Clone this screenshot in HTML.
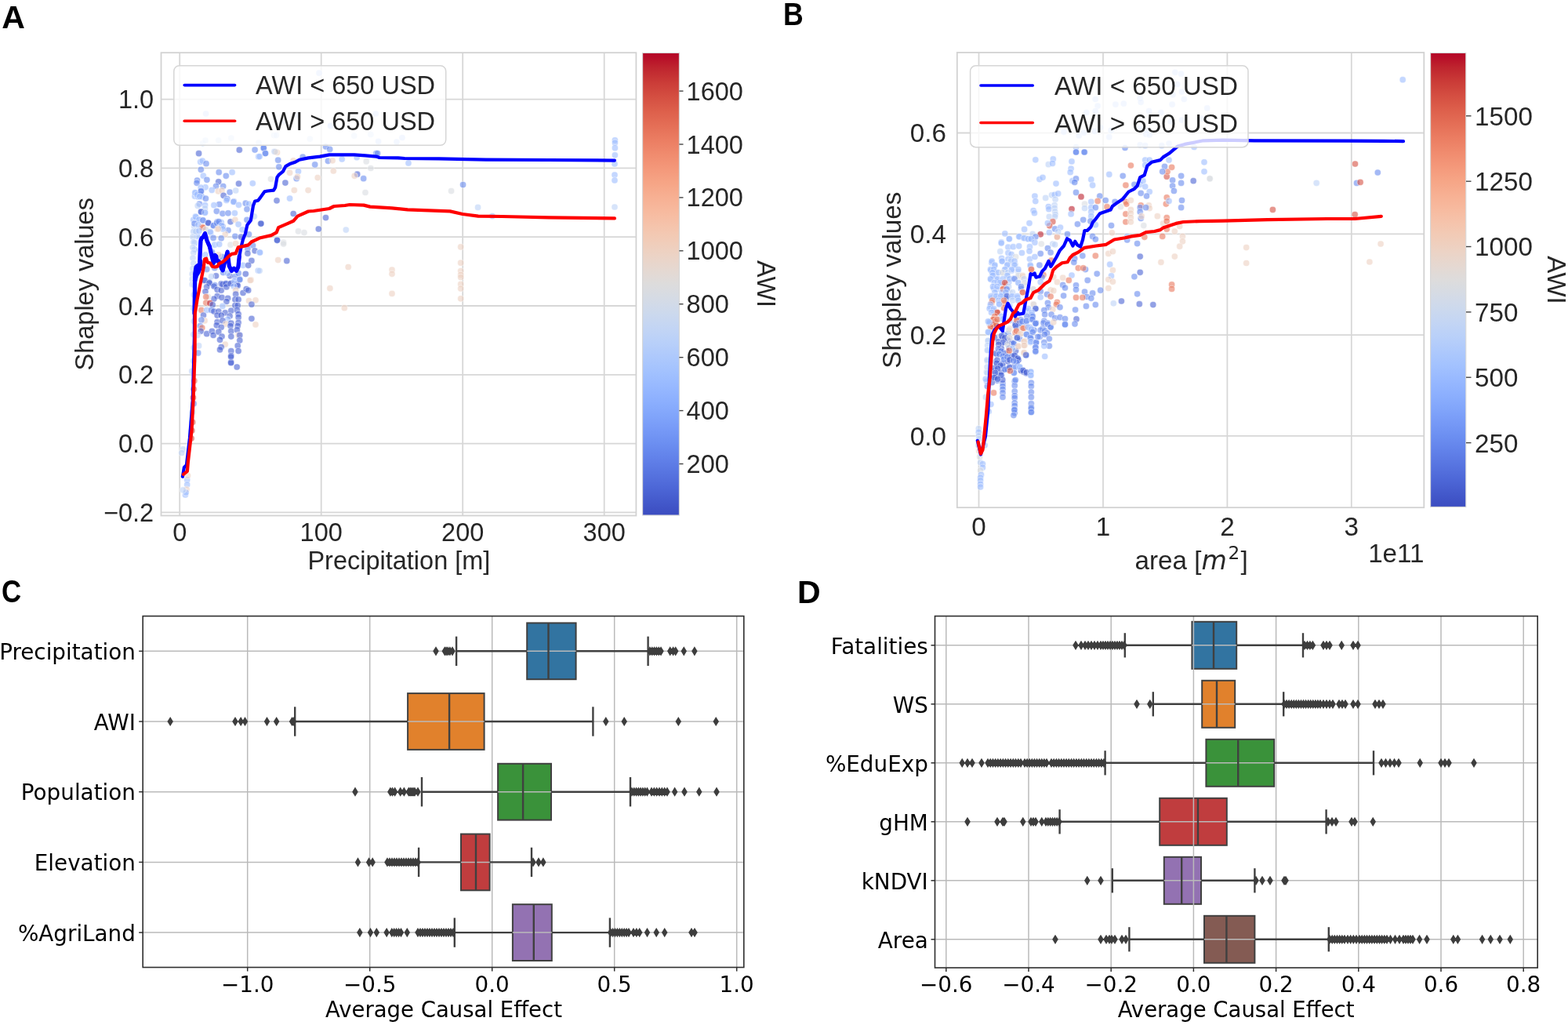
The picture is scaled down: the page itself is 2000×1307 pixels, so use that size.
<!DOCTYPE html>
<html><head><meta charset="utf-8"><title>Figure</title>
<style>html,body{margin:0;padding:0;background:#fff;}svg{display:block;}</style>
</head><body>
<svg width="2000" height="1307" viewBox="0 0 2000 1307">
<rect x="0" y="0" width="2000" height="1307" fill="#ffffff" stroke="none" stroke-width="0"/>
<text transform="translate(2.3,35.8) scale(1.0,1)" font-family="'Liberation Sans', Arial, sans-serif" font-weight="bold" font-size="41" fill="#000">A</text>
<text transform="translate(998.9,32) scale(0.87,1)" font-family="'Liberation Sans', Arial, sans-serif" font-weight="bold" font-size="41" fill="#000">B</text>
<text transform="translate(2.1,768.4) scale(0.85,1)" font-family="'Liberation Sans', Arial, sans-serif" font-weight="bold" font-size="41" fill="#000">C</text>
<text transform="translate(1016.9,768.8) scale(1.0,1)" font-family="'Liberation Sans', Arial, sans-serif" font-weight="bold" font-size="41" fill="#000">D</text>
<defs><clipPath id="clipA"><rect x="205.5" y="67.2" width="605.9" height="590.3"/></clipPath></defs>
<line x1="229.2" y1="67.2" x2="229.2" y2="657.5" stroke="#d7d7d7" stroke-width="1.8"/>
<line x1="409.7" y1="67.2" x2="409.7" y2="657.5" stroke="#d7d7d7" stroke-width="1.8"/>
<line x1="590.2" y1="67.2" x2="590.2" y2="657.5" stroke="#d7d7d7" stroke-width="1.8"/>
<line x1="770.7" y1="67.2" x2="770.7" y2="657.5" stroke="#d7d7d7" stroke-width="1.8"/>
<line x1="205.5" y1="653.4" x2="811.4" y2="653.4" stroke="#d7d7d7" stroke-width="1.8"/>
<line x1="205.5" y1="565.6" x2="811.4" y2="565.6" stroke="#d7d7d7" stroke-width="1.8"/>
<line x1="205.5" y1="477.8" x2="811.4" y2="477.8" stroke="#d7d7d7" stroke-width="1.8"/>
<line x1="205.5" y1="390" x2="811.4" y2="390" stroke="#d7d7d7" stroke-width="1.8"/>
<line x1="205.5" y1="302.2" x2="811.4" y2="302.2" stroke="#d7d7d7" stroke-width="1.8"/>
<line x1="205.5" y1="214.4" x2="811.4" y2="214.4" stroke="#d7d7d7" stroke-width="1.8"/>
<line x1="205.5" y1="126.6" x2="811.4" y2="126.6" stroke="#d7d7d7" stroke-width="1.8"/>
<rect x="205.5" y="67.2" width="605.9" height="590.3" fill="none" stroke="#d2d2d2" stroke-width="1.8"/>
<g clip-path="url(#clipA)" stroke="#fff" stroke-width="0.8">
<circle cx="258.6" cy="182.8" r="4.1" fill="#bcd2f7" fill-opacity="0.6" stroke-opacity="0.6"/>
<circle cx="262" cy="179" r="4.1" fill="#bcd2f7" fill-opacity="0.6" stroke-opacity="0.6"/>
<circle cx="278.7" cy="179" r="4.1" fill="#bcd2f7" fill-opacity="0.6" stroke-opacity="0.6"/>
<circle cx="294.8" cy="176.1" r="4.1" fill="#bcd2f7" fill-opacity="0.6" stroke-opacity="0.6"/>
<circle cx="330" cy="182" r="4.1" fill="#bcd2f7" fill-opacity="0.6" stroke-opacity="0.6"/>
<circle cx="253.6" cy="195.7" r="4.1" fill="#4a63d3" fill-opacity="0.6" stroke-opacity="0.6"/>
<circle cx="305.3" cy="191.2" r="4.1" fill="#4a63d3" fill-opacity="0.6" stroke-opacity="0.6"/>
<circle cx="325.1" cy="191.1" r="4.1" fill="#688aef" fill-opacity="0.6" stroke-opacity="0.6"/>
<circle cx="336.2" cy="188.9" r="4.1" fill="#688aef" fill-opacity="0.6" stroke-opacity="0.6"/>
<circle cx="338.2" cy="195.5" r="4.1" fill="#688aef" fill-opacity="0.6" stroke-opacity="0.6"/>
<circle cx="329.7" cy="199.8" r="4.1" fill="#9dbdff" fill-opacity="0.6" stroke-opacity="0.6"/>
<circle cx="255.7" cy="206.6" r="4.1" fill="#9dbdff" fill-opacity="0.6" stroke-opacity="0.6"/>
<circle cx="258.2" cy="205.1" r="4.1" fill="#9dbdff" fill-opacity="0.6" stroke-opacity="0.6"/>
<circle cx="263" cy="208.7" r="4.1" fill="#688aef" fill-opacity="0.6" stroke-opacity="0.6"/>
<circle cx="256.3" cy="216.3" r="4.1" fill="#688aef" fill-opacity="0.6" stroke-opacity="0.6"/>
<circle cx="259.3" cy="224.2" r="4.1" fill="#9dbdff" fill-opacity="0.6" stroke-opacity="0.6"/>
<circle cx="263.9" cy="229.3" r="4.1" fill="#688aef" fill-opacity="0.6" stroke-opacity="0.6"/>
<circle cx="251.5" cy="230" r="4.1" fill="#688aef" fill-opacity="0.6" stroke-opacity="0.6"/>
<circle cx="251" cy="233.3" r="4.1" fill="#688aef" fill-opacity="0.6" stroke-opacity="0.6"/>
<circle cx="279.2" cy="219.7" r="4.1" fill="#688aef" fill-opacity="0.6" stroke-opacity="0.6"/>
<circle cx="288.3" cy="224.3" r="4.1" fill="#688aef" fill-opacity="0.6" stroke-opacity="0.6"/>
<circle cx="296.1" cy="219.7" r="4.1" fill="#9dbdff" fill-opacity="0.6" stroke-opacity="0.6"/>
<circle cx="278.7" cy="231.8" r="4.1" fill="#4a63d3" fill-opacity="0.6" stroke-opacity="0.6"/>
<circle cx="304.5" cy="234.2" r="4.1" fill="#4a63d3" fill-opacity="0.6" stroke-opacity="0.6"/>
<circle cx="322.3" cy="233.8" r="4.1" fill="#9dbdff" fill-opacity="0.6" stroke-opacity="0.6"/>
<circle cx="275.5" cy="237.5" r="4.1" fill="#688aef" fill-opacity="0.6" stroke-opacity="0.6"/>
<circle cx="284.7" cy="237.5" r="4.1" fill="#688aef" fill-opacity="0.6" stroke-opacity="0.6"/>
<circle cx="262" cy="238.8" r="4.1" fill="#9dbdff" fill-opacity="0.6" stroke-opacity="0.6"/>
<circle cx="256.1" cy="239.2" r="4.1" fill="#9dbdff" fill-opacity="0.6" stroke-opacity="0.6"/>
<circle cx="270.2" cy="242.4" r="4.1" fill="#9dbdff" fill-opacity="0.6" stroke-opacity="0.6"/>
<circle cx="278.4" cy="243.9" r="4.1" fill="#edd1c2" fill-opacity="0.6" stroke-opacity="0.6"/>
<circle cx="283" cy="243" r="4.1" fill="#edd1c2" fill-opacity="0.6" stroke-opacity="0.6"/>
<circle cx="293.1" cy="245.1" r="4.1" fill="#688aef" fill-opacity="0.6" stroke-opacity="0.6"/>
<circle cx="300.7" cy="243" r="4.1" fill="#bcd2f7" fill-opacity="0.6" stroke-opacity="0.6"/>
<circle cx="249.4" cy="246" r="4.1" fill="#9dbdff" fill-opacity="0.6" stroke-opacity="0.6"/>
<circle cx="256.5" cy="243.4" r="4.1" fill="#688aef" fill-opacity="0.6" stroke-opacity="0.6"/>
<circle cx="255.7" cy="247.6" r="4.1" fill="#688aef" fill-opacity="0.6" stroke-opacity="0.6"/>
<circle cx="248.5" cy="250.2" r="4.1" fill="#9dbdff" fill-opacity="0.6" stroke-opacity="0.6"/>
<circle cx="252.7" cy="251" r="4.1" fill="#9dbdff" fill-opacity="0.6" stroke-opacity="0.6"/>
<circle cx="257.8" cy="251" r="4.1" fill="#9dbdff" fill-opacity="0.6" stroke-opacity="0.6"/>
<circle cx="262.4" cy="253.1" r="4.1" fill="#688aef" fill-opacity="0.6" stroke-opacity="0.6"/>
<circle cx="285.1" cy="249.3" r="4.1" fill="#4a63d3" fill-opacity="0.6" stroke-opacity="0.6"/>
<circle cx="289.8" cy="253.5" r="4.1" fill="#688aef" fill-opacity="0.6" stroke-opacity="0.6"/>
<circle cx="298.2" cy="256.9" r="4.1" fill="#688aef" fill-opacity="0.6" stroke-opacity="0.6"/>
<circle cx="254.4" cy="260.1" r="4.1" fill="#688aef" fill-opacity="0.6" stroke-opacity="0.6"/>
<circle cx="261.6" cy="261.7" r="4.1" fill="#9dbdff" fill-opacity="0.6" stroke-opacity="0.6"/>
<circle cx="279.7" cy="260.5" r="4.1" fill="#688aef" fill-opacity="0.6" stroke-opacity="0.6"/>
<circle cx="272.9" cy="261.7" r="4.1" fill="#9dbdff" fill-opacity="0.6" stroke-opacity="0.6"/>
<circle cx="288.9" cy="255.4" r="4.1" fill="#9dbdff" fill-opacity="0.6" stroke-opacity="0.6"/>
<circle cx="297.8" cy="257.5" r="4.1" fill="#9dbdff" fill-opacity="0.6" stroke-opacity="0.6"/>
<circle cx="304.5" cy="261.3" r="4.1" fill="#9dbdff" fill-opacity="0.6" stroke-opacity="0.6"/>
<circle cx="313.3" cy="259.2" r="4.1" fill="#688aef" fill-opacity="0.6" stroke-opacity="0.6"/>
<circle cx="317.5" cy="260.1" r="4.1" fill="#9dbdff" fill-opacity="0.6" stroke-opacity="0.6"/>
<circle cx="315" cy="266.8" r="4.1" fill="#688aef" fill-opacity="0.6" stroke-opacity="0.6"/>
<circle cx="261.6" cy="271" r="4.1" fill="#9dbdff" fill-opacity="0.6" stroke-opacity="0.6"/>
<circle cx="256.9" cy="270.2" r="4.1" fill="#688aef" fill-opacity="0.6" stroke-opacity="0.6"/>
<circle cx="276.3" cy="269.3" r="4.1" fill="#688aef" fill-opacity="0.6" stroke-opacity="0.6"/>
<circle cx="283.9" cy="272.3" r="4.1" fill="#688aef" fill-opacity="0.6" stroke-opacity="0.6"/>
<circle cx="291" cy="271.8" r="4.1" fill="#688aef" fill-opacity="0.6" stroke-opacity="0.6"/>
<circle cx="299.4" cy="271.8" r="4.1" fill="#9dbdff" fill-opacity="0.6" stroke-opacity="0.6"/>
<circle cx="249.4" cy="276" r="4.1" fill="#9dbdff" fill-opacity="0.6" stroke-opacity="0.6"/>
<circle cx="324.3" cy="276" r="4.1" fill="#bcd2f7" fill-opacity="0.6" stroke-opacity="0.6"/>
<circle cx="252.7" cy="280.3" r="4.1" fill="#9dbdff" fill-opacity="0.6" stroke-opacity="0.6"/>
<circle cx="258.6" cy="281.1" r="4.1" fill="#9dbdff" fill-opacity="0.6" stroke-opacity="0.6"/>
<circle cx="265.4" cy="284" r="4.1" fill="#4a63d3" fill-opacity="0.6" stroke-opacity="0.6"/>
<circle cx="272.1" cy="287.8" r="4.1" fill="#688aef" fill-opacity="0.6" stroke-opacity="0.6"/>
<circle cx="277.1" cy="282.8" r="4.1" fill="#688aef" fill-opacity="0.6" stroke-opacity="0.6"/>
<circle cx="282.2" cy="283.6" r="4.1" fill="#9dbdff" fill-opacity="0.6" stroke-opacity="0.6"/>
<circle cx="294" cy="282.8" r="4.1" fill="#4a63d3" fill-opacity="0.6" stroke-opacity="0.6"/>
<circle cx="299.9" cy="280.3" r="4.1" fill="#edd1c2" fill-opacity="0.6" stroke-opacity="0.6"/>
<circle cx="304.1" cy="286.1" r="4.1" fill="#9dbdff" fill-opacity="0.6" stroke-opacity="0.6"/>
<circle cx="315" cy="280.3" r="4.1" fill="#688aef" fill-opacity="0.6" stroke-opacity="0.6"/>
<circle cx="332.7" cy="285.3" r="4.1" fill="#4a63d3" fill-opacity="0.6" stroke-opacity="0.6"/>
<circle cx="257.8" cy="289.5" r="4.1" fill="#e9785d" fill-opacity="0.6" stroke-opacity="0.6"/>
<circle cx="262.8" cy="292.9" r="4.1" fill="#d9dce1" fill-opacity="0.6" stroke-opacity="0.6"/>
<circle cx="277.1" cy="292" r="4.1" fill="#edd1c2" fill-opacity="0.6" stroke-opacity="0.6"/>
<circle cx="283.9" cy="288.7" r="4.1" fill="#688aef" fill-opacity="0.6" stroke-opacity="0.6"/>
<circle cx="291" cy="293.7" r="4.1" fill="#688aef" fill-opacity="0.6" stroke-opacity="0.6"/>
<circle cx="309.1" cy="292.9" r="4.1" fill="#9dbdff" fill-opacity="0.6" stroke-opacity="0.6"/>
<circle cx="248.5" cy="294.6" r="4.1" fill="#9dbdff" fill-opacity="0.6" stroke-opacity="0.6"/>
<circle cx="268.7" cy="297.1" r="4.1" fill="#9dbdff" fill-opacity="0.6" stroke-opacity="0.6"/>
<circle cx="287.2" cy="298.8" r="4.1" fill="#edd1c2" fill-opacity="0.6" stroke-opacity="0.6"/>
<circle cx="317.5" cy="298.8" r="4.1" fill="#688aef" fill-opacity="0.6" stroke-opacity="0.6"/>
<circle cx="251.9" cy="301.3" r="4.1" fill="#9dbdff" fill-opacity="0.6" stroke-opacity="0.6"/>
<circle cx="272.1" cy="303.4" r="4.1" fill="#688aef" fill-opacity="0.6" stroke-opacity="0.6"/>
<circle cx="282.2" cy="303.8" r="4.1" fill="#688aef" fill-opacity="0.6" stroke-opacity="0.6"/>
<circle cx="299.9" cy="301.3" r="4.1" fill="#688aef" fill-opacity="0.6" stroke-opacity="0.6"/>
<circle cx="307.4" cy="302.1" r="4.1" fill="#4a63d3" fill-opacity="0.6" stroke-opacity="0.6"/>
<circle cx="248.5" cy="309.7" r="4.1" fill="#9dbdff" fill-opacity="0.6" stroke-opacity="0.6"/>
<circle cx="273.8" cy="312.2" r="4.1" fill="#9dbdff" fill-opacity="0.6" stroke-opacity="0.6"/>
<circle cx="279.7" cy="311.4" r="4.1" fill="#9dbdff" fill-opacity="0.6" stroke-opacity="0.6"/>
<circle cx="294" cy="312.2" r="4.1" fill="#d9dce1" fill-opacity="0.6" stroke-opacity="0.6"/>
<circle cx="300.7" cy="310.6" r="4.1" fill="#edd1c2" fill-opacity="0.6" stroke-opacity="0.6"/>
<circle cx="322.6" cy="313.1" r="4.1" fill="#688aef" fill-opacity="0.6" stroke-opacity="0.6"/>
<circle cx="248.5" cy="318.1" r="4.1" fill="#9dbdff" fill-opacity="0.6" stroke-opacity="0.6"/>
<circle cx="315.9" cy="317.3" r="4.1" fill="#688aef" fill-opacity="0.6" stroke-opacity="0.6"/>
<circle cx="325.1" cy="319.8" r="4.1" fill="#4a63d3" fill-opacity="0.6" stroke-opacity="0.6"/>
<circle cx="331" cy="321.9" r="4.1" fill="#9dbdff" fill-opacity="0.6" stroke-opacity="0.6"/>
<circle cx="315.9" cy="323.2" r="4.1" fill="#4a63d3" fill-opacity="0.6" stroke-opacity="0.6"/>
<circle cx="270.4" cy="321.5" r="4.1" fill="#688aef" fill-opacity="0.6" stroke-opacity="0.6"/>
<circle cx="262" cy="324.9" r="4.1" fill="#9dbdff" fill-opacity="0.6" stroke-opacity="0.6"/>
<circle cx="283" cy="327.4" r="4.1" fill="#688aef" fill-opacity="0.6" stroke-opacity="0.6"/>
<circle cx="278.8" cy="324.9" r="4.1" fill="#edd1c2" fill-opacity="0.6" stroke-opacity="0.6"/>
<circle cx="320.9" cy="332.4" r="4.1" fill="#4a63d3" fill-opacity="0.6" stroke-opacity="0.6"/>
<circle cx="310" cy="338.3" r="4.1" fill="#9dbdff" fill-opacity="0.6" stroke-opacity="0.6"/>
<circle cx="316.7" cy="338.3" r="4.1" fill="#4a63d3" fill-opacity="0.6" stroke-opacity="0.6"/>
<circle cx="329.3" cy="345.1" r="4.1" fill="#9dbdff" fill-opacity="0.6" stroke-opacity="0.6"/>
<circle cx="263.7" cy="343.4" r="4.1" fill="#688aef" fill-opacity="0.6" stroke-opacity="0.6"/>
<circle cx="273.8" cy="341.7" r="4.1" fill="#688aef" fill-opacity="0.6" stroke-opacity="0.6"/>
<circle cx="313.3" cy="349.3" r="4.1" fill="#4a63d3" fill-opacity="0.6" stroke-opacity="0.6"/>
<circle cx="320.1" cy="356.9" r="4.1" fill="#edd1c2" fill-opacity="0.6" stroke-opacity="0.6"/>
<circle cx="275.5" cy="351.8" r="4.1" fill="#4a63d3" fill-opacity="0.6" stroke-opacity="0.6"/>
<circle cx="269.6" cy="352.6" r="4.1" fill="#bcd2f7" fill-opacity="0.6" stroke-opacity="0.6"/>
<circle cx="293.1" cy="351.8" r="4.1" fill="#4a63d3" fill-opacity="0.6" stroke-opacity="0.6"/>
<circle cx="299.9" cy="352.6" r="4.1" fill="#688aef" fill-opacity="0.6" stroke-opacity="0.6"/>
<circle cx="305.8" cy="356" r="4.1" fill="#688aef" fill-opacity="0.6" stroke-opacity="0.6"/>
<circle cx="304.1" cy="348.4" r="4.1" fill="#688aef" fill-opacity="0.6" stroke-opacity="0.6"/>
<circle cx="284.7" cy="347.6" r="4.1" fill="#688aef" fill-opacity="0.6" stroke-opacity="0.6"/>
<circle cx="290.6" cy="348.4" r="4.1" fill="#9dbdff" fill-opacity="0.6" stroke-opacity="0.6"/>
<circle cx="260.3" cy="357.7" r="4.1" fill="#688aef" fill-opacity="0.6" stroke-opacity="0.6"/>
<circle cx="267" cy="360.2" r="4.1" fill="#4a63d3" fill-opacity="0.6" stroke-opacity="0.6"/>
<circle cx="282.2" cy="361.9" r="4.1" fill="#4a63d3" fill-opacity="0.6" stroke-opacity="0.6"/>
<circle cx="288.9" cy="361.9" r="4.1" fill="#688aef" fill-opacity="0.6" stroke-opacity="0.6"/>
<circle cx="295.7" cy="361.1" r="4.1" fill="#4a63d3" fill-opacity="0.6" stroke-opacity="0.6"/>
<circle cx="302.4" cy="362.7" r="4.1" fill="#4a63d3" fill-opacity="0.6" stroke-opacity="0.6"/>
<circle cx="273.8" cy="363.6" r="4.1" fill="#688aef" fill-opacity="0.6" stroke-opacity="0.6"/>
<circle cx="246.8" cy="280.3" r="4.1" fill="#9dbdff" fill-opacity="0.6" stroke-opacity="0.6"/>
<circle cx="247.7" cy="288.7" r="4.1" fill="#bcd2f7" fill-opacity="0.6" stroke-opacity="0.6"/>
<circle cx="246.8" cy="295.4" r="4.1" fill="#bcd2f7" fill-opacity="0.6" stroke-opacity="0.6"/>
<circle cx="246" cy="302.1" r="4.1" fill="#bcd2f7" fill-opacity="0.6" stroke-opacity="0.6"/>
<circle cx="246.8" cy="308.9" r="4.1" fill="#bcd2f7" fill-opacity="0.6" stroke-opacity="0.6"/>
<circle cx="246" cy="315.6" r="4.1" fill="#bcd2f7" fill-opacity="0.6" stroke-opacity="0.6"/>
<circle cx="246.8" cy="322.3" r="4.1" fill="#bcd2f7" fill-opacity="0.6" stroke-opacity="0.6"/>
<circle cx="246" cy="329.1" r="4.1" fill="#bcd2f7" fill-opacity="0.6" stroke-opacity="0.6"/>
<circle cx="246.8" cy="335.8" r="4.1" fill="#bcd2f7" fill-opacity="0.6" stroke-opacity="0.6"/>
<circle cx="246" cy="342.5" r="4.1" fill="#bcd2f7" fill-opacity="0.6" stroke-opacity="0.6"/>
<circle cx="245.2" cy="349.3" r="4.1" fill="#bcd2f7" fill-opacity="0.6" stroke-opacity="0.6"/>
<circle cx="245.2" cy="356" r="4.1" fill="#bcd2f7" fill-opacity="0.6" stroke-opacity="0.6"/>
<circle cx="245.2" cy="362.7" r="4.1" fill="#bcd2f7" fill-opacity="0.6" stroke-opacity="0.6"/>
<circle cx="261.1" cy="357.5" r="4.1" fill="#4a63d3" fill-opacity="0.6" stroke-opacity="0.6"/>
<circle cx="267" cy="360.9" r="4.1" fill="#4a63d3" fill-opacity="0.6" stroke-opacity="0.6"/>
<circle cx="263.7" cy="365.9" r="4.1" fill="#4a63d3" fill-opacity="0.6" stroke-opacity="0.6"/>
<circle cx="262" cy="371.8" r="4.1" fill="#4a63d3" fill-opacity="0.6" stroke-opacity="0.6"/>
<circle cx="272.9" cy="365.1" r="4.1" fill="#4a63d3" fill-opacity="0.6" stroke-opacity="0.6"/>
<circle cx="277.1" cy="369.3" r="4.1" fill="#4a63d3" fill-opacity="0.6" stroke-opacity="0.6"/>
<circle cx="282.2" cy="370.2" r="4.1" fill="#4a63d3" fill-opacity="0.6" stroke-opacity="0.6"/>
<circle cx="283.9" cy="362.6" r="4.1" fill="#4a63d3" fill-opacity="0.6" stroke-opacity="0.6"/>
<circle cx="288.1" cy="361.7" r="4.1" fill="#4a63d3" fill-opacity="0.6" stroke-opacity="0.6"/>
<circle cx="288.9" cy="365.9" r="4.1" fill="#4a63d3" fill-opacity="0.6" stroke-opacity="0.6"/>
<circle cx="294" cy="361.7" r="4.1" fill="#4a63d3" fill-opacity="0.6" stroke-opacity="0.6"/>
<circle cx="299" cy="358.4" r="4.1" fill="#9dbdff" fill-opacity="0.6" stroke-opacity="0.6"/>
<circle cx="305.8" cy="356.7" r="4.1" fill="#688aef" fill-opacity="0.6" stroke-opacity="0.6"/>
<circle cx="319.2" cy="357.5" r="4.1" fill="#edd1c2" fill-opacity="0.6" stroke-opacity="0.6"/>
<circle cx="303.2" cy="364.3" r="4.1" fill="#4a63d3" fill-opacity="0.6" stroke-opacity="0.6"/>
<circle cx="298.2" cy="365.1" r="4.1" fill="#9dbdff" fill-opacity="0.6" stroke-opacity="0.6"/>
<circle cx="300.7" cy="370.2" r="4.1" fill="#edd1c2" fill-opacity="0.6" stroke-opacity="0.6"/>
<circle cx="300.7" cy="375.2" r="4.1" fill="#4a63d3" fill-opacity="0.6" stroke-opacity="0.6"/>
<circle cx="310" cy="373.5" r="4.1" fill="#4a63d3" fill-opacity="0.6" stroke-opacity="0.6"/>
<circle cx="314.2" cy="368.5" r="4.1" fill="#4a63d3" fill-opacity="0.6" stroke-opacity="0.6"/>
<circle cx="316.7" cy="370.2" r="4.1" fill="#4a63d3" fill-opacity="0.6" stroke-opacity="0.6"/>
<circle cx="277.1" cy="377.7" r="4.1" fill="#4a63d3" fill-opacity="0.6" stroke-opacity="0.6"/>
<circle cx="272.9" cy="381.1" r="4.1" fill="#4a63d3" fill-opacity="0.6" stroke-opacity="0.6"/>
<circle cx="283" cy="379.4" r="4.1" fill="#4a63d3" fill-opacity="0.6" stroke-opacity="0.6"/>
<circle cx="290.6" cy="380.3" r="4.1" fill="#4a63d3" fill-opacity="0.6" stroke-opacity="0.6"/>
<circle cx="288.9" cy="384.5" r="4.1" fill="#4a63d3" fill-opacity="0.6" stroke-opacity="0.6"/>
<circle cx="299.9" cy="381.9" r="4.1" fill="#4a63d3" fill-opacity="0.6" stroke-opacity="0.6"/>
<circle cx="304.1" cy="381.9" r="4.1" fill="#4a63d3" fill-opacity="0.6" stroke-opacity="0.6"/>
<circle cx="265.4" cy="378.6" r="4.1" fill="#d9dce1" fill-opacity="0.6" stroke-opacity="0.6"/>
<circle cx="262.8" cy="378.6" r="4.1" fill="#e9785d" fill-opacity="0.6" stroke-opacity="0.6"/>
<circle cx="262.8" cy="386.1" r="4.1" fill="#e9785d" fill-opacity="0.6" stroke-opacity="0.6"/>
<circle cx="267.9" cy="386.6" r="4.1" fill="#bd1f2d" fill-opacity="0.6" stroke-opacity="0.6"/>
<circle cx="271.2" cy="388.7" r="4.1" fill="#4a63d3" fill-opacity="0.6" stroke-opacity="0.6"/>
<circle cx="283.9" cy="390.4" r="4.1" fill="#9dbdff" fill-opacity="0.6" stroke-opacity="0.6"/>
<circle cx="299.9" cy="389.5" r="4.1" fill="#4a63d3" fill-opacity="0.6" stroke-opacity="0.6"/>
<circle cx="303.2" cy="389.5" r="4.1" fill="#4a63d3" fill-opacity="0.6" stroke-opacity="0.6"/>
<circle cx="317.5" cy="383.6" r="4.1" fill="#edd1c2" fill-opacity="0.6" stroke-opacity="0.6"/>
<circle cx="326" cy="382.8" r="4.1" fill="#edd1c2" fill-opacity="0.6" stroke-opacity="0.6"/>
<circle cx="320.9" cy="388.2" r="4.1" fill="#4a63d3" fill-opacity="0.6" stroke-opacity="0.6"/>
<circle cx="256.9" cy="395.4" r="4.1" fill="#e9785d" fill-opacity="0.6" stroke-opacity="0.6"/>
<circle cx="263.7" cy="395.4" r="4.1" fill="#9dbdff" fill-opacity="0.6" stroke-opacity="0.6"/>
<circle cx="269.6" cy="395.4" r="4.1" fill="#688aef" fill-opacity="0.6" stroke-opacity="0.6"/>
<circle cx="272.9" cy="397.1" r="4.1" fill="#4a63d3" fill-opacity="0.6" stroke-opacity="0.6"/>
<circle cx="278.8" cy="397.1" r="4.1" fill="#4a63d3" fill-opacity="0.6" stroke-opacity="0.6"/>
<circle cx="287.2" cy="398.8" r="4.1" fill="#4a63d3" fill-opacity="0.6" stroke-opacity="0.6"/>
<circle cx="294.8" cy="396.2" r="4.1" fill="#4a63d3" fill-opacity="0.6" stroke-opacity="0.6"/>
<circle cx="302.4" cy="395.4" r="4.1" fill="#4a63d3" fill-opacity="0.6" stroke-opacity="0.6"/>
<circle cx="304.1" cy="400.5" r="4.1" fill="#4a63d3" fill-opacity="0.6" stroke-opacity="0.6"/>
<circle cx="259.5" cy="402.1" r="4.1" fill="#4a63d3" fill-opacity="0.6" stroke-opacity="0.6"/>
<circle cx="277.1" cy="402.1" r="4.1" fill="#4a63d3" fill-opacity="0.6" stroke-opacity="0.6"/>
<circle cx="282.2" cy="402.1" r="4.1" fill="#4a63d3" fill-opacity="0.6" stroke-opacity="0.6"/>
<circle cx="293.1" cy="403" r="4.1" fill="#4a63d3" fill-opacity="0.6" stroke-opacity="0.6"/>
<circle cx="304.1" cy="404.7" r="4.1" fill="#4a63d3" fill-opacity="0.6" stroke-opacity="0.6"/>
<circle cx="261.1" cy="408.9" r="4.1" fill="#edd1c2" fill-opacity="0.6" stroke-opacity="0.6"/>
<circle cx="256.9" cy="408" r="4.1" fill="#688aef" fill-opacity="0.6" stroke-opacity="0.6"/>
<circle cx="290.6" cy="407.2" r="4.1" fill="#9dbdff" fill-opacity="0.6" stroke-opacity="0.6"/>
<circle cx="277.1" cy="410.6" r="4.1" fill="#4a63d3" fill-opacity="0.6" stroke-opacity="0.6"/>
<circle cx="283.9" cy="408.9" r="4.1" fill="#4a63d3" fill-opacity="0.6" stroke-opacity="0.6"/>
<circle cx="288.1" cy="413.1" r="4.1" fill="#edd1c2" fill-opacity="0.6" stroke-opacity="0.6"/>
<circle cx="294.8" cy="412.2" r="4.1" fill="#4a63d3" fill-opacity="0.6" stroke-opacity="0.6"/>
<circle cx="304.1" cy="411.4" r="4.1" fill="#4a63d3" fill-opacity="0.6" stroke-opacity="0.6"/>
<circle cx="320.9" cy="406.3" r="4.1" fill="#4a63d3" fill-opacity="0.6" stroke-opacity="0.6"/>
<circle cx="326" cy="413.9" r="4.1" fill="#edd1c2" fill-opacity="0.6" stroke-opacity="0.6"/>
<circle cx="255.3" cy="415.6" r="4.1" fill="#688aef" fill-opacity="0.6" stroke-opacity="0.6"/>
<circle cx="257.8" cy="418.1" r="4.1" fill="#e9785d" fill-opacity="0.6" stroke-opacity="0.6"/>
<circle cx="276.3" cy="414.8" r="4.1" fill="#4a63d3" fill-opacity="0.6" stroke-opacity="0.6"/>
<circle cx="282.2" cy="417.3" r="4.1" fill="#4a63d3" fill-opacity="0.6" stroke-opacity="0.6"/>
<circle cx="294" cy="415.6" r="4.1" fill="#4a63d3" fill-opacity="0.6" stroke-opacity="0.6"/>
<circle cx="303.2" cy="415.6" r="4.1" fill="#4a63d3" fill-opacity="0.6" stroke-opacity="0.6"/>
<circle cx="256.1" cy="422.3" r="4.1" fill="#4a63d3" fill-opacity="0.6" stroke-opacity="0.6"/>
<circle cx="263.7" cy="425.7" r="4.1" fill="#4a63d3" fill-opacity="0.6" stroke-opacity="0.6"/>
<circle cx="270.4" cy="422.3" r="4.1" fill="#4a63d3" fill-opacity="0.6" stroke-opacity="0.6"/>
<circle cx="272.1" cy="427.4" r="4.1" fill="#4a63d3" fill-opacity="0.6" stroke-opacity="0.6"/>
<circle cx="278.8" cy="423.2" r="4.1" fill="#4a63d3" fill-opacity="0.6" stroke-opacity="0.6"/>
<circle cx="283" cy="429.1" r="4.1" fill="#4a63d3" fill-opacity="0.6" stroke-opacity="0.6"/>
<circle cx="294.8" cy="422.3" r="4.1" fill="#4a63d3" fill-opacity="0.6" stroke-opacity="0.6"/>
<circle cx="302.4" cy="420.7" r="4.1" fill="#4a63d3" fill-opacity="0.6" stroke-opacity="0.6"/>
<circle cx="294.8" cy="429.1" r="4.1" fill="#4a63d3" fill-opacity="0.6" stroke-opacity="0.6"/>
<circle cx="304.1" cy="427.4" r="4.1" fill="#edd1c2" fill-opacity="0.6" stroke-opacity="0.6"/>
<circle cx="305.8" cy="427.4" r="4.1" fill="#4a63d3" fill-opacity="0.6" stroke-opacity="0.6"/>
<circle cx="280.5" cy="433.3" r="4.1" fill="#4a63d3" fill-opacity="0.6" stroke-opacity="0.6"/>
<circle cx="305.8" cy="434.1" r="4.1" fill="#4a63d3" fill-opacity="0.6" stroke-opacity="0.6"/>
<circle cx="287.2" cy="439.2" r="4.1" fill="#edd1c2" fill-opacity="0.6" stroke-opacity="0.6"/>
<circle cx="282.2" cy="442.5" r="4.1" fill="#4a63d3" fill-opacity="0.6" stroke-opacity="0.6"/>
<circle cx="280.5" cy="445.9" r="4.1" fill="#4a63d3" fill-opacity="0.6" stroke-opacity="0.6"/>
<circle cx="303.2" cy="440.9" r="4.1" fill="#4a63d3" fill-opacity="0.6" stroke-opacity="0.6"/>
<circle cx="294.8" cy="447.6" r="4.1" fill="#4a63d3" fill-opacity="0.6" stroke-opacity="0.6"/>
<circle cx="304.1" cy="447.6" r="4.1" fill="#4a63d3" fill-opacity="0.6" stroke-opacity="0.6"/>
<circle cx="294.8" cy="453.5" r="4.1" fill="#4a63d3" fill-opacity="0.6" stroke-opacity="0.6"/>
<circle cx="294.8" cy="461.9" r="4.1" fill="#4a63d3" fill-opacity="0.6" stroke-opacity="0.6"/>
<circle cx="252.7" cy="450.1" r="4.1" fill="#688aef" fill-opacity="0.6" stroke-opacity="0.6"/>
<circle cx="253.6" cy="440.9" r="4.1" fill="#bcd2f7" fill-opacity="0.6" stroke-opacity="0.6"/>
<circle cx="251.9" cy="427.4" r="4.1" fill="#bcd2f7" fill-opacity="0.6" stroke-opacity="0.6"/>
<circle cx="247.3" cy="363.4" r="4.1" fill="#bcd2f7" fill-opacity="0.6" stroke-opacity="0.6"/>
<circle cx="247.3" cy="376" r="4.1" fill="#bcd2f7" fill-opacity="0.6" stroke-opacity="0.6"/>
<circle cx="246.8" cy="392.9" r="4.1" fill="#bcd2f7" fill-opacity="0.6" stroke-opacity="0.6"/>
<circle cx="247.3" cy="409.7" r="4.1" fill="#bcd2f7" fill-opacity="0.6" stroke-opacity="0.6"/>
<circle cx="246.8" cy="426.5" r="4.1" fill="#bcd2f7" fill-opacity="0.6" stroke-opacity="0.6"/>
<circle cx="247.3" cy="443.4" r="4.1" fill="#bcd2f7" fill-opacity="0.6" stroke-opacity="0.6"/>
<circle cx="246.8" cy="460.2" r="4.1" fill="#bcd2f7" fill-opacity="0.6" stroke-opacity="0.6"/>
<circle cx="294.6" cy="462.7" r="4.1" fill="#4a63d3" fill-opacity="0.6" stroke-opacity="0.6"/>
<circle cx="302.2" cy="468" r="4.1" fill="#4a63d3" fill-opacity="0.6" stroke-opacity="0.6"/>
<circle cx="294.6" cy="455" r="4.1" fill="#4a63d3" fill-opacity="0.6" stroke-opacity="0.6"/>
<circle cx="238.7" cy="611.9" r="4.1" fill="#9dbdff" fill-opacity="0.6" stroke-opacity="0.6"/>
<circle cx="238.7" cy="618" r="4.1" fill="#9dbdff" fill-opacity="0.6" stroke-opacity="0.6"/>
<circle cx="238" cy="624.1" r="4.1" fill="#edd1c2" fill-opacity="0.6" stroke-opacity="0.6"/>
<circle cx="236.4" cy="631" r="4.1" fill="#9dbdff" fill-opacity="0.6" stroke-opacity="0.6"/>
<circle cx="237.2" cy="628" r="4.1" fill="#9dbdff" fill-opacity="0.6" stroke-opacity="0.6"/>
<circle cx="233.4" cy="624.9" r="4.1" fill="#bcd2f7" fill-opacity="0.6" stroke-opacity="0.6"/>
<circle cx="239.5" cy="606.5" r="4.1" fill="#edd1c2" fill-opacity="0.6" stroke-opacity="0.6"/>
<circle cx="246.4" cy="507" r="4.1" fill="#d55042" fill-opacity="0.6" stroke-opacity="0.6"/>
<circle cx="245.6" cy="538.4" r="4.1" fill="#d55042" fill-opacity="0.6" stroke-opacity="0.6"/>
<circle cx="244.8" cy="549.1" r="4.1" fill="#d55042" fill-opacity="0.6" stroke-opacity="0.6"/>
<circle cx="247.1" cy="496.3" r="4.1" fill="#d55042" fill-opacity="0.6" stroke-opacity="0.6"/>
<circle cx="247.9" cy="485.6" r="4.1" fill="#e9785d" fill-opacity="0.6" stroke-opacity="0.6"/>
<circle cx="247.1" cy="514.7" r="4.1" fill="#688aef" fill-opacity="0.6" stroke-opacity="0.6"/>
<circle cx="233.4" cy="572.9" r="4.1" fill="#bcd2f7" fill-opacity="0.6" stroke-opacity="0.6"/>
<circle cx="231.8" cy="577.5" r="4.1" fill="#bcd2f7" fill-opacity="0.6" stroke-opacity="0.6"/>
<circle cx="245.6" cy="525.4" r="4.1" fill="#bcd2f7" fill-opacity="0.6" stroke-opacity="0.6"/>
<circle cx="244.8" cy="473.4" r="4.1" fill="#bcd2f7" fill-opacity="0.6" stroke-opacity="0.6"/>
<circle cx="244.1" cy="559.1" r="4.1" fill="#d55042" fill-opacity="0.6" stroke-opacity="0.6"/>
<circle cx="349.5" cy="172.6" r="4.1" fill="#bcd2f7" fill-opacity="0.6" stroke-opacity="0.6"/>
<circle cx="352.4" cy="172.6" r="4.1" fill="#bcd2f7" fill-opacity="0.6" stroke-opacity="0.6"/>
<circle cx="395.4" cy="177.2" r="4.1" fill="#bcd2f7" fill-opacity="0.6" stroke-opacity="0.6"/>
<circle cx="451.7" cy="173.2" r="4.1" fill="#bcd2f7" fill-opacity="0.6" stroke-opacity="0.6"/>
<circle cx="472.9" cy="171.5" r="4.1" fill="#bcd2f7" fill-opacity="0.6" stroke-opacity="0.6"/>
<circle cx="421.8" cy="161.1" r="4.1" fill="#bcd2f7" fill-opacity="0.6" stroke-opacity="0.6"/>
<circle cx="336.3" cy="188.7" r="4.1" fill="#688aef" fill-opacity="0.6" stroke-opacity="0.6"/>
<circle cx="338.6" cy="195.6" r="4.1" fill="#688aef" fill-opacity="0.6" stroke-opacity="0.6"/>
<circle cx="331.1" cy="199.6" r="4.1" fill="#9dbdff" fill-opacity="0.6" stroke-opacity="0.6"/>
<circle cx="350.1" cy="193.3" r="4.1" fill="#9dbdff" fill-opacity="0.6" stroke-opacity="0.6"/>
<circle cx="353.5" cy="194.4" r="4.1" fill="#edd1c2" fill-opacity="0.6" stroke-opacity="0.6"/>
<circle cx="354.7" cy="204.2" r="4.1" fill="#688aef" fill-opacity="0.6" stroke-opacity="0.6"/>
<circle cx="355.8" cy="212.8" r="4.1" fill="#688aef" fill-opacity="0.6" stroke-opacity="0.6"/>
<circle cx="374.2" cy="204.8" r="4.1" fill="#edd1c2" fill-opacity="0.6" stroke-opacity="0.6"/>
<circle cx="386.2" cy="200.2" r="4.1" fill="#688aef" fill-opacity="0.6" stroke-opacity="0.6"/>
<circle cx="380.5" cy="218.5" r="4.1" fill="#9dbdff" fill-opacity="0.6" stroke-opacity="0.6"/>
<circle cx="369.6" cy="220.3" r="4.1" fill="#edd1c2" fill-opacity="0.6" stroke-opacity="0.6"/>
<circle cx="378.2" cy="227.7" r="4.1" fill="#688aef" fill-opacity="0.6" stroke-opacity="0.6"/>
<circle cx="379.4" cy="225.4" r="4.1" fill="#edd1c2" fill-opacity="0.6" stroke-opacity="0.6"/>
<circle cx="345.5" cy="228.3" r="4.1" fill="#d9dce1" fill-opacity="0.6" stroke-opacity="0.6"/>
<circle cx="363.9" cy="233.1" r="4.1" fill="#4a63d3" fill-opacity="0.6" stroke-opacity="0.6"/>
<circle cx="405.2" cy="226.6" r="4.1" fill="#edd1c2" fill-opacity="0.6" stroke-opacity="0.6"/>
<circle cx="401.7" cy="209.9" r="4.1" fill="#688aef" fill-opacity="0.6" stroke-opacity="0.6"/>
<circle cx="415.5" cy="187" r="4.1" fill="#688aef" fill-opacity="0.6" stroke-opacity="0.6"/>
<circle cx="420.7" cy="190.4" r="4.1" fill="#688aef" fill-opacity="0.6" stroke-opacity="0.6"/>
<circle cx="418.4" cy="205.3" r="4.1" fill="#688aef" fill-opacity="0.6" stroke-opacity="0.6"/>
<circle cx="424.1" cy="204.8" r="4.1" fill="#edd1c2" fill-opacity="0.6" stroke-opacity="0.6"/>
<circle cx="436.2" cy="203" r="4.1" fill="#9dbdff" fill-opacity="0.6" stroke-opacity="0.6"/>
<circle cx="455.1" cy="200.7" r="4.1" fill="#9dbdff" fill-opacity="0.6" stroke-opacity="0.6"/>
<circle cx="467.2" cy="205.9" r="4.1" fill="#d9dce1" fill-opacity="0.6" stroke-opacity="0.6"/>
<circle cx="472.9" cy="214.5" r="4.1" fill="#d9dce1" fill-opacity="0.6" stroke-opacity="0.6"/>
<circle cx="425.3" cy="218" r="4.1" fill="#edd1c2" fill-opacity="0.6" stroke-opacity="0.6"/>
<circle cx="455.7" cy="222.2" r="4.1" fill="#4a63d3" fill-opacity="0.6" stroke-opacity="0.6"/>
<circle cx="452.2" cy="224.3" r="4.1" fill="#edd1c2" fill-opacity="0.6" stroke-opacity="0.6"/>
<circle cx="463.7" cy="227.7" r="4.1" fill="#688aef" fill-opacity="0.6" stroke-opacity="0.6"/>
<circle cx="466" cy="245.5" r="4.1" fill="#d9dce1" fill-opacity="0.6" stroke-opacity="0.6"/>
<circle cx="479.8" cy="195.6" r="4.1" fill="#688aef" fill-opacity="0.6" stroke-opacity="0.6"/>
<circle cx="375.3" cy="242.6" r="4.1" fill="#edd1c2" fill-opacity="0.6" stroke-opacity="0.6"/>
<circle cx="393.1" cy="242.6" r="4.1" fill="#edd1c2" fill-opacity="0.6" stroke-opacity="0.6"/>
<circle cx="369.6" cy="253" r="4.1" fill="#9dbdff" fill-opacity="0.6" stroke-opacity="0.6"/>
<circle cx="353" cy="255.8" r="4.1" fill="#4a63d3" fill-opacity="0.6" stroke-opacity="0.6"/>
<circle cx="374.2" cy="272.5" r="4.1" fill="#4a63d3" fill-opacity="0.6" stroke-opacity="0.6"/>
<circle cx="415.5" cy="277.6" r="4.1" fill="#4a63d3" fill-opacity="0.6" stroke-opacity="0.6"/>
<circle cx="332.9" cy="285.1" r="4.1" fill="#4a63d3" fill-opacity="0.6" stroke-opacity="0.6"/>
<circle cx="406.3" cy="292" r="4.1" fill="#4a63d3" fill-opacity="0.6" stroke-opacity="0.6"/>
<circle cx="380.5" cy="294.9" r="4.1" fill="#d9dce1" fill-opacity="0.6" stroke-opacity="0.6"/>
<circle cx="388" cy="296.6" r="4.1" fill="#d9dce1" fill-opacity="0.6" stroke-opacity="0.6"/>
<circle cx="441.3" cy="293.1" r="4.1" fill="#bcd2f7" fill-opacity="0.6" stroke-opacity="0.6"/>
<circle cx="353.5" cy="306.3" r="4.1" fill="#4a63d3" fill-opacity="0.6" stroke-opacity="0.6"/>
<circle cx="361.6" cy="309.2" r="4.1" fill="#d9dce1" fill-opacity="0.6" stroke-opacity="0.6"/>
<circle cx="353.5" cy="306.3" r="4.1" fill="#4a63d3" fill-opacity="0.6" stroke-opacity="0.6"/>
<circle cx="361.6" cy="311.1" r="4.1" fill="#d9dce1" fill-opacity="0.6" stroke-opacity="0.6"/>
<circle cx="331.7" cy="322" r="4.1" fill="#9dbdff" fill-opacity="0.6" stroke-opacity="0.6"/>
<circle cx="354.7" cy="331.6" r="4.1" fill="#edd1c2" fill-opacity="0.6" stroke-opacity="0.6"/>
<circle cx="365.8" cy="332.7" r="4.1" fill="#4a63d3" fill-opacity="0.6" stroke-opacity="0.6"/>
<circle cx="331.1" cy="345.3" r="4.1" fill="#bcd2f7" fill-opacity="0.6" stroke-opacity="0.6"/>
<circle cx="444.2" cy="340.5" r="4.1" fill="#edd1c2" fill-opacity="0.6" stroke-opacity="0.6"/>
<circle cx="420.9" cy="367.7" r="4.1" fill="#edd1c2" fill-opacity="0.6" stroke-opacity="0.6"/>
<circle cx="439.3" cy="392.7" r="4.1" fill="#edd1c2" fill-opacity="0.6" stroke-opacity="0.6"/>
<circle cx="481.6" cy="195.6" r="4.1" fill="#688aef" fill-opacity="0.6" stroke-opacity="0.6"/>
<circle cx="521" cy="208" r="4.1" fill="#9dbdff" fill-opacity="0.6" stroke-opacity="0.6"/>
<circle cx="575.6" cy="243.6" r="4.1" fill="#d9dce1" fill-opacity="0.6" stroke-opacity="0.6"/>
<circle cx="590.6" cy="235.6" r="4.1" fill="#688aef" fill-opacity="0.6" stroke-opacity="0.6"/>
<circle cx="609.6" cy="264.4" r="4.1" fill="#bcd2f7" fill-opacity="0.6" stroke-opacity="0.6"/>
<circle cx="628" cy="275.6" r="4.1" fill="#9dbdff" fill-opacity="0.6" stroke-opacity="0.6"/>
<circle cx="482.6" cy="180.4" r="4.1" fill="#9dbdff" fill-opacity="0.6" stroke-opacity="0.6"/>
<circle cx="506" cy="181" r="4.1" fill="#9dbdff" fill-opacity="0.6" stroke-opacity="0.6"/>
<circle cx="513" cy="175.6" r="4.1" fill="#9dbdff" fill-opacity="0.6" stroke-opacity="0.6"/>
<circle cx="784.4" cy="178.8" r="4.1" fill="#9dbdff" fill-opacity="0.6" stroke-opacity="0.6"/>
<circle cx="784.4" cy="182.1" r="4.1" fill="#9dbdff" fill-opacity="0.6" stroke-opacity="0.6"/>
<circle cx="784.4" cy="188.7" r="4.1" fill="#9dbdff" fill-opacity="0.6" stroke-opacity="0.6"/>
<circle cx="784.4" cy="197.8" r="4.1" fill="#9dbdff" fill-opacity="0.6" stroke-opacity="0.6"/>
<circle cx="784" cy="209" r="4.1" fill="#9dbdff" fill-opacity="0.6" stroke-opacity="0.6"/>
<circle cx="784" cy="223" r="4.1" fill="#9dbdff" fill-opacity="0.6" stroke-opacity="0.6"/>
<circle cx="784" cy="230" r="4.1" fill="#9dbdff" fill-opacity="0.6" stroke-opacity="0.6"/>
<circle cx="784" cy="264" r="4.1" fill="#bcd2f7" fill-opacity="0.6" stroke-opacity="0.6"/>
<circle cx="500" cy="344" r="4.1" fill="#edd1c2" fill-opacity="0.6" stroke-opacity="0.6"/>
<circle cx="500" cy="349.3" r="4.1" fill="#edd1c2" fill-opacity="0.6" stroke-opacity="0.6"/>
<circle cx="500" cy="374.4" r="4.1" fill="#edd1c2" fill-opacity="0.6" stroke-opacity="0.6"/>
<circle cx="587.7" cy="314.9" r="4.1" fill="#edd1c2" fill-opacity="0.6" stroke-opacity="0.6"/>
<circle cx="587.7" cy="335.2" r="4.1" fill="#edd1c2" fill-opacity="0.6" stroke-opacity="0.6"/>
<circle cx="587.7" cy="345.6" r="4.1" fill="#edd1c2" fill-opacity="0.6" stroke-opacity="0.6"/>
<circle cx="587.7" cy="350.4" r="4.1" fill="#edd1c2" fill-opacity="0.6" stroke-opacity="0.6"/>
<circle cx="587.7" cy="353.6" r="4.1" fill="#edd1c2" fill-opacity="0.6" stroke-opacity="0.6"/>
<circle cx="587.7" cy="362.4" r="4.1" fill="#edd1c2" fill-opacity="0.6" stroke-opacity="0.6"/>
<circle cx="587.7" cy="368" r="4.1" fill="#edd1c2" fill-opacity="0.6" stroke-opacity="0.6"/>
<circle cx="587.7" cy="380.8" r="4.1" fill="#edd1c2" fill-opacity="0.6" stroke-opacity="0.6"/>
<circle cx="407" cy="93.2" r="4.1" fill="#9dbdff" fill-opacity="0.6" stroke-opacity="0.6"/>
<circle cx="262.6" cy="145" r="4.1" fill="#9dbdff" fill-opacity="0.6" stroke-opacity="0.6"/>
<circle cx="379" cy="146.7" r="4.1" fill="#9dbdff" fill-opacity="0.6" stroke-opacity="0.6"/>
<circle cx="362" cy="155.2" r="4.1" fill="#9dbdff" fill-opacity="0.6" stroke-opacity="0.6"/>
<circle cx="421.5" cy="160.3" r="4.1" fill="#9dbdff" fill-opacity="0.6" stroke-opacity="0.6"/>
<circle cx="479.3" cy="145" r="4.1" fill="#9dbdff" fill-opacity="0.6" stroke-opacity="0.6"/>
<circle cx="351" cy="193.5" r="4.1" fill="#d9dce1" fill-opacity="0.6" stroke-opacity="0.6"/>
<circle cx="249.7" cy="276.7" r="4.1" fill="#9dbdff" fill-opacity="0.6" stroke-opacity="0.6"/>
<circle cx="253.9" cy="280.1" r="4.1" fill="#9dbdff" fill-opacity="0.6" stroke-opacity="0.6"/>
<circle cx="258.9" cy="280.9" r="4.1" fill="#688aef" fill-opacity="0.6" stroke-opacity="0.6"/>
<circle cx="265.7" cy="284.3" r="4.1" fill="#4a63d3" fill-opacity="0.6" stroke-opacity="0.6"/>
<circle cx="248" cy="285.1" r="4.1" fill="#688aef" fill-opacity="0.6" stroke-opacity="0.6"/>
<circle cx="253" cy="286.8" r="4.1" fill="#9dbdff" fill-opacity="0.6" stroke-opacity="0.6"/>
<circle cx="258.9" cy="290.2" r="4.1" fill="#e9785d" fill-opacity="0.6" stroke-opacity="0.6"/>
<circle cx="262.3" cy="292.7" r="4.1" fill="#d9dce1" fill-opacity="0.6" stroke-opacity="0.6"/>
<circle cx="249.7" cy="295.2" r="4.1" fill="#bcd2f7" fill-opacity="0.6" stroke-opacity="0.6"/>
<circle cx="253.9" cy="294.4" r="4.1" fill="#9dbdff" fill-opacity="0.6" stroke-opacity="0.6"/>
<circle cx="268.2" cy="295.6" r="4.1" fill="#9dbdff" fill-opacity="0.6" stroke-opacity="0.6"/>
<circle cx="272.4" cy="287.6" r="4.1" fill="#688aef" fill-opacity="0.6" stroke-opacity="0.6"/>
<circle cx="276.6" cy="284.3" r="4.1" fill="#688aef" fill-opacity="0.6" stroke-opacity="0.6"/>
<circle cx="279.1" cy="282.6" r="4.1" fill="#688aef" fill-opacity="0.6" stroke-opacity="0.6"/>
<circle cx="282.5" cy="287.6" r="4.1" fill="#9dbdff" fill-opacity="0.6" stroke-opacity="0.6"/>
<circle cx="284.2" cy="291.9" r="4.1" fill="#9dbdff" fill-opacity="0.6" stroke-opacity="0.6"/>
<circle cx="278.3" cy="291.9" r="4.1" fill="#edd1c2" fill-opacity="0.6" stroke-opacity="0.6"/>
<circle cx="248.8" cy="245.6" r="4.1" fill="#9dbdff" fill-opacity="0.6" stroke-opacity="0.6"/>
<circle cx="251.4" cy="248.1" r="4.1" fill="#9dbdff" fill-opacity="0.6" stroke-opacity="0.6"/>
<circle cx="256.4" cy="243.9" r="4.1" fill="#688aef" fill-opacity="0.6" stroke-opacity="0.6"/>
<circle cx="254.7" cy="250.6" r="4.1" fill="#9dbdff" fill-opacity="0.6" stroke-opacity="0.6"/>
<circle cx="252.2" cy="262.4" r="4.1" fill="#bcd2f7" fill-opacity="0.6" stroke-opacity="0.6"/>
<circle cx="261.5" cy="265.8" r="4.1" fill="#bcd2f7" fill-opacity="0.6" stroke-opacity="0.6"/>
<circle cx="256.4" cy="270" r="4.1" fill="#4a63d3" fill-opacity="0.6" stroke-opacity="0.6"/>
<circle cx="261.5" cy="271.2" r="4.1" fill="#9dbdff" fill-opacity="0.6" stroke-opacity="0.6"/>
</g>
<polyline points="232.9,607.8 234.9,595.9 237.9,592.9 241.9,559 245.9,509.3 246.9,469.5 247.9,429.7 248,399.4 248.4,374.2 248.8,348.9 250.1,340.5 253,338 254.7,337.1 255.1,323.7 256,306.8 257.3,303.5 258.9,302.6 261.5,297.6 264,306.8 267.4,314.4 269.9,325.4 272.4,335.5 274.1,325.4 275.8,327 276.6,332.9 279.1,332.9 282.5,342.2 284.2,344.7 286.7,333.8 290.1,321.1 292.3,339.1 295.4,345.3 298.5,342.2 301.5,345.3 303.8,340.7 305.3,326.9 307.6,314.7 309.9,305.5 313,297.8 315.3,287.1 319.9,281 321.4,271.8 322.9,262.6 325.2,256.5 329.1,255.7 332.1,251.9 337.5,244.3 341.3,243.5 349,242.7 351.2,238.9 353.5,225.9 355.8,222.8 361.2,218.3 364.3,212.1 369.6,209.1 376.5,206.8 381.8,203.7 393.3,201.4 408,199.6 420,197.4 452,197.4 466,198.4 480,199.6 484,201 508,201.4 516,202 560,202.4 620,203.6 700,204 784,204.6" fill="none" stroke="#0000ff" stroke-width="4.2" stroke-linejoin="round" stroke-linecap="round"/>
<polyline points="248.6,358 250.5,351 253,347 255,342 255.6,333" fill="none" stroke="#0000ff" stroke-width="5.5" stroke-linejoin="round" stroke-linecap="round"/>
<polyline points="248,399.4 248.4,374.2 248.8,348.9 250.1,340.5 253,338 254.7,337.1 255.1,323.7 256,306.8 257.3,303.5 258.9,302.6 261.5,297.6 264,306.8 267.4,314.4 269.9,325.4 272.4,335.5 274.1,325.4 275.8,327 276.6,332.9 279.1,332.9 282.5,342.2 284.2,344.7 286.7,333.8 290.1,321.1 292.3,339.1 295.4,345.3 298.5,342.2 301.5,345.3 303.8,340.7 305.3,326.9" fill="none" stroke="#0000ff" stroke-width="5.2" stroke-linejoin="round" stroke-linecap="round"/>
<polyline points="233.9,604.8 238.9,600.8 239.9,588.9 244.5,549.1 246.6,509.3 248.6,449.6 248.8,399.4 251.4,382.6 254.7,365.8 257.3,353.1 259.8,340.5 261,330.4 263.1,329.6 264.8,334.6 268.2,335.5 270.7,339.7 274.1,340.5 277.5,339.7 279.1,336.3 284.2,333.8 289.2,329.6 290.8,327.7 295.4,323.8 300.7,323.1 303.8,315.4 310.7,313.9 316.8,312.4 320.6,308.5 332.1,303.2 345.9,300.1 352.8,296.3 355.1,290.2 367.3,284.8 374.2,281.8 379.6,275.6 393.3,269.5 400,269 420,266 426,263 440,262 446,261 464,261.6 472,263.6 500,265.4 520,267.4 574,269.4 590,273 610,275.6 640,276 700,277.4 784,278.4" fill="none" stroke="#ff0000" stroke-width="4.2" stroke-linejoin="round" stroke-linecap="round"/>
<rect x="221.8" y="83.7" width="346.9" height="101.6" rx="7" ry="7" fill="#ffffff" fill-opacity="0.8" stroke="#d6d6d6" stroke-width="1.5"/>
<line x1="235.2" y1="108.6" x2="299.6" y2="108.6" stroke="#0000ff" stroke-width="3.6" stroke-linecap="round"/>
<line x1="235.2" y1="154.2" x2="299.6" y2="154.2" stroke="#ff0000" stroke-width="3.6" stroke-linecap="round"/>
<text x="326" y="120.3" font-family="'Liberation Sans', Arial, sans-serif" font-size="32.5" text-anchor="start" fill="#262626">AWI &lt; 650 USD</text>
<text x="326" y="165.9" font-family="'Liberation Sans', Arial, sans-serif" font-size="32.5" text-anchor="start" fill="#262626">AWI &gt; 650 USD</text>
<text x="229.2" y="690.3" font-family="'Liberation Sans', Arial, sans-serif" font-size="32.5" text-anchor="middle" fill="#262626">0</text>
<text x="409.7" y="690.3" font-family="'Liberation Sans', Arial, sans-serif" font-size="32.5" text-anchor="middle" fill="#262626">100</text>
<text x="590.2" y="690.3" font-family="'Liberation Sans', Arial, sans-serif" font-size="32.5" text-anchor="middle" fill="#262626">200</text>
<text x="770.7" y="690.3" font-family="'Liberation Sans', Arial, sans-serif" font-size="32.5" text-anchor="middle" fill="#262626">300</text>
<text x="196.2" y="664.9" font-family="'Liberation Sans', Arial, sans-serif" font-size="32.5" text-anchor="end" fill="#262626">−0.2</text>
<text x="196.2" y="577.1" font-family="'Liberation Sans', Arial, sans-serif" font-size="32.5" text-anchor="end" fill="#262626">0.0</text>
<text x="196.2" y="489.3" font-family="'Liberation Sans', Arial, sans-serif" font-size="32.5" text-anchor="end" fill="#262626">0.2</text>
<text x="196.2" y="401.5" font-family="'Liberation Sans', Arial, sans-serif" font-size="32.5" text-anchor="end" fill="#262626">0.4</text>
<text x="196.2" y="313.7" font-family="'Liberation Sans', Arial, sans-serif" font-size="32.5" text-anchor="end" fill="#262626">0.6</text>
<text x="196.2" y="225.9" font-family="'Liberation Sans', Arial, sans-serif" font-size="32.5" text-anchor="end" fill="#262626">0.8</text>
<text x="196.2" y="138.1" font-family="'Liberation Sans', Arial, sans-serif" font-size="32.5" text-anchor="end" fill="#262626">1.0</text>
<text x="508.9" y="725.8" font-family="'Liberation Sans', Arial, sans-serif" font-size="32.5" text-anchor="middle" fill="#262626">Precipitation [m]</text>
<text transform="translate(119.3,362.3) rotate(-90)" font-family="'Liberation Sans', Arial, sans-serif" font-size="32.5" text-anchor="middle" fill="#262626">Shapley values</text>
<defs><linearGradient id="cbA" x1="0" y1="1" x2="0" y2="0"><stop offset="0.0000" stop-color="#3b4cc0"/><stop offset="0.0312" stop-color="#445acc"/><stop offset="0.0625" stop-color="#4e68d8"/><stop offset="0.0938" stop-color="#5875e1"/><stop offset="0.1250" stop-color="#6282ea"/><stop offset="0.1562" stop-color="#6c8ff1"/><stop offset="0.1875" stop-color="#779af7"/><stop offset="0.2188" stop-color="#82a6fb"/><stop offset="0.2500" stop-color="#8db0fe"/><stop offset="0.2812" stop-color="#98b9ff"/><stop offset="0.3125" stop-color="#a3c2fe"/><stop offset="0.3438" stop-color="#aec9fc"/><stop offset="0.3750" stop-color="#b9d0f9"/><stop offset="0.4062" stop-color="#c3d5f4"/><stop offset="0.4375" stop-color="#ccd9ed"/><stop offset="0.4688" stop-color="#d5dbe5"/><stop offset="0.5000" stop-color="#dddcdc"/><stop offset="0.5312" stop-color="#e5d8d1"/><stop offset="0.5625" stop-color="#ecd3c5"/><stop offset="0.5938" stop-color="#f1ccb8"/><stop offset="0.6250" stop-color="#f5c4ac"/><stop offset="0.6562" stop-color="#f7ba9f"/><stop offset="0.6875" stop-color="#f7b093"/><stop offset="0.7188" stop-color="#f6a586"/><stop offset="0.7500" stop-color="#f4987a"/><stop offset="0.7812" stop-color="#f08b6e"/><stop offset="0.8125" stop-color="#eb7d62"/><stop offset="0.8438" stop-color="#e46e56"/><stop offset="0.8750" stop-color="#dd5f4b"/><stop offset="0.9062" stop-color="#d44e41"/><stop offset="0.9375" stop-color="#ca3b37"/><stop offset="0.9688" stop-color="#be242e"/><stop offset="1.0000" stop-color="#b40426"/></linearGradient></defs>
<rect x="819.6" y="67.5" width="46.8" height="589.5" fill="url(#cbA)" stroke="#d6d6d6" stroke-width="1.1"/>
<line x1="866.4" y1="591.5" x2="871.5" y2="591.5" stroke="#444" stroke-width="1.4"/>
<text x="875.6" y="603" font-family="'Liberation Sans', Arial, sans-serif" font-size="32.5" text-anchor="start" fill="#262626">200</text>
<line x1="866.4" y1="523.6" x2="871.5" y2="523.6" stroke="#444" stroke-width="1.4"/>
<text x="875.6" y="535.1" font-family="'Liberation Sans', Arial, sans-serif" font-size="32.5" text-anchor="start" fill="#262626">400</text>
<line x1="866.4" y1="455.7" x2="871.5" y2="455.7" stroke="#444" stroke-width="1.4"/>
<text x="875.6" y="467.2" font-family="'Liberation Sans', Arial, sans-serif" font-size="32.5" text-anchor="start" fill="#262626">600</text>
<line x1="866.4" y1="387.7" x2="871.5" y2="387.7" stroke="#444" stroke-width="1.4"/>
<text x="875.6" y="399.2" font-family="'Liberation Sans', Arial, sans-serif" font-size="32.5" text-anchor="start" fill="#262626">800</text>
<line x1="866.4" y1="319.8" x2="871.5" y2="319.8" stroke="#444" stroke-width="1.4"/>
<text x="875.6" y="331.3" font-family="'Liberation Sans', Arial, sans-serif" font-size="32.5" text-anchor="start" fill="#262626">1000</text>
<line x1="866.4" y1="251.9" x2="871.5" y2="251.9" stroke="#444" stroke-width="1.4"/>
<text x="875.6" y="263.4" font-family="'Liberation Sans', Arial, sans-serif" font-size="32.5" text-anchor="start" fill="#262626">1200</text>
<line x1="866.4" y1="184" x2="871.5" y2="184" stroke="#444" stroke-width="1.4"/>
<text x="875.6" y="195.5" font-family="'Liberation Sans', Arial, sans-serif" font-size="32.5" text-anchor="start" fill="#262626">1400</text>
<line x1="866.4" y1="116.1" x2="871.5" y2="116.1" stroke="#444" stroke-width="1.4"/>
<text x="875.6" y="127.6" font-family="'Liberation Sans', Arial, sans-serif" font-size="32.5" text-anchor="start" fill="#262626">1600</text>
<text transform="translate(966.3,362) rotate(90)" font-family="'Liberation Sans', Arial, sans-serif" font-size="32.5" text-anchor="middle" fill="#262626">AWI</text>
<defs><clipPath id="clipB"><rect x="1220.8" y="67.0" width="595.5" height="580.2"/></clipPath></defs>
<line x1="1248.5" y1="67" x2="1248.5" y2="647.2" stroke="#d7d7d7" stroke-width="1.8"/>
<line x1="1407" y1="67" x2="1407" y2="647.2" stroke="#d7d7d7" stroke-width="1.8"/>
<line x1="1565.4" y1="67" x2="1565.4" y2="647.2" stroke="#d7d7d7" stroke-width="1.8"/>
<line x1="1723.8" y1="67" x2="1723.8" y2="647.2" stroke="#d7d7d7" stroke-width="1.8"/>
<line x1="1220.8" y1="555.9" x2="1816.3" y2="555.9" stroke="#d7d7d7" stroke-width="1.8"/>
<line x1="1220.8" y1="427.1" x2="1816.3" y2="427.1" stroke="#d7d7d7" stroke-width="1.8"/>
<line x1="1220.8" y1="298.3" x2="1816.3" y2="298.3" stroke="#d7d7d7" stroke-width="1.8"/>
<line x1="1220.8" y1="169.5" x2="1816.3" y2="169.5" stroke="#d7d7d7" stroke-width="1.8"/>
<rect x="1220.8" y="67" width="595.5" height="580.2" fill="none" stroke="#d2d2d2" stroke-width="1.8"/>
<g clip-path="url(#clipB)" stroke="#fff" stroke-width="0.8">
<circle cx="1320.8" cy="203.8" r="4.1" fill="#9dbdff" fill-opacity="0.6" stroke-opacity="0.6"/>
<circle cx="1343.3" cy="202.9" r="4.1" fill="#9dbdff" fill-opacity="0.6" stroke-opacity="0.6"/>
<circle cx="1337.3" cy="209.7" r="4.1" fill="#bcd2f7" fill-opacity="0.6" stroke-opacity="0.6"/>
<circle cx="1342.4" cy="208.4" r="4.1" fill="#9dbdff" fill-opacity="0.6" stroke-opacity="0.6"/>
<circle cx="1325.9" cy="228.6" r="4.1" fill="#9dbdff" fill-opacity="0.6" stroke-opacity="0.6"/>
<circle cx="1330" cy="226.3" r="4.1" fill="#9dbdff" fill-opacity="0.6" stroke-opacity="0.6"/>
<circle cx="1347" cy="234.1" r="4.1" fill="#9dbdff" fill-opacity="0.6" stroke-opacity="0.6"/>
<circle cx="1319.9" cy="250.1" r="4.1" fill="#9dbdff" fill-opacity="0.6" stroke-opacity="0.6"/>
<circle cx="1320.8" cy="256.6" r="4.1" fill="#9dbdff" fill-opacity="0.6" stroke-opacity="0.6"/>
<circle cx="1333.7" cy="252.4" r="4.1" fill="#bcd2f7" fill-opacity="0.6" stroke-opacity="0.6"/>
<circle cx="1341.5" cy="248.8" r="4.1" fill="#bcd2f7" fill-opacity="0.6" stroke-opacity="0.6"/>
<circle cx="1345.1" cy="248.3" r="4.1" fill="#9dbdff" fill-opacity="0.6" stroke-opacity="0.6"/>
<circle cx="1349.7" cy="246.9" r="4.1" fill="#9dbdff" fill-opacity="0.6" stroke-opacity="0.6"/>
<circle cx="1346.1" cy="254.3" r="4.1" fill="#bcd2f7" fill-opacity="0.6" stroke-opacity="0.6"/>
<circle cx="1345.1" cy="261.6" r="4.1" fill="#bcd2f7" fill-opacity="0.6" stroke-opacity="0.6"/>
<circle cx="1337.3" cy="263.5" r="4.1" fill="#9dbdff" fill-opacity="0.6" stroke-opacity="0.6"/>
<circle cx="1337.8" cy="266.7" r="4.1" fill="#9dbdff" fill-opacity="0.6" stroke-opacity="0.6"/>
<circle cx="1345.1" cy="265.3" r="4.1" fill="#bcd2f7" fill-opacity="0.6" stroke-opacity="0.6"/>
<circle cx="1345.6" cy="269.9" r="4.1" fill="#bcd2f7" fill-opacity="0.6" stroke-opacity="0.6"/>
<circle cx="1346.1" cy="273.6" r="4.1" fill="#bcd2f7" fill-opacity="0.6" stroke-opacity="0.6"/>
<circle cx="1318.1" cy="268.5" r="4.1" fill="#9dbdff" fill-opacity="0.6" stroke-opacity="0.6"/>
<circle cx="1319.4" cy="271.7" r="4.1" fill="#9dbdff" fill-opacity="0.6" stroke-opacity="0.6"/>
<circle cx="1338.3" cy="276.3" r="4.1" fill="#bcd2f7" fill-opacity="0.6" stroke-opacity="0.6"/>
<circle cx="1345.6" cy="276.3" r="4.1" fill="#bcd2f7" fill-opacity="0.6" stroke-opacity="0.6"/>
<circle cx="1342.8" cy="282.7" r="4.1" fill="#d55042" fill-opacity="0.6" stroke-opacity="0.6"/>
<circle cx="1338.7" cy="287.8" r="4.1" fill="#d55042" fill-opacity="0.6" stroke-opacity="0.6"/>
<circle cx="1336.4" cy="284.6" r="4.1" fill="#9dbdff" fill-opacity="0.6" stroke-opacity="0.6"/>
<circle cx="1345.6" cy="291.9" r="4.1" fill="#688aef" fill-opacity="0.6" stroke-opacity="0.6"/>
<circle cx="1352.5" cy="290.1" r="4.1" fill="#9dbdff" fill-opacity="0.6" stroke-opacity="0.6"/>
<circle cx="1313" cy="284.6" r="4.1" fill="#9dbdff" fill-opacity="0.6" stroke-opacity="0.6"/>
<circle cx="1306.6" cy="292.4" r="4.1" fill="#9dbdff" fill-opacity="0.6" stroke-opacity="0.6"/>
<circle cx="1327.2" cy="298.8" r="4.1" fill="#bd1f2d" fill-opacity="0.6" stroke-opacity="0.6"/>
<circle cx="1338.3" cy="296.5" r="4.1" fill="#9dbdff" fill-opacity="0.6" stroke-opacity="0.6"/>
<circle cx="1348.4" cy="302" r="4.1" fill="#e9785d" fill-opacity="0.6" stroke-opacity="0.6"/>
<circle cx="1349.7" cy="295.6" r="4.1" fill="#bcd2f7" fill-opacity="0.6" stroke-opacity="0.6"/>
<circle cx="1281.8" cy="297.9" r="4.1" fill="#9dbdff" fill-opacity="0.6" stroke-opacity="0.6"/>
<circle cx="1287.3" cy="304.8" r="4.1" fill="#9dbdff" fill-opacity="0.6" stroke-opacity="0.6"/>
<circle cx="1300.6" cy="301.6" r="4.1" fill="#9dbdff" fill-opacity="0.6" stroke-opacity="0.6"/>
<circle cx="1307" cy="303.4" r="4.1" fill="#9dbdff" fill-opacity="0.6" stroke-opacity="0.6"/>
<circle cx="1310.7" cy="304.8" r="4.1" fill="#9dbdff" fill-opacity="0.6" stroke-opacity="0.6"/>
<circle cx="1314.4" cy="304.8" r="4.1" fill="#9dbdff" fill-opacity="0.6" stroke-opacity="0.6"/>
<circle cx="1317.1" cy="298.4" r="4.1" fill="#bcd2f7" fill-opacity="0.6" stroke-opacity="0.6"/>
<circle cx="1320.8" cy="302" r="4.1" fill="#688aef" fill-opacity="0.6" stroke-opacity="0.6"/>
<circle cx="1277.2" cy="308.9" r="4.1" fill="#9dbdff" fill-opacity="0.6" stroke-opacity="0.6"/>
<circle cx="1287.3" cy="304.6" r="4.1" fill="#9dbdff" fill-opacity="0.6" stroke-opacity="0.6"/>
<circle cx="1277.2" cy="310.1" r="4.1" fill="#9dbdff" fill-opacity="0.6" stroke-opacity="0.6"/>
<circle cx="1299.7" cy="301.8" r="4.1" fill="#9dbdff" fill-opacity="0.6" stroke-opacity="0.6"/>
<circle cx="1306.1" cy="303.7" r="4.1" fill="#9dbdff" fill-opacity="0.6" stroke-opacity="0.6"/>
<circle cx="1311.6" cy="304.6" r="4.1" fill="#9dbdff" fill-opacity="0.6" stroke-opacity="0.6"/>
<circle cx="1315.3" cy="304.6" r="4.1" fill="#9dbdff" fill-opacity="0.6" stroke-opacity="0.6"/>
<circle cx="1319.9" cy="309.2" r="4.1" fill="#9dbdff" fill-opacity="0.6" stroke-opacity="0.6"/>
<circle cx="1348.4" cy="302.3" r="4.1" fill="#edd1c2" fill-opacity="0.6" stroke-opacity="0.6"/>
<circle cx="1328.2" cy="311" r="4.1" fill="#d9dce1" fill-opacity="0.6" stroke-opacity="0.6"/>
<circle cx="1342.8" cy="311" r="4.1" fill="#bcd2f7" fill-opacity="0.6" stroke-opacity="0.6"/>
<circle cx="1345.6" cy="311.9" r="4.1" fill="#bcd2f7" fill-opacity="0.6" stroke-opacity="0.6"/>
<circle cx="1285.9" cy="315.2" r="4.1" fill="#9dbdff" fill-opacity="0.6" stroke-opacity="0.6"/>
<circle cx="1292.3" cy="314.7" r="4.1" fill="#9dbdff" fill-opacity="0.6" stroke-opacity="0.6"/>
<circle cx="1299.7" cy="313.8" r="4.1" fill="#9dbdff" fill-opacity="0.6" stroke-opacity="0.6"/>
<circle cx="1313.5" cy="314.7" r="4.1" fill="#9dbdff" fill-opacity="0.6" stroke-opacity="0.6"/>
<circle cx="1275.8" cy="320.7" r="4.1" fill="#bcd2f7" fill-opacity="0.6" stroke-opacity="0.6"/>
<circle cx="1285.9" cy="322.5" r="4.1" fill="#9dbdff" fill-opacity="0.6" stroke-opacity="0.6"/>
<circle cx="1290" cy="324.3" r="4.1" fill="#9dbdff" fill-opacity="0.6" stroke-opacity="0.6"/>
<circle cx="1303.4" cy="322.5" r="4.1" fill="#9dbdff" fill-opacity="0.6" stroke-opacity="0.6"/>
<circle cx="1313" cy="320.2" r="4.1" fill="#9dbdff" fill-opacity="0.6" stroke-opacity="0.6"/>
<circle cx="1327.2" cy="323.4" r="4.1" fill="#688aef" fill-opacity="0.6" stroke-opacity="0.6"/>
<circle cx="1336.4" cy="316.5" r="4.1" fill="#688aef" fill-opacity="0.6" stroke-opacity="0.6"/>
<circle cx="1340.1" cy="322" r="4.1" fill="#688aef" fill-opacity="0.6" stroke-opacity="0.6"/>
<circle cx="1295.6" cy="327.5" r="4.1" fill="#d9dce1" fill-opacity="0.6" stroke-opacity="0.6"/>
<circle cx="1277.6" cy="329.4" r="4.1" fill="#9dbdff" fill-opacity="0.6" stroke-opacity="0.6"/>
<circle cx="1278.6" cy="333.1" r="4.1" fill="#9dbdff" fill-opacity="0.6" stroke-opacity="0.6"/>
<circle cx="1285.9" cy="330.3" r="4.1" fill="#9dbdff" fill-opacity="0.6" stroke-opacity="0.6"/>
<circle cx="1289.6" cy="331.2" r="4.1" fill="#9dbdff" fill-opacity="0.6" stroke-opacity="0.6"/>
<circle cx="1313.5" cy="330.3" r="4.1" fill="#9dbdff" fill-opacity="0.6" stroke-opacity="0.6"/>
<circle cx="1319.9" cy="327.5" r="4.1" fill="#9dbdff" fill-opacity="0.6" stroke-opacity="0.6"/>
<circle cx="1341" cy="332.1" r="4.1" fill="#e9785d" fill-opacity="0.6" stroke-opacity="0.6"/>
<circle cx="1264.8" cy="334.9" r="4.1" fill="#9dbdff" fill-opacity="0.6" stroke-opacity="0.6"/>
<circle cx="1268.5" cy="339" r="4.1" fill="#9dbdff" fill-opacity="0.6" stroke-opacity="0.6"/>
<circle cx="1285" cy="337.6" r="4.1" fill="#9dbdff" fill-opacity="0.6" stroke-opacity="0.6"/>
<circle cx="1293.3" cy="336.7" r="4.1" fill="#9dbdff" fill-opacity="0.6" stroke-opacity="0.6"/>
<circle cx="1295.1" cy="337.6" r="4.1" fill="#bcd2f7" fill-opacity="0.6" stroke-opacity="0.6"/>
<circle cx="1314.4" cy="339.5" r="4.1" fill="#9dbdff" fill-opacity="0.6" stroke-opacity="0.6"/>
<circle cx="1315.3" cy="343.2" r="4.1" fill="#e9785d" fill-opacity="0.6" stroke-opacity="0.6"/>
<circle cx="1325.9" cy="338.1" r="4.1" fill="#688aef" fill-opacity="0.6" stroke-opacity="0.6"/>
<circle cx="1263.9" cy="345" r="4.1" fill="#9dbdff" fill-opacity="0.6" stroke-opacity="0.6"/>
<circle cx="1267.5" cy="345.9" r="4.1" fill="#9dbdff" fill-opacity="0.6" stroke-opacity="0.6"/>
<circle cx="1273.1" cy="347.8" r="4.1" fill="#bcd2f7" fill-opacity="0.6" stroke-opacity="0.6"/>
<circle cx="1278.6" cy="347.8" r="4.1" fill="#d9dce1" fill-opacity="0.6" stroke-opacity="0.6"/>
<circle cx="1282.2" cy="344.1" r="4.1" fill="#9dbdff" fill-opacity="0.6" stroke-opacity="0.6"/>
<circle cx="1290.5" cy="345" r="4.1" fill="#9dbdff" fill-opacity="0.6" stroke-opacity="0.6"/>
<circle cx="1298.8" cy="346.4" r="4.1" fill="#bcd2f7" fill-opacity="0.6" stroke-opacity="0.6"/>
<circle cx="1330.9" cy="350.5" r="4.1" fill="#e9785d" fill-opacity="0.6" stroke-opacity="0.6"/>
<circle cx="1329.1" cy="353.3" r="4.1" fill="#688aef" fill-opacity="0.6" stroke-opacity="0.6"/>
<circle cx="1265.7" cy="350.5" r="4.1" fill="#9dbdff" fill-opacity="0.6" stroke-opacity="0.6"/>
<circle cx="1285" cy="351.4" r="4.1" fill="#bcd2f7" fill-opacity="0.6" stroke-opacity="0.6"/>
<circle cx="1293.3" cy="355.1" r="4.1" fill="#9dbdff" fill-opacity="0.6" stroke-opacity="0.6"/>
<circle cx="1298.8" cy="353.3" r="4.1" fill="#d9dce1" fill-opacity="0.6" stroke-opacity="0.6"/>
<circle cx="1304.3" cy="353.3" r="4.1" fill="#edd1c2" fill-opacity="0.6" stroke-opacity="0.6"/>
<circle cx="1343.8" cy="353.3" r="4.1" fill="#edd1c2" fill-opacity="0.6" stroke-opacity="0.6"/>
<circle cx="1355.7" cy="354.2" r="4.1" fill="#edd1c2" fill-opacity="0.6" stroke-opacity="0.6"/>
<circle cx="1263.9" cy="356.5" r="4.1" fill="#9dbdff" fill-opacity="0.6" stroke-opacity="0.6"/>
<circle cx="1270.3" cy="356" r="4.1" fill="#9dbdff" fill-opacity="0.6" stroke-opacity="0.6"/>
<circle cx="1273.1" cy="359.7" r="4.1" fill="#9dbdff" fill-opacity="0.6" stroke-opacity="0.6"/>
<circle cx="1277.6" cy="360.6" r="4.1" fill="#9dbdff" fill-opacity="0.6" stroke-opacity="0.6"/>
<circle cx="1281.3" cy="361.5" r="4.1" fill="#d55042" fill-opacity="0.6" stroke-opacity="0.6"/>
<circle cx="1286.8" cy="359.7" r="4.1" fill="#9dbdff" fill-opacity="0.6" stroke-opacity="0.6"/>
<circle cx="1298.8" cy="360.6" r="4.1" fill="#bcd2f7" fill-opacity="0.6" stroke-opacity="0.6"/>
<circle cx="1306.1" cy="363.4" r="4.1" fill="#d9dce1" fill-opacity="0.6" stroke-opacity="0.6"/>
<circle cx="1327.2" cy="359.7" r="4.1" fill="#9dbdff" fill-opacity="0.6" stroke-opacity="0.6"/>
<circle cx="1348.4" cy="359.7" r="4.1" fill="#edd1c2" fill-opacity="0.6" stroke-opacity="0.6"/>
<circle cx="1355.7" cy="363.4" r="4.1" fill="#688aef" fill-opacity="0.6" stroke-opacity="0.6"/>
<circle cx="1358.5" cy="367" r="4.1" fill="#688aef" fill-opacity="0.6" stroke-opacity="0.6"/>
<circle cx="1267.5" cy="368" r="4.1" fill="#9dbdff" fill-opacity="0.6" stroke-opacity="0.6"/>
<circle cx="1271.2" cy="368.9" r="4.1" fill="#9dbdff" fill-opacity="0.6" stroke-opacity="0.6"/>
<circle cx="1279.5" cy="368" r="4.1" fill="#e9785d" fill-opacity="0.6" stroke-opacity="0.6"/>
<circle cx="1284.1" cy="369.8" r="4.1" fill="#688aef" fill-opacity="0.6" stroke-opacity="0.6"/>
<circle cx="1287.8" cy="372.5" r="4.1" fill="#d9dce1" fill-opacity="0.6" stroke-opacity="0.6"/>
<circle cx="1302.4" cy="368" r="4.1" fill="#688aef" fill-opacity="0.6" stroke-opacity="0.6"/>
<circle cx="1304.3" cy="372.5" r="4.1" fill="#e9785d" fill-opacity="0.6" stroke-opacity="0.6"/>
<circle cx="1318.1" cy="368.9" r="4.1" fill="#d9dce1" fill-opacity="0.6" stroke-opacity="0.6"/>
<circle cx="1340.1" cy="369.8" r="4.1" fill="#edd1c2" fill-opacity="0.6" stroke-opacity="0.6"/>
<circle cx="1343.8" cy="370.7" r="4.1" fill="#edd1c2" fill-opacity="0.6" stroke-opacity="0.6"/>
<circle cx="1327.2" cy="371.6" r="4.1" fill="#688aef" fill-opacity="0.6" stroke-opacity="0.6"/>
<circle cx="1264.8" cy="379.9" r="4.1" fill="#9dbdff" fill-opacity="0.6" stroke-opacity="0.6"/>
<circle cx="1270.3" cy="378.1" r="4.1" fill="#9dbdff" fill-opacity="0.6" stroke-opacity="0.6"/>
<circle cx="1276.7" cy="377.1" r="4.1" fill="#9dbdff" fill-opacity="0.6" stroke-opacity="0.6"/>
<circle cx="1283.2" cy="375.3" r="4.1" fill="#9dbdff" fill-opacity="0.6" stroke-opacity="0.6"/>
<circle cx="1284.1" cy="379.9" r="4.1" fill="#688aef" fill-opacity="0.6" stroke-opacity="0.6"/>
<circle cx="1290.5" cy="379" r="4.1" fill="#9dbdff" fill-opacity="0.6" stroke-opacity="0.6"/>
<circle cx="1297.9" cy="379.9" r="4.1" fill="#9dbdff" fill-opacity="0.6" stroke-opacity="0.6"/>
<circle cx="1327.2" cy="379" r="4.1" fill="#9dbdff" fill-opacity="0.6" stroke-opacity="0.6"/>
<circle cx="1335.5" cy="375.3" r="4.1" fill="#688aef" fill-opacity="0.6" stroke-opacity="0.6"/>
<circle cx="1340.1" cy="378.1" r="4.1" fill="#e9785d" fill-opacity="0.6" stroke-opacity="0.6"/>
<circle cx="1356.6" cy="377.1" r="4.1" fill="#688aef" fill-opacity="0.6" stroke-opacity="0.6"/>
<circle cx="1264.8" cy="386.3" r="4.1" fill="#e9785d" fill-opacity="0.6" stroke-opacity="0.6"/>
<circle cx="1274.9" cy="387.2" r="4.1" fill="#9dbdff" fill-opacity="0.6" stroke-opacity="0.6"/>
<circle cx="1280.4" cy="386.3" r="4.1" fill="#e9785d" fill-opacity="0.6" stroke-opacity="0.6"/>
<circle cx="1263" cy="390.9" r="4.1" fill="#9dbdff" fill-opacity="0.6" stroke-opacity="0.6"/>
<circle cx="1266.6" cy="395.5" r="4.1" fill="#9dbdff" fill-opacity="0.6" stroke-opacity="0.6"/>
<circle cx="1272.1" cy="398.3" r="4.1" fill="#d55042" fill-opacity="0.6" stroke-opacity="0.6"/>
<circle cx="1280.4" cy="392.7" r="4.1" fill="#e9785d" fill-opacity="0.6" stroke-opacity="0.6"/>
<circle cx="1287.8" cy="390" r="4.1" fill="#9dbdff" fill-opacity="0.6" stroke-opacity="0.6"/>
<circle cx="1318.1" cy="388.2" r="4.1" fill="#edd1c2" fill-opacity="0.6" stroke-opacity="0.6"/>
<circle cx="1320.8" cy="393.7" r="4.1" fill="#688aef" fill-opacity="0.6" stroke-opacity="0.6"/>
<circle cx="1336.4" cy="386.3" r="4.1" fill="#688aef" fill-opacity="0.6" stroke-opacity="0.6"/>
<circle cx="1348.4" cy="385.4" r="4.1" fill="#e9785d" fill-opacity="0.6" stroke-opacity="0.6"/>
<circle cx="1347.4" cy="388.2" r="4.1" fill="#e9785d" fill-opacity="0.6" stroke-opacity="0.6"/>
<circle cx="1352" cy="391.8" r="4.1" fill="#688aef" fill-opacity="0.6" stroke-opacity="0.6"/>
<circle cx="1337.3" cy="391.8" r="4.1" fill="#688aef" fill-opacity="0.6" stroke-opacity="0.6"/>
<circle cx="1331.8" cy="395.5" r="4.1" fill="#688aef" fill-opacity="0.6" stroke-opacity="0.6"/>
<circle cx="1342.8" cy="394.6" r="4.1" fill="#edd1c2" fill-opacity="0.6" stroke-opacity="0.6"/>
<circle cx="1332.7" cy="401" r="4.1" fill="#688aef" fill-opacity="0.6" stroke-opacity="0.6"/>
<circle cx="1341" cy="401" r="4.1" fill="#688aef" fill-opacity="0.6" stroke-opacity="0.6"/>
<circle cx="1345.6" cy="405.6" r="4.1" fill="#688aef" fill-opacity="0.6" stroke-opacity="0.6"/>
<circle cx="1352" cy="404.7" r="4.1" fill="#688aef" fill-opacity="0.6" stroke-opacity="0.6"/>
<circle cx="1358.5" cy="406.5" r="4.1" fill="#688aef" fill-opacity="0.6" stroke-opacity="0.6"/>
<circle cx="1309.8" cy="396.4" r="4.1" fill="#9dbdff" fill-opacity="0.6" stroke-opacity="0.6"/>
<circle cx="1316.2" cy="401.9" r="4.1" fill="#688aef" fill-opacity="0.6" stroke-opacity="0.6"/>
<circle cx="1317.1" cy="406.5" r="4.1" fill="#688aef" fill-opacity="0.6" stroke-opacity="0.6"/>
<circle cx="1267.5" cy="406.5" r="4.1" fill="#e9785d" fill-opacity="0.6" stroke-opacity="0.6"/>
<circle cx="1271.2" cy="408.4" r="4.1" fill="#e9785d" fill-opacity="0.6" stroke-opacity="0.6"/>
<circle cx="1262" cy="410.2" r="4.1" fill="#9dbdff" fill-opacity="0.6" stroke-opacity="0.6"/>
<circle cx="1265.7" cy="413.9" r="4.1" fill="#e9785d" fill-opacity="0.6" stroke-opacity="0.6"/>
<circle cx="1267.5" cy="416.6" r="4.1" fill="#e9785d" fill-opacity="0.6" stroke-opacity="0.6"/>
<circle cx="1296.9" cy="408.4" r="4.1" fill="#e9785d" fill-opacity="0.6" stroke-opacity="0.6"/>
<circle cx="1295.1" cy="412.9" r="4.1" fill="#4a63d3" fill-opacity="0.6" stroke-opacity="0.6"/>
<circle cx="1298.8" cy="412" r="4.1" fill="#688aef" fill-opacity="0.6" stroke-opacity="0.6"/>
<circle cx="1304.3" cy="410.2" r="4.1" fill="#688aef" fill-opacity="0.6" stroke-opacity="0.6"/>
<circle cx="1309.8" cy="409.3" r="4.1" fill="#9dbdff" fill-opacity="0.6" stroke-opacity="0.6"/>
<circle cx="1306.1" cy="415.7" r="4.1" fill="#e9785d" fill-opacity="0.6" stroke-opacity="0.6"/>
<circle cx="1321.7" cy="412" r="4.1" fill="#688aef" fill-opacity="0.6" stroke-opacity="0.6"/>
<circle cx="1331.8" cy="409.3" r="4.1" fill="#688aef" fill-opacity="0.6" stroke-opacity="0.6"/>
<circle cx="1336.4" cy="412" r="4.1" fill="#688aef" fill-opacity="0.6" stroke-opacity="0.6"/>
<circle cx="1340.1" cy="416.6" r="4.1" fill="#688aef" fill-opacity="0.6" stroke-opacity="0.6"/>
<circle cx="1313.5" cy="417.5" r="4.1" fill="#688aef" fill-opacity="0.6" stroke-opacity="0.6"/>
<circle cx="1358.5" cy="413.9" r="4.1" fill="#688aef" fill-opacity="0.6" stroke-opacity="0.6"/>
<circle cx="1330" cy="418.5" r="4.1" fill="#688aef" fill-opacity="0.6" stroke-opacity="0.6"/>
<circle cx="1262" cy="412.8" r="4.1" fill="#9dbdff" fill-opacity="0.6" stroke-opacity="0.6"/>
<circle cx="1267.5" cy="412.8" r="4.1" fill="#e9785d" fill-opacity="0.6" stroke-opacity="0.6"/>
<circle cx="1270.3" cy="415.5" r="4.1" fill="#d55042" fill-opacity="0.6" stroke-opacity="0.6"/>
<circle cx="1264.8" cy="418.3" r="4.1" fill="#e9785d" fill-opacity="0.6" stroke-opacity="0.6"/>
<circle cx="1295.1" cy="413.7" r="4.1" fill="#688aef" fill-opacity="0.6" stroke-opacity="0.6"/>
<circle cx="1299.7" cy="413.7" r="4.1" fill="#688aef" fill-opacity="0.6" stroke-opacity="0.6"/>
<circle cx="1304.3" cy="412.8" r="4.1" fill="#9dbdff" fill-opacity="0.6" stroke-opacity="0.6"/>
<circle cx="1306.1" cy="418.3" r="4.1" fill="#e9785d" fill-opacity="0.6" stroke-opacity="0.6"/>
<circle cx="1296.9" cy="417.3" r="4.1" fill="#688aef" fill-opacity="0.6" stroke-opacity="0.6"/>
<circle cx="1303.4" cy="419.2" r="4.1" fill="#edd1c2" fill-opacity="0.6" stroke-opacity="0.6"/>
<circle cx="1308.9" cy="411.8" r="4.1" fill="#9dbdff" fill-opacity="0.6" stroke-opacity="0.6"/>
<circle cx="1320.8" cy="412.8" r="4.1" fill="#688aef" fill-opacity="0.6" stroke-opacity="0.6"/>
<circle cx="1330.9" cy="411.8" r="4.1" fill="#688aef" fill-opacity="0.6" stroke-opacity="0.6"/>
<circle cx="1336.4" cy="413.7" r="4.1" fill="#688aef" fill-opacity="0.6" stroke-opacity="0.6"/>
<circle cx="1340.1" cy="417.3" r="4.1" fill="#688aef" fill-opacity="0.6" stroke-opacity="0.6"/>
<circle cx="1358.5" cy="413.7" r="4.1" fill="#688aef" fill-opacity="0.6" stroke-opacity="0.6"/>
<circle cx="1343.8" cy="410.9" r="4.1" fill="#edd1c2" fill-opacity="0.6" stroke-opacity="0.6"/>
<circle cx="1313.5" cy="419.2" r="4.1" fill="#9dbdff" fill-opacity="0.6" stroke-opacity="0.6"/>
<circle cx="1315.3" cy="421.9" r="4.1" fill="#9dbdff" fill-opacity="0.6" stroke-opacity="0.6"/>
<circle cx="1319" cy="421" r="4.1" fill="#688aef" fill-opacity="0.6" stroke-opacity="0.6"/>
<circle cx="1327.2" cy="421" r="4.1" fill="#688aef" fill-opacity="0.6" stroke-opacity="0.6"/>
<circle cx="1332.7" cy="421.9" r="4.1" fill="#688aef" fill-opacity="0.6" stroke-opacity="0.6"/>
<circle cx="1335.5" cy="424.7" r="4.1" fill="#688aef" fill-opacity="0.6" stroke-opacity="0.6"/>
<circle cx="1309.8" cy="426.5" r="4.1" fill="#9dbdff" fill-opacity="0.6" stroke-opacity="0.6"/>
<circle cx="1314.4" cy="428.4" r="4.1" fill="#9dbdff" fill-opacity="0.6" stroke-opacity="0.6"/>
<circle cx="1315.3" cy="432" r="4.1" fill="#688aef" fill-opacity="0.6" stroke-opacity="0.6"/>
<circle cx="1326.3" cy="429.3" r="4.1" fill="#688aef" fill-opacity="0.6" stroke-opacity="0.6"/>
<circle cx="1332.7" cy="426.5" r="4.1" fill="#688aef" fill-opacity="0.6" stroke-opacity="0.6"/>
<circle cx="1338.3" cy="432" r="4.1" fill="#688aef" fill-opacity="0.6" stroke-opacity="0.6"/>
<circle cx="1331.8" cy="436.6" r="4.1" fill="#688aef" fill-opacity="0.6" stroke-opacity="0.6"/>
<circle cx="1321.7" cy="436.6" r="4.1" fill="#688aef" fill-opacity="0.6" stroke-opacity="0.6"/>
<circle cx="1280.4" cy="426.5" r="4.1" fill="#688aef" fill-opacity="0.6" stroke-opacity="0.6"/>
<circle cx="1285.9" cy="425.6" r="4.1" fill="#688aef" fill-opacity="0.6" stroke-opacity="0.6"/>
<circle cx="1287.8" cy="431.1" r="4.1" fill="#edd1c2" fill-opacity="0.6" stroke-opacity="0.6"/>
<circle cx="1295.1" cy="423.8" r="4.1" fill="#e9785d" fill-opacity="0.6" stroke-opacity="0.6"/>
<circle cx="1298.8" cy="424.7" r="4.1" fill="#edd1c2" fill-opacity="0.6" stroke-opacity="0.6"/>
<circle cx="1296.9" cy="431.1" r="4.1" fill="#688aef" fill-opacity="0.6" stroke-opacity="0.6"/>
<circle cx="1300.6" cy="432" r="4.1" fill="#688aef" fill-opacity="0.6" stroke-opacity="0.6"/>
<circle cx="1281.3" cy="436.6" r="4.1" fill="#688aef" fill-opacity="0.6" stroke-opacity="0.6"/>
<circle cx="1274.9" cy="433.9" r="4.1" fill="#bcd2f7" fill-opacity="0.6" stroke-opacity="0.6"/>
<circle cx="1307" cy="434.8" r="4.1" fill="#edd1c2" fill-opacity="0.6" stroke-opacity="0.6"/>
<circle cx="1307" cy="440.3" r="4.1" fill="#edd1c2" fill-opacity="0.6" stroke-opacity="0.6"/>
<circle cx="1298.8" cy="441.2" r="4.1" fill="#edd1c2" fill-opacity="0.6" stroke-opacity="0.6"/>
<circle cx="1293.3" cy="438.5" r="4.1" fill="#688aef" fill-opacity="0.6" stroke-opacity="0.6"/>
<circle cx="1285.9" cy="440.3" r="4.1" fill="#d9dce1" fill-opacity="0.6" stroke-opacity="0.6"/>
<circle cx="1314.4" cy="436.6" r="4.1" fill="#9dbdff" fill-opacity="0.6" stroke-opacity="0.6"/>
<circle cx="1338.3" cy="441.2" r="4.1" fill="#688aef" fill-opacity="0.6" stroke-opacity="0.6"/>
<circle cx="1331.8" cy="441.2" r="4.1" fill="#9dbdff" fill-opacity="0.6" stroke-opacity="0.6"/>
<circle cx="1320.8" cy="443.1" r="4.1" fill="#688aef" fill-opacity="0.6" stroke-opacity="0.6"/>
<circle cx="1274.9" cy="446.7" r="4.1" fill="#688aef" fill-opacity="0.6" stroke-opacity="0.6"/>
<circle cx="1278.6" cy="448.6" r="4.1" fill="#688aef" fill-opacity="0.6" stroke-opacity="0.6"/>
<circle cx="1287.8" cy="446.7" r="4.1" fill="#e9785d" fill-opacity="0.6" stroke-opacity="0.6"/>
<circle cx="1291.4" cy="444.9" r="4.1" fill="#9dbdff" fill-opacity="0.6" stroke-opacity="0.6"/>
<circle cx="1320.8" cy="448.6" r="4.1" fill="#688aef" fill-opacity="0.6" stroke-opacity="0.6"/>
<circle cx="1308.9" cy="453.2" r="4.1" fill="#688aef" fill-opacity="0.6" stroke-opacity="0.6"/>
<circle cx="1332.7" cy="454.5" r="4.1" fill="#9dbdff" fill-opacity="0.6" stroke-opacity="0.6"/>
<circle cx="1306.1" cy="450.4" r="4.1" fill="#edd1c2" fill-opacity="0.6" stroke-opacity="0.6"/>
<circle cx="1272.1" cy="452.2" r="4.1" fill="#688aef" fill-opacity="0.6" stroke-opacity="0.6"/>
<circle cx="1279.5" cy="453.2" r="4.1" fill="#9dbdff" fill-opacity="0.6" stroke-opacity="0.6"/>
<circle cx="1280.4" cy="458.7" r="4.1" fill="#9dbdff" fill-opacity="0.6" stroke-opacity="0.6"/>
<circle cx="1287.8" cy="456.8" r="4.1" fill="#688aef" fill-opacity="0.6" stroke-opacity="0.6"/>
<circle cx="1295.1" cy="454.1" r="4.1" fill="#688aef" fill-opacity="0.6" stroke-opacity="0.6"/>
<circle cx="1298.8" cy="458.7" r="4.1" fill="#688aef" fill-opacity="0.6" stroke-opacity="0.6"/>
<circle cx="1296.9" cy="462.3" r="4.1" fill="#688aef" fill-opacity="0.6" stroke-opacity="0.6"/>
<circle cx="1270.3" cy="461.4" r="4.1" fill="#688aef" fill-opacity="0.6" stroke-opacity="0.6"/>
<circle cx="1274.9" cy="464.2" r="4.1" fill="#688aef" fill-opacity="0.6" stroke-opacity="0.6"/>
<circle cx="1272.1" cy="467.9" r="4.1" fill="#688aef" fill-opacity="0.6" stroke-opacity="0.6"/>
<circle cx="1278.6" cy="466.9" r="4.1" fill="#688aef" fill-opacity="0.6" stroke-opacity="0.6"/>
<circle cx="1287.8" cy="467.9" r="4.1" fill="#688aef" fill-opacity="0.6" stroke-opacity="0.6"/>
<circle cx="1283.2" cy="470.6" r="4.1" fill="#688aef" fill-opacity="0.6" stroke-opacity="0.6"/>
<circle cx="1300.6" cy="467.9" r="4.1" fill="#9dbdff" fill-opacity="0.6" stroke-opacity="0.6"/>
<circle cx="1294.2" cy="468.8" r="4.1" fill="#9dbdff" fill-opacity="0.6" stroke-opacity="0.6"/>
<circle cx="1268.5" cy="473.4" r="4.1" fill="#688aef" fill-opacity="0.6" stroke-opacity="0.6"/>
<circle cx="1272.1" cy="476.1" r="4.1" fill="#688aef" fill-opacity="0.6" stroke-opacity="0.6"/>
<circle cx="1277.6" cy="478.9" r="4.1" fill="#688aef" fill-opacity="0.6" stroke-opacity="0.6"/>
<circle cx="1267.5" cy="481.6" r="4.1" fill="#688aef" fill-opacity="0.6" stroke-opacity="0.6"/>
<circle cx="1272.1" cy="485.3" r="4.1" fill="#688aef" fill-opacity="0.6" stroke-opacity="0.6"/>
<circle cx="1287.8" cy="472.4" r="4.1" fill="#e9785d" fill-opacity="0.6" stroke-opacity="0.6"/>
<circle cx="1293.3" cy="475.2" r="4.1" fill="#9dbdff" fill-opacity="0.6" stroke-opacity="0.6"/>
<circle cx="1304.3" cy="472.4" r="4.1" fill="#688aef" fill-opacity="0.6" stroke-opacity="0.6"/>
<circle cx="1309.8" cy="475.2" r="4.1" fill="#688aef" fill-opacity="0.6" stroke-opacity="0.6"/>
<circle cx="1314.8" cy="474.3" r="4.1" fill="#9dbdff" fill-opacity="0.6" stroke-opacity="0.6"/>
<circle cx="1314.8" cy="478.9" r="4.1" fill="#9dbdff" fill-opacity="0.6" stroke-opacity="0.6"/>
<circle cx="1267.5" cy="500.9" r="4.1" fill="#e9785d" fill-opacity="0.6" stroke-opacity="0.6"/>
<circle cx="1259.3" cy="492.6" r="4.1" fill="#688aef" fill-opacity="0.6" stroke-opacity="0.6"/>
<circle cx="1279" cy="489" r="4.1" fill="#688aef" fill-opacity="0.6" stroke-opacity="0.6"/>
<circle cx="1279" cy="492.6" r="4.1" fill="#688aef" fill-opacity="0.6" stroke-opacity="0.6"/>
<circle cx="1279" cy="496.3" r="4.1" fill="#688aef" fill-opacity="0.6" stroke-opacity="0.6"/>
<circle cx="1279" cy="500.9" r="4.1" fill="#688aef" fill-opacity="0.6" stroke-opacity="0.6"/>
<circle cx="1279" cy="506.4" r="4.1" fill="#688aef" fill-opacity="0.6" stroke-opacity="0.6"/>
<circle cx="1294.2" cy="486.2" r="4.1" fill="#688aef" fill-opacity="0.6" stroke-opacity="0.6"/>
<circle cx="1294.2" cy="491.7" r="4.1" fill="#688aef" fill-opacity="0.6" stroke-opacity="0.6"/>
<circle cx="1294.2" cy="499.1" r="4.1" fill="#688aef" fill-opacity="0.6" stroke-opacity="0.6"/>
<circle cx="1294.2" cy="504.6" r="4.1" fill="#688aef" fill-opacity="0.6" stroke-opacity="0.6"/>
<circle cx="1294.2" cy="507.3" r="4.1" fill="#688aef" fill-opacity="0.6" stroke-opacity="0.6"/>
<circle cx="1294.2" cy="513.8" r="4.1" fill="#688aef" fill-opacity="0.6" stroke-opacity="0.6"/>
<circle cx="1294.2" cy="517.4" r="4.1" fill="#688aef" fill-opacity="0.6" stroke-opacity="0.6"/>
<circle cx="1294.2" cy="522" r="4.1" fill="#688aef" fill-opacity="0.6" stroke-opacity="0.6"/>
<circle cx="1294.2" cy="526.6" r="4.1" fill="#688aef" fill-opacity="0.6" stroke-opacity="0.6"/>
<circle cx="1315.3" cy="488.1" r="4.1" fill="#688aef" fill-opacity="0.6" stroke-opacity="0.6"/>
<circle cx="1315.3" cy="492.6" r="4.1" fill="#688aef" fill-opacity="0.6" stroke-opacity="0.6"/>
<circle cx="1315.3" cy="500" r="4.1" fill="#688aef" fill-opacity="0.6" stroke-opacity="0.6"/>
<circle cx="1315.3" cy="506.4" r="4.1" fill="#688aef" fill-opacity="0.6" stroke-opacity="0.6"/>
<circle cx="1315.3" cy="514.7" r="4.1" fill="#688aef" fill-opacity="0.6" stroke-opacity="0.6"/>
<circle cx="1315.3" cy="519.3" r="4.1" fill="#688aef" fill-opacity="0.6" stroke-opacity="0.6"/>
<circle cx="1315.3" cy="525.7" r="4.1" fill="#688aef" fill-opacity="0.6" stroke-opacity="0.6"/>
<circle cx="1261.1" cy="423.8" r="4.1" fill="#9dbdff" fill-opacity="0.6" stroke-opacity="0.6"/>
<circle cx="1260.2" cy="434.8" r="4.1" fill="#bcd2f7" fill-opacity="0.6" stroke-opacity="0.6"/>
<circle cx="1259.3" cy="446.7" r="4.1" fill="#bcd2f7" fill-opacity="0.6" stroke-opacity="0.6"/>
<circle cx="1259.3" cy="460.5" r="4.1" fill="#bcd2f7" fill-opacity="0.6" stroke-opacity="0.6"/>
<circle cx="1258.4" cy="474.3" r="4.1" fill="#bcd2f7" fill-opacity="0.6" stroke-opacity="0.6"/>
<circle cx="1258.4" cy="486.2" r="4.1" fill="#9dbdff" fill-opacity="0.6" stroke-opacity="0.6"/>
<circle cx="1257.4" cy="506.4" r="4.1" fill="#bcd2f7" fill-opacity="0.6" stroke-opacity="0.6"/>
<circle cx="1263.9" cy="515.6" r="4.1" fill="#9dbdff" fill-opacity="0.6" stroke-opacity="0.6"/>
<circle cx="1261.1" cy="524.8" r="4.1" fill="#9dbdff" fill-opacity="0.6" stroke-opacity="0.6"/>
<circle cx="1293.8" cy="522.8" r="4.1" fill="#688aef" fill-opacity="0.6" stroke-opacity="0.6"/>
<circle cx="1292.9" cy="529.6" r="4.1" fill="#688aef" fill-opacity="0.6" stroke-opacity="0.6"/>
<circle cx="1315.3" cy="520.9" r="4.1" fill="#688aef" fill-opacity="0.6" stroke-opacity="0.6"/>
<circle cx="1315.3" cy="525.5" r="4.1" fill="#688aef" fill-opacity="0.6" stroke-opacity="0.6"/>
<circle cx="1248.3" cy="546.6" r="4.1" fill="#bcd2f7" fill-opacity="0.6" stroke-opacity="0.6"/>
<circle cx="1248.3" cy="551.2" r="4.1" fill="#9dbdff" fill-opacity="0.6" stroke-opacity="0.6"/>
<circle cx="1248.3" cy="555.8" r="4.1" fill="#bcd2f7" fill-opacity="0.6" stroke-opacity="0.6"/>
<circle cx="1248.8" cy="559.5" r="4.1" fill="#bcd2f7" fill-opacity="0.6" stroke-opacity="0.6"/>
<circle cx="1247.9" cy="567.8" r="4.1" fill="#bcd2f7" fill-opacity="0.6" stroke-opacity="0.6"/>
<circle cx="1248.8" cy="575.1" r="4.1" fill="#edd1c2" fill-opacity="0.6" stroke-opacity="0.6"/>
<circle cx="1249.7" cy="582.4" r="4.1" fill="#d9dce1" fill-opacity="0.6" stroke-opacity="0.6"/>
<circle cx="1250.6" cy="589.8" r="4.1" fill="#bcd2f7" fill-opacity="0.6" stroke-opacity="0.6"/>
<circle cx="1253.4" cy="591.6" r="4.1" fill="#9dbdff" fill-opacity="0.6" stroke-opacity="0.6"/>
<circle cx="1253.4" cy="596.2" r="4.1" fill="#9dbdff" fill-opacity="0.6" stroke-opacity="0.6"/>
<circle cx="1250.6" cy="599.9" r="4.1" fill="#d9dce1" fill-opacity="0.6" stroke-opacity="0.6"/>
<circle cx="1251.5" cy="605.4" r="4.1" fill="#9dbdff" fill-opacity="0.6" stroke-opacity="0.6"/>
<circle cx="1250.6" cy="609.1" r="4.1" fill="#9dbdff" fill-opacity="0.6" stroke-opacity="0.6"/>
<circle cx="1250.6" cy="612.7" r="4.1" fill="#9dbdff" fill-opacity="0.6" stroke-opacity="0.6"/>
<circle cx="1250.6" cy="617.3" r="4.1" fill="#9dbdff" fill-opacity="0.6" stroke-opacity="0.6"/>
<circle cx="1250.6" cy="621" r="4.1" fill="#9dbdff" fill-opacity="0.6" stroke-opacity="0.6"/>
<circle cx="1256.1" cy="567.8" r="4.1" fill="#9dbdff" fill-opacity="0.6" stroke-opacity="0.6"/>
<circle cx="1372.5" cy="187.5" r="4.1" fill="#9dbdff" fill-opacity="0.6" stroke-opacity="0.6"/>
<circle cx="1356.9" cy="168.3" r="4.1" fill="#9dbdff" fill-opacity="0.6" stroke-opacity="0.6"/>
<circle cx="1376.2" cy="172.9" r="4.1" fill="#9dbdff" fill-opacity="0.6" stroke-opacity="0.6"/>
<circle cx="1382.6" cy="169.2" r="4.1" fill="#9dbdff" fill-opacity="0.6" stroke-opacity="0.6"/>
<circle cx="1396.4" cy="167.3" r="4.1" fill="#9dbdff" fill-opacity="0.6" stroke-opacity="0.6"/>
<circle cx="1414.8" cy="174.7" r="4.1" fill="#9dbdff" fill-opacity="0.6" stroke-opacity="0.6"/>
<circle cx="1435" cy="188.5" r="4.1" fill="#688aef" fill-opacity="0.6" stroke-opacity="0.6"/>
<circle cx="1454.2" cy="184.8" r="4.1" fill="#9dbdff" fill-opacity="0.6" stroke-opacity="0.6"/>
<circle cx="1460.7" cy="185.7" r="4.1" fill="#9dbdff" fill-opacity="0.6" stroke-opacity="0.6"/>
<circle cx="1481.8" cy="185.7" r="4.1" fill="#9dbdff" fill-opacity="0.6" stroke-opacity="0.6"/>
<circle cx="1491" cy="183" r="4.1" fill="#9dbdff" fill-opacity="0.6" stroke-opacity="0.6"/>
<circle cx="1523.1" cy="187.5" r="4.1" fill="#9dbdff" fill-opacity="0.6" stroke-opacity="0.6"/>
<circle cx="1461.6" cy="171" r="4.1" fill="#9dbdff" fill-opacity="0.6" stroke-opacity="0.6"/>
<circle cx="1466.2" cy="171.9" r="4.1" fill="#9dbdff" fill-opacity="0.6" stroke-opacity="0.6"/>
<circle cx="1372.5" cy="194" r="4.1" fill="#688aef" fill-opacity="0.6" stroke-opacity="0.6"/>
<circle cx="1383.5" cy="194" r="4.1" fill="#688aef" fill-opacity="0.6" stroke-opacity="0.6"/>
<circle cx="1367" cy="205.9" r="4.1" fill="#9dbdff" fill-opacity="0.6" stroke-opacity="0.6"/>
<circle cx="1366.1" cy="215.1" r="4.1" fill="#9dbdff" fill-opacity="0.6" stroke-opacity="0.6"/>
<circle cx="1365.2" cy="219.7" r="4.1" fill="#9dbdff" fill-opacity="0.6" stroke-opacity="0.6"/>
<circle cx="1367.9" cy="230.7" r="4.1" fill="#9dbdff" fill-opacity="0.6" stroke-opacity="0.6"/>
<circle cx="1372.5" cy="227.9" r="4.1" fill="#688aef" fill-opacity="0.6" stroke-opacity="0.6"/>
<circle cx="1370.7" cy="232.5" r="4.1" fill="#688aef" fill-opacity="0.6" stroke-opacity="0.6"/>
<circle cx="1391.8" cy="228.9" r="4.1" fill="#9dbdff" fill-opacity="0.6" stroke-opacity="0.6"/>
<circle cx="1393.6" cy="236.2" r="4.1" fill="#9dbdff" fill-opacity="0.6" stroke-opacity="0.6"/>
<circle cx="1372.5" cy="245.4" r="4.1" fill="#688aef" fill-opacity="0.6" stroke-opacity="0.6"/>
<circle cx="1379" cy="250.9" r="4.1" fill="#bd1f2d" fill-opacity="0.6" stroke-opacity="0.6"/>
<circle cx="1402.8" cy="250" r="4.1" fill="#688aef" fill-opacity="0.6" stroke-opacity="0.6"/>
<circle cx="1400.1" cy="256.4" r="4.1" fill="#e9785d" fill-opacity="0.6" stroke-opacity="0.6"/>
<circle cx="1391.8" cy="257.3" r="4.1" fill="#9dbdff" fill-opacity="0.6" stroke-opacity="0.6"/>
<circle cx="1391.8" cy="264.7" r="4.1" fill="#9dbdff" fill-opacity="0.6" stroke-opacity="0.6"/>
<circle cx="1397.3" cy="264.7" r="4.1" fill="#688aef" fill-opacity="0.6" stroke-opacity="0.6"/>
<circle cx="1383.5" cy="260.1" r="4.1" fill="#d9dce1" fill-opacity="0.6" stroke-opacity="0.6"/>
<circle cx="1383.5" cy="265.6" r="4.1" fill="#bcd2f7" fill-opacity="0.6" stroke-opacity="0.6"/>
<circle cx="1367" cy="266.5" r="4.1" fill="#bd1f2d" fill-opacity="0.6" stroke-opacity="0.6"/>
<circle cx="1366.1" cy="272.9" r="4.1" fill="#9dbdff" fill-opacity="0.6" stroke-opacity="0.6"/>
<circle cx="1391.8" cy="270.2" r="4.1" fill="#9dbdff" fill-opacity="0.6" stroke-opacity="0.6"/>
<circle cx="1391.8" cy="275.7" r="4.1" fill="#9dbdff" fill-opacity="0.6" stroke-opacity="0.6"/>
<circle cx="1381.7" cy="280.3" r="4.1" fill="#688aef" fill-opacity="0.6" stroke-opacity="0.6"/>
<circle cx="1390.9" cy="282.1" r="4.1" fill="#688aef" fill-opacity="0.6" stroke-opacity="0.6"/>
<circle cx="1397.3" cy="286.7" r="4.1" fill="#9dbdff" fill-opacity="0.6" stroke-opacity="0.6"/>
<circle cx="1374.4" cy="285.8" r="4.1" fill="#688aef" fill-opacity="0.6" stroke-opacity="0.6"/>
<circle cx="1361.5" cy="298.6" r="4.1" fill="#688aef" fill-opacity="0.6" stroke-opacity="0.6"/>
<circle cx="1393.6" cy="301.4" r="4.1" fill="#688aef" fill-opacity="0.6" stroke-opacity="0.6"/>
<circle cx="1397.3" cy="305.1" r="4.1" fill="#688aef" fill-opacity="0.6" stroke-opacity="0.6"/>
<circle cx="1380.8" cy="326.2" r="4.1" fill="#688aef" fill-opacity="0.6" stroke-opacity="0.6"/>
<circle cx="1370.7" cy="329.8" r="4.1" fill="#688aef" fill-opacity="0.6" stroke-opacity="0.6"/>
<circle cx="1369.8" cy="334.4" r="4.1" fill="#688aef" fill-opacity="0.6" stroke-opacity="0.6"/>
<circle cx="1384.5" cy="343.6" r="4.1" fill="#688aef" fill-opacity="0.6" stroke-opacity="0.6"/>
<circle cx="1399.2" cy="349.1" r="4.1" fill="#688aef" fill-opacity="0.6" stroke-opacity="0.6"/>
<circle cx="1397.3" cy="326.2" r="4.1" fill="#e9785d" fill-opacity="0.6" stroke-opacity="0.6"/>
<circle cx="1375.3" cy="341.8" r="4.1" fill="#e9785d" fill-opacity="0.6" stroke-opacity="0.6"/>
<circle cx="1381.7" cy="341.8" r="4.1" fill="#e9785d" fill-opacity="0.6" stroke-opacity="0.6"/>
<circle cx="1367" cy="351" r="4.1" fill="#9dbdff" fill-opacity="0.6" stroke-opacity="0.6"/>
<circle cx="1363.3" cy="357.4" r="4.1" fill="#e9785d" fill-opacity="0.6" stroke-opacity="0.6"/>
<circle cx="1387.2" cy="357.4" r="4.1" fill="#688aef" fill-opacity="0.6" stroke-opacity="0.6"/>
<circle cx="1372.5" cy="363.8" r="4.1" fill="#688aef" fill-opacity="0.6" stroke-opacity="0.6"/>
<circle cx="1372.5" cy="369.3" r="4.1" fill="#688aef" fill-opacity="0.6" stroke-opacity="0.6"/>
<circle cx="1383.5" cy="372.1" r="4.1" fill="#688aef" fill-opacity="0.6" stroke-opacity="0.6"/>
<circle cx="1403.7" cy="370.2" r="4.1" fill="#688aef" fill-opacity="0.6" stroke-opacity="0.6"/>
<circle cx="1393.6" cy="373.9" r="4.1" fill="#688aef" fill-opacity="0.6" stroke-opacity="0.6"/>
<circle cx="1386.3" cy="378.5" r="4.1" fill="#688aef" fill-opacity="0.6" stroke-opacity="0.6"/>
<circle cx="1372.5" cy="379.4" r="4.1" fill="#e9785d" fill-opacity="0.6" stroke-opacity="0.6"/>
<circle cx="1380.8" cy="379.4" r="4.1" fill="#e9785d" fill-opacity="0.6" stroke-opacity="0.6"/>
<circle cx="1391.8" cy="380.3" r="4.1" fill="#688aef" fill-opacity="0.6" stroke-opacity="0.6"/>
<circle cx="1397.3" cy="388.6" r="4.1" fill="#688aef" fill-opacity="0.6" stroke-opacity="0.6"/>
<circle cx="1385.4" cy="390.4" r="4.1" fill="#688aef" fill-opacity="0.6" stroke-opacity="0.6"/>
<circle cx="1371.6" cy="395" r="4.1" fill="#688aef" fill-opacity="0.6" stroke-opacity="0.6"/>
<circle cx="1410.2" cy="255.5" r="4.1" fill="#688aef" fill-opacity="0.6" stroke-opacity="0.6"/>
<circle cx="1412" cy="263.7" r="4.1" fill="#e9785d" fill-opacity="0.6" stroke-opacity="0.6"/>
<circle cx="1414.8" cy="222.4" r="4.1" fill="#9dbdff" fill-opacity="0.6" stroke-opacity="0.6"/>
<circle cx="1432.2" cy="224.3" r="4.1" fill="#688aef" fill-opacity="0.6" stroke-opacity="0.6"/>
<circle cx="1435.9" cy="236.2" r="4.1" fill="#e9785d" fill-opacity="0.6" stroke-opacity="0.6"/>
<circle cx="1446.9" cy="235.3" r="4.1" fill="#688aef" fill-opacity="0.6" stroke-opacity="0.6"/>
<circle cx="1454.2" cy="235.3" r="4.1" fill="#9dbdff" fill-opacity="0.6" stroke-opacity="0.6"/>
<circle cx="1457.9" cy="230.7" r="4.1" fill="#9dbdff" fill-opacity="0.6" stroke-opacity="0.6"/>
<circle cx="1460.7" cy="238" r="4.1" fill="#9dbdff" fill-opacity="0.6" stroke-opacity="0.6"/>
<circle cx="1466.2" cy="244.5" r="4.1" fill="#9dbdff" fill-opacity="0.6" stroke-opacity="0.6"/>
<circle cx="1462.5" cy="250" r="4.1" fill="#688aef" fill-opacity="0.6" stroke-opacity="0.6"/>
<circle cx="1455.2" cy="246.3" r="4.1" fill="#688aef" fill-opacity="0.6" stroke-opacity="0.6"/>
<circle cx="1435.9" cy="257.3" r="4.1" fill="#e9785d" fill-opacity="0.6" stroke-opacity="0.6"/>
<circle cx="1436.8" cy="260.1" r="4.1" fill="#e9785d" fill-opacity="0.6" stroke-opacity="0.6"/>
<circle cx="1442.3" cy="255.5" r="4.1" fill="#edd1c2" fill-opacity="0.6" stroke-opacity="0.6"/>
<circle cx="1429.5" cy="263.7" r="4.1" fill="#d9dce1" fill-opacity="0.6" stroke-opacity="0.6"/>
<circle cx="1422.1" cy="257.3" r="4.1" fill="#688aef" fill-opacity="0.6" stroke-opacity="0.6"/>
<circle cx="1417.5" cy="287.6" r="4.1" fill="#688aef" fill-opacity="0.6" stroke-opacity="0.6"/>
<circle cx="1435.9" cy="272.9" r="4.1" fill="#e9785d" fill-opacity="0.6" stroke-opacity="0.6"/>
<circle cx="1435.9" cy="283" r="4.1" fill="#e9785d" fill-opacity="0.6" stroke-opacity="0.6"/>
<circle cx="1442.3" cy="267.4" r="4.1" fill="#edd1c2" fill-opacity="0.6" stroke-opacity="0.6"/>
<circle cx="1442.3" cy="272" r="4.1" fill="#edd1c2" fill-opacity="0.6" stroke-opacity="0.6"/>
<circle cx="1442.3" cy="277.5" r="4.1" fill="#edd1c2" fill-opacity="0.6" stroke-opacity="0.6"/>
<circle cx="1442.3" cy="283" r="4.1" fill="#edd1c2" fill-opacity="0.6" stroke-opacity="0.6"/>
<circle cx="1455.2" cy="261.9" r="4.1" fill="#e9785d" fill-opacity="0.6" stroke-opacity="0.6"/>
<circle cx="1454.2" cy="264.7" r="4.1" fill="#688aef" fill-opacity="0.6" stroke-opacity="0.6"/>
<circle cx="1454.2" cy="270.2" r="4.1" fill="#688aef" fill-opacity="0.6" stroke-opacity="0.6"/>
<circle cx="1455.2" cy="278.4" r="4.1" fill="#688aef" fill-opacity="0.6" stroke-opacity="0.6"/>
<circle cx="1456.1" cy="275.7" r="4.1" fill="#edd1c2" fill-opacity="0.6" stroke-opacity="0.6"/>
<circle cx="1458.8" cy="287.6" r="4.1" fill="#d9dce1" fill-opacity="0.6" stroke-opacity="0.6"/>
<circle cx="1465.3" cy="261.9" r="4.1" fill="#edd1c2" fill-opacity="0.6" stroke-opacity="0.6"/>
<circle cx="1466.2" cy="265.6" r="4.1" fill="#edd1c2" fill-opacity="0.6" stroke-opacity="0.6"/>
<circle cx="1461.6" cy="264.7" r="4.1" fill="#688aef" fill-opacity="0.6" stroke-opacity="0.6"/>
<circle cx="1476.3" cy="275.7" r="4.1" fill="#edd1c2" fill-opacity="0.6" stroke-opacity="0.6"/>
<circle cx="1483.6" cy="284.9" r="4.1" fill="#edd1c2" fill-opacity="0.6" stroke-opacity="0.6"/>
<circle cx="1488.2" cy="277.5" r="4.1" fill="#e9785d" fill-opacity="0.6" stroke-opacity="0.6"/>
<circle cx="1488.2" cy="282.1" r="4.1" fill="#e9785d" fill-opacity="0.6" stroke-opacity="0.6"/>
<circle cx="1488.2" cy="292.2" r="4.1" fill="#e9785d" fill-opacity="0.6" stroke-opacity="0.6"/>
<circle cx="1488.2" cy="251.8" r="4.1" fill="#e9785d" fill-opacity="0.6" stroke-opacity="0.6"/>
<circle cx="1487.3" cy="260.1" r="4.1" fill="#e9785d" fill-opacity="0.6" stroke-opacity="0.6"/>
<circle cx="1491" cy="256.4" r="4.1" fill="#9dbdff" fill-opacity="0.6" stroke-opacity="0.6"/>
<circle cx="1488.2" cy="225.2" r="4.1" fill="#d55042" fill-opacity="0.6" stroke-opacity="0.6"/>
<circle cx="1489.1" cy="218.8" r="4.1" fill="#e9785d" fill-opacity="0.6" stroke-opacity="0.6"/>
<circle cx="1485.5" cy="212.3" r="4.1" fill="#688aef" fill-opacity="0.6" stroke-opacity="0.6"/>
<circle cx="1482.7" cy="218.8" r="4.1" fill="#688aef" fill-opacity="0.6" stroke-opacity="0.6"/>
<circle cx="1494.6" cy="213.3" r="4.1" fill="#e9785d" fill-opacity="0.6" stroke-opacity="0.6"/>
<circle cx="1491" cy="204.1" r="4.1" fill="#9dbdff" fill-opacity="0.6" stroke-opacity="0.6"/>
<circle cx="1460.7" cy="204.1" r="4.1" fill="#9dbdff" fill-opacity="0.6" stroke-opacity="0.6"/>
<circle cx="1466.2" cy="204.1" r="4.1" fill="#9dbdff" fill-opacity="0.6" stroke-opacity="0.6"/>
<circle cx="1460.7" cy="210.5" r="4.1" fill="#9dbdff" fill-opacity="0.6" stroke-opacity="0.6"/>
<circle cx="1495.6" cy="229.8" r="4.1" fill="#688aef" fill-opacity="0.6" stroke-opacity="0.6"/>
<circle cx="1495.6" cy="237.1" r="4.1" fill="#688aef" fill-opacity="0.6" stroke-opacity="0.6"/>
<circle cx="1497.4" cy="243.5" r="4.1" fill="#688aef" fill-opacity="0.6" stroke-opacity="0.6"/>
<circle cx="1506.6" cy="224.3" r="4.1" fill="#688aef" fill-opacity="0.6" stroke-opacity="0.6"/>
<circle cx="1506.6" cy="233.4" r="4.1" fill="#688aef" fill-opacity="0.6" stroke-opacity="0.6"/>
<circle cx="1507.5" cy="255.5" r="4.1" fill="#688aef" fill-opacity="0.6" stroke-opacity="0.6"/>
<circle cx="1506.6" cy="264.7" r="4.1" fill="#688aef" fill-opacity="0.6" stroke-opacity="0.6"/>
<circle cx="1522.2" cy="230.7" r="4.1" fill="#4a63d3" fill-opacity="0.6" stroke-opacity="0.6"/>
<circle cx="1536" cy="206.8" r="4.1" fill="#9dbdff" fill-opacity="0.6" stroke-opacity="0.6"/>
<circle cx="1536" cy="218.8" r="4.1" fill="#9dbdff" fill-opacity="0.6" stroke-opacity="0.6"/>
<circle cx="1543.3" cy="227.9" r="4.1" fill="#d9dce1" fill-opacity="0.6" stroke-opacity="0.6"/>
<circle cx="1504.7" cy="288.5" r="4.1" fill="#edd1c2" fill-opacity="0.6" stroke-opacity="0.6"/>
<circle cx="1508.4" cy="301.4" r="4.1" fill="#edd1c2" fill-opacity="0.6" stroke-opacity="0.6"/>
<circle cx="1508.4" cy="307.8" r="4.1" fill="#edd1c2" fill-opacity="0.6" stroke-opacity="0.6"/>
<circle cx="1504.7" cy="314.2" r="4.1" fill="#edd1c2" fill-opacity="0.6" stroke-opacity="0.6"/>
<circle cx="1498.3" cy="295" r="4.1" fill="#edd1c2" fill-opacity="0.6" stroke-opacity="0.6"/>
<circle cx="1482.7" cy="301.4" r="4.1" fill="#e9785d" fill-opacity="0.6" stroke-opacity="0.6"/>
<circle cx="1459.8" cy="302.3" r="4.1" fill="#e9785d" fill-opacity="0.6" stroke-opacity="0.6"/>
<circle cx="1437.7" cy="306" r="4.1" fill="#688aef" fill-opacity="0.6" stroke-opacity="0.6"/>
<circle cx="1450.6" cy="310.6" r="4.1" fill="#688aef" fill-opacity="0.6" stroke-opacity="0.6"/>
<circle cx="1413.8" cy="323.4" r="4.1" fill="#edd1c2" fill-opacity="0.6" stroke-opacity="0.6"/>
<circle cx="1419.4" cy="320.7" r="4.1" fill="#edd1c2" fill-opacity="0.6" stroke-opacity="0.6"/>
<circle cx="1415.7" cy="337.2" r="4.1" fill="#9dbdff" fill-opacity="0.6" stroke-opacity="0.6"/>
<circle cx="1419.4" cy="344.5" r="4.1" fill="#edd1c2" fill-opacity="0.6" stroke-opacity="0.6"/>
<circle cx="1417.5" cy="351.9" r="4.1" fill="#9dbdff" fill-opacity="0.6" stroke-opacity="0.6"/>
<circle cx="1413.8" cy="356.5" r="4.1" fill="#edd1c2" fill-opacity="0.6" stroke-opacity="0.6"/>
<circle cx="1419.4" cy="359.2" r="4.1" fill="#edd1c2" fill-opacity="0.6" stroke-opacity="0.6"/>
<circle cx="1413.8" cy="367.5" r="4.1" fill="#edd1c2" fill-opacity="0.6" stroke-opacity="0.6"/>
<circle cx="1446.9" cy="352.8" r="4.1" fill="#688aef" fill-opacity="0.6" stroke-opacity="0.6"/>
<circle cx="1454.2" cy="347.3" r="4.1" fill="#4a63d3" fill-opacity="0.6" stroke-opacity="0.6"/>
<circle cx="1454.2" cy="327.1" r="4.1" fill="#4a63d3" fill-opacity="0.6" stroke-opacity="0.6"/>
<circle cx="1480.9" cy="334.4" r="4.1" fill="#edd1c2" fill-opacity="0.6" stroke-opacity="0.6"/>
<circle cx="1498.3" cy="327.1" r="4.1" fill="#edd1c2" fill-opacity="0.6" stroke-opacity="0.6"/>
<circle cx="1494.6" cy="362.9" r="4.1" fill="#e9785d" fill-opacity="0.6" stroke-opacity="0.6"/>
<circle cx="1494.6" cy="368.4" r="4.1" fill="#e9785d" fill-opacity="0.6" stroke-opacity="0.6"/>
<circle cx="1450.6" cy="374.8" r="4.1" fill="#688aef" fill-opacity="0.6" stroke-opacity="0.6"/>
<circle cx="1430.4" cy="384" r="4.1" fill="#4a63d3" fill-opacity="0.6" stroke-opacity="0.6"/>
<circle cx="1420.3" cy="386.8" r="4.1" fill="#bcd2f7" fill-opacity="0.6" stroke-opacity="0.6"/>
<circle cx="1453.3" cy="387.7" r="4.1" fill="#4a63d3" fill-opacity="0.6" stroke-opacity="0.6"/>
<circle cx="1470.8" cy="388.6" r="4.1" fill="#4a63d3" fill-opacity="0.6" stroke-opacity="0.6"/>
<circle cx="1418.4" cy="296.8" r="4.1" fill="#edd1c2" fill-opacity="0.6" stroke-opacity="0.6"/>
<circle cx="1437.7" cy="301.4" r="4.1" fill="#9dbdff" fill-opacity="0.6" stroke-opacity="0.6"/>
<circle cx="1728.5" cy="209" r="4.1" fill="#d55042" fill-opacity="0.6" stroke-opacity="0.6"/>
<circle cx="1757.3" cy="220" r="4.1" fill="#688aef" fill-opacity="0.6" stroke-opacity="0.6"/>
<circle cx="1730.5" cy="233.4" r="4.1" fill="#688aef" fill-opacity="0.6" stroke-opacity="0.6"/>
<circle cx="1735.1" cy="232.4" r="4.1" fill="#d55042" fill-opacity="0.6" stroke-opacity="0.6"/>
<circle cx="1679.2" cy="233.4" r="4.1" fill="#bcd2f7" fill-opacity="0.6" stroke-opacity="0.6"/>
<circle cx="1623.4" cy="267.4" r="4.1" fill="#d55042" fill-opacity="0.6" stroke-opacity="0.6"/>
<circle cx="1728.2" cy="273.5" r="4.1" fill="#d55042" fill-opacity="0.6" stroke-opacity="0.6"/>
<circle cx="1543.1" cy="227.8" r="4.1" fill="#d9dce1" fill-opacity="0.6" stroke-opacity="0.6"/>
<circle cx="1589.7" cy="315.6" r="4.1" fill="#edd1c2" fill-opacity="0.6" stroke-opacity="0.6"/>
<circle cx="1589.7" cy="335.5" r="4.1" fill="#edd1c2" fill-opacity="0.6" stroke-opacity="0.6"/>
<circle cx="1761.1" cy="311" r="4.1" fill="#edd1c2" fill-opacity="0.6" stroke-opacity="0.6"/>
<circle cx="1746.9" cy="334" r="4.1" fill="#edd1c2" fill-opacity="0.6" stroke-opacity="0.6"/>
<circle cx="1789.2" cy="101.7" r="4.1" fill="#9dbdff" fill-opacity="0.6" stroke-opacity="0.6"/>
<circle cx="1373" cy="406.9" r="4.1" fill="#4a63d3" fill-opacity="0.6" stroke-opacity="0.6"/>
<circle cx="1371" cy="413.1" r="4.1" fill="#688aef" fill-opacity="0.6" stroke-opacity="0.6"/>
<circle cx="1498.9" cy="92.3" r="4.1" fill="#9dbdff" fill-opacity="0.6" stroke-opacity="0.6"/>
<circle cx="1506.5" cy="94.2" r="4.1" fill="#9dbdff" fill-opacity="0.6" stroke-opacity="0.6"/>
<circle cx="1501.7" cy="107.5" r="4.1" fill="#9dbdff" fill-opacity="0.6" stroke-opacity="0.6"/>
<circle cx="1507.4" cy="117" r="4.1" fill="#9dbdff" fill-opacity="0.6" stroke-opacity="0.6"/>
<circle cx="1496" cy="120.8" r="4.1" fill="#9dbdff" fill-opacity="0.6" stroke-opacity="0.6"/>
<circle cx="1510.3" cy="126.5" r="4.1" fill="#9dbdff" fill-opacity="0.6" stroke-opacity="0.6"/>
<circle cx="1495.1" cy="133.2" r="4.1" fill="#9dbdff" fill-opacity="0.6" stroke-opacity="0.6"/>
<circle cx="1539.7" cy="137.9" r="4.1" fill="#9dbdff" fill-opacity="0.6" stroke-opacity="0.6"/>
<circle cx="1532.1" cy="151.2" r="4.1" fill="#9dbdff" fill-opacity="0.6" stroke-opacity="0.6"/>
<circle cx="1507.4" cy="153.1" r="4.1" fill="#9dbdff" fill-opacity="0.6" stroke-opacity="0.6"/>
<circle cx="1493.2" cy="155" r="4.1" fill="#9dbdff" fill-opacity="0.6" stroke-opacity="0.6"/>
<circle cx="1397.2" cy="126.5" r="4.1" fill="#9dbdff" fill-opacity="0.6" stroke-opacity="0.6"/>
<circle cx="1400.1" cy="135.1" r="4.1" fill="#9dbdff" fill-opacity="0.6" stroke-opacity="0.6"/>
<circle cx="1397.2" cy="141.7" r="4.1" fill="#9dbdff" fill-opacity="0.6" stroke-opacity="0.6"/>
<circle cx="1385.8" cy="143.6" r="4.1" fill="#9dbdff" fill-opacity="0.6" stroke-opacity="0.6"/>
<circle cx="1422.9" cy="133.2" r="4.1" fill="#9dbdff" fill-opacity="0.6" stroke-opacity="0.6"/>
<circle cx="1433.3" cy="132.2" r="4.1" fill="#9dbdff" fill-opacity="0.6" stroke-opacity="0.6"/>
<circle cx="1454.2" cy="125.6" r="4.1" fill="#9dbdff" fill-opacity="0.6" stroke-opacity="0.6"/>
<circle cx="1455.2" cy="130.3" r="4.1" fill="#9dbdff" fill-opacity="0.6" stroke-opacity="0.6"/>
<circle cx="1465.6" cy="141.7" r="4.1" fill="#9dbdff" fill-opacity="0.6" stroke-opacity="0.6"/>
<circle cx="1480.8" cy="143.6" r="4.1" fill="#9dbdff" fill-opacity="0.6" stroke-opacity="0.6"/>
<circle cx="1403.9" cy="162.6" r="4.1" fill="#9dbdff" fill-opacity="0.6" stroke-opacity="0.6"/>
<circle cx="1417.2" cy="166.4" r="4.1" fill="#9dbdff" fill-opacity="0.6" stroke-opacity="0.6"/>
<circle cx="1453.3" cy="163.6" r="4.1" fill="#9dbdff" fill-opacity="0.6" stroke-opacity="0.6"/>
<circle cx="1462.8" cy="166.4" r="4.1" fill="#9dbdff" fill-opacity="0.6" stroke-opacity="0.6"/>
<circle cx="1383" cy="194" r="4.1" fill="#688aef" fill-opacity="0.6" stroke-opacity="0.6"/>
<circle cx="1372.5" cy="194" r="4.1" fill="#688aef" fill-opacity="0.6" stroke-opacity="0.6"/>
<circle cx="1268.7" cy="430.5" r="4.1" fill="#4a63d3" fill-opacity="0.6" stroke-opacity="0.6"/>
<circle cx="1273.7" cy="435.6" r="4.1" fill="#4a63d3" fill-opacity="0.6" stroke-opacity="0.6"/>
<circle cx="1278.8" cy="430.5" r="4.1" fill="#4a63d3" fill-opacity="0.6" stroke-opacity="0.6"/>
<circle cx="1285.5" cy="433.9" r="4.1" fill="#4a63d3" fill-opacity="0.6" stroke-opacity="0.6"/>
<circle cx="1290.6" cy="437.2" r="4.1" fill="#4a63d3" fill-opacity="0.6" stroke-opacity="0.6"/>
<circle cx="1277.1" cy="444" r="4.1" fill="#4a63d3" fill-opacity="0.6" stroke-opacity="0.6"/>
<circle cx="1270.4" cy="450.7" r="4.1" fill="#4a63d3" fill-opacity="0.6" stroke-opacity="0.6"/>
<circle cx="1282.1" cy="450.7" r="4.1" fill="#4a63d3" fill-opacity="0.6" stroke-opacity="0.6"/>
<circle cx="1290.6" cy="454.1" r="4.1" fill="#4a63d3" fill-opacity="0.6" stroke-opacity="0.6"/>
<circle cx="1295.6" cy="457.4" r="4.1" fill="#4a63d3" fill-opacity="0.6" stroke-opacity="0.6"/>
<circle cx="1272" cy="459.1" r="4.1" fill="#4a63d3" fill-opacity="0.6" stroke-opacity="0.6"/>
<circle cx="1278.8" cy="464.2" r="4.1" fill="#4a63d3" fill-opacity="0.6" stroke-opacity="0.6"/>
<circle cx="1285.5" cy="460.8" r="4.1" fill="#4a63d3" fill-opacity="0.6" stroke-opacity="0.6"/>
<circle cx="1268.7" cy="469.2" r="4.1" fill="#4a63d3" fill-opacity="0.6" stroke-opacity="0.6"/>
<circle cx="1277.1" cy="474.3" r="4.1" fill="#4a63d3" fill-opacity="0.6" stroke-opacity="0.6"/>
<circle cx="1285.5" cy="470.9" r="4.1" fill="#4a63d3" fill-opacity="0.6" stroke-opacity="0.6"/>
<circle cx="1293.9" cy="467.5" r="4.1" fill="#4a63d3" fill-opacity="0.6" stroke-opacity="0.6"/>
<circle cx="1270.4" cy="481" r="4.1" fill="#4a63d3" fill-opacity="0.6" stroke-opacity="0.6"/>
<circle cx="1278.8" cy="484.4" r="4.1" fill="#4a63d3" fill-opacity="0.6" stroke-opacity="0.6"/>
<circle cx="1265.3" cy="487.7" r="4.1" fill="#4a63d3" fill-opacity="0.6" stroke-opacity="0.6"/>
<circle cx="1302.3" cy="472.6" r="4.1" fill="#4a63d3" fill-opacity="0.6" stroke-opacity="0.6"/>
<circle cx="1305.7" cy="474.3" r="4.1" fill="#4a63d3" fill-opacity="0.6" stroke-opacity="0.6"/>
<circle cx="1309.1" cy="476" r="4.1" fill="#4a63d3" fill-opacity="0.6" stroke-opacity="0.6"/>
<circle cx="1299" cy="459.1" r="4.1" fill="#4a63d3" fill-opacity="0.6" stroke-opacity="0.6"/>
<circle cx="1287.2" cy="444" r="4.1" fill="#4a63d3" fill-opacity="0.6" stroke-opacity="0.6"/>
<circle cx="1295.6" cy="447.3" r="4.1" fill="#4a63d3" fill-opacity="0.6" stroke-opacity="0.6"/>
<circle cx="1265.2" cy="333.1" r="4.1" fill="#9dbdff" fill-opacity="0.6" stroke-opacity="0.6"/>
<circle cx="1278" cy="333.1" r="4.1" fill="#9dbdff" fill-opacity="0.6" stroke-opacity="0.6"/>
<circle cx="1289.1" cy="333.1" r="4.1" fill="#bcd2f7" fill-opacity="0.6" stroke-opacity="0.6"/>
<circle cx="1294" cy="333.1" r="4.1" fill="#9dbdff" fill-opacity="0.6" stroke-opacity="0.6"/>
<circle cx="1268.9" cy="338" r="4.1" fill="#9dbdff" fill-opacity="0.6" stroke-opacity="0.6"/>
<circle cx="1284.8" cy="338" r="4.1" fill="#9dbdff" fill-opacity="0.6" stroke-opacity="0.6"/>
<circle cx="1294" cy="338" r="4.1" fill="#9dbdff" fill-opacity="0.6" stroke-opacity="0.6"/>
<circle cx="1314.2" cy="338" r="4.1" fill="#9dbdff" fill-opacity="0.6" stroke-opacity="0.6"/>
<circle cx="1263.4" cy="343.5" r="4.1" fill="#9dbdff" fill-opacity="0.6" stroke-opacity="0.6"/>
<circle cx="1267.6" cy="343.5" r="4.1" fill="#9dbdff" fill-opacity="0.6" stroke-opacity="0.6"/>
<circle cx="1281.7" cy="343.5" r="4.1" fill="#9dbdff" fill-opacity="0.6" stroke-opacity="0.6"/>
<circle cx="1290.3" cy="343.5" r="4.1" fill="#9dbdff" fill-opacity="0.6" stroke-opacity="0.6"/>
<circle cx="1298.9" cy="343.5" r="4.1" fill="#9dbdff" fill-opacity="0.6" stroke-opacity="0.6"/>
<circle cx="1315.4" cy="343.5" r="4.1" fill="#e9785d" fill-opacity="0.6" stroke-opacity="0.6"/>
<circle cx="1273.2" cy="347.7" r="4.1" fill="#9dbdff" fill-opacity="0.6" stroke-opacity="0.6"/>
<circle cx="1278.7" cy="347.7" r="4.1" fill="#d9dce1" fill-opacity="0.6" stroke-opacity="0.6"/>
<circle cx="1285.4" cy="347.7" r="4.1" fill="#bcd2f7" fill-opacity="0.6" stroke-opacity="0.6"/>
<circle cx="1265.8" cy="347.7" r="4.1" fill="#9dbdff" fill-opacity="0.6" stroke-opacity="0.6"/>
<circle cx="1266.4" cy="351.4" r="4.1" fill="#9dbdff" fill-opacity="0.6" stroke-opacity="0.6"/>
<circle cx="1284.8" cy="351.4" r="4.1" fill="#9dbdff" fill-opacity="0.6" stroke-opacity="0.6"/>
<circle cx="1298.9" cy="351.4" r="4.1" fill="#d9dce1" fill-opacity="0.6" stroke-opacity="0.6"/>
<circle cx="1304.4" cy="351.4" r="4.1" fill="#edd1c2" fill-opacity="0.6" stroke-opacity="0.6"/>
<circle cx="1263.4" cy="355.7" r="4.1" fill="#9dbdff" fill-opacity="0.6" stroke-opacity="0.6"/>
<circle cx="1272.5" cy="355.7" r="4.1" fill="#9dbdff" fill-opacity="0.6" stroke-opacity="0.6"/>
<circle cx="1279.3" cy="355.7" r="4.1" fill="#9dbdff" fill-opacity="0.6" stroke-opacity="0.6"/>
<circle cx="1287.8" cy="355.7" r="4.1" fill="#9dbdff" fill-opacity="0.6" stroke-opacity="0.6"/>
<circle cx="1294" cy="355.7" r="4.1" fill="#688aef" fill-opacity="0.6" stroke-opacity="0.6"/>
<circle cx="1306.2" cy="355.7" r="4.1" fill="#bcd2f7" fill-opacity="0.6" stroke-opacity="0.6"/>
<circle cx="1268.3" cy="360.6" r="4.1" fill="#9dbdff" fill-opacity="0.6" stroke-opacity="0.6"/>
<circle cx="1275.6" cy="360.6" r="4.1" fill="#9dbdff" fill-opacity="0.6" stroke-opacity="0.6"/>
<circle cx="1281.7" cy="360.6" r="4.1" fill="#d55042" fill-opacity="0.6" stroke-opacity="0.6"/>
<circle cx="1298.9" cy="360.6" r="4.1" fill="#9dbdff" fill-opacity="0.6" stroke-opacity="0.6"/>
<circle cx="1306.8" cy="360.6" r="4.1" fill="#d9dce1" fill-opacity="0.6" stroke-opacity="0.6"/>
<circle cx="1266.4" cy="365.5" r="4.1" fill="#9dbdff" fill-opacity="0.6" stroke-opacity="0.6"/>
<circle cx="1271.9" cy="365.5" r="4.1" fill="#9dbdff" fill-opacity="0.6" stroke-opacity="0.6"/>
<circle cx="1286.6" cy="365.5" r="4.1" fill="#bcd2f7" fill-opacity="0.6" stroke-opacity="0.6"/>
<circle cx="1302.5" cy="365.5" r="4.1" fill="#688aef" fill-opacity="0.6" stroke-opacity="0.6"/>
<circle cx="1279.3" cy="368.6" r="4.1" fill="#e9785d" fill-opacity="0.6" stroke-opacity="0.6"/>
<circle cx="1284.2" cy="368.6" r="4.1" fill="#688aef" fill-opacity="0.6" stroke-opacity="0.6"/>
<circle cx="1317.8" cy="368.6" r="4.1" fill="#d9dce1" fill-opacity="0.6" stroke-opacity="0.6"/>
<circle cx="1268.9" cy="372.8" r="4.1" fill="#9dbdff" fill-opacity="0.6" stroke-opacity="0.6"/>
<circle cx="1278" cy="372.8" r="4.1" fill="#9dbdff" fill-opacity="0.6" stroke-opacity="0.6"/>
<circle cx="1282.9" cy="372.8" r="4.1" fill="#9dbdff" fill-opacity="0.6" stroke-opacity="0.6"/>
<circle cx="1304.4" cy="372.8" r="4.1" fill="#e9785d" fill-opacity="0.6" stroke-opacity="0.6"/>
<circle cx="1291.5" cy="372.8" r="4.1" fill="#bcd2f7" fill-opacity="0.6" stroke-opacity="0.6"/>
<circle cx="1264" cy="377.7" r="4.1" fill="#9dbdff" fill-opacity="0.6" stroke-opacity="0.6"/>
<circle cx="1270.7" cy="377.7" r="4.1" fill="#9dbdff" fill-opacity="0.6" stroke-opacity="0.6"/>
<circle cx="1276.8" cy="377.7" r="4.1" fill="#9dbdff" fill-opacity="0.6" stroke-opacity="0.6"/>
<circle cx="1284.2" cy="377.7" r="4.1" fill="#4a63d3" fill-opacity="0.6" stroke-opacity="0.6"/>
<circle cx="1290.9" cy="377.7" r="4.1" fill="#9dbdff" fill-opacity="0.6" stroke-opacity="0.6"/>
<circle cx="1297.6" cy="377.7" r="4.1" fill="#9dbdff" fill-opacity="0.6" stroke-opacity="0.6"/>
<circle cx="1265.8" cy="383.2" r="4.1" fill="#e9785d" fill-opacity="0.6" stroke-opacity="0.6"/>
<circle cx="1273.8" cy="383.2" r="4.1" fill="#9dbdff" fill-opacity="0.6" stroke-opacity="0.6"/>
<circle cx="1280.5" cy="383.2" r="4.1" fill="#e9785d" fill-opacity="0.6" stroke-opacity="0.6"/>
<circle cx="1291.5" cy="383.2" r="4.1" fill="#bcd2f7" fill-opacity="0.6" stroke-opacity="0.6"/>
<circle cx="1298.9" cy="383.2" r="4.1" fill="#9dbdff" fill-opacity="0.6" stroke-opacity="0.6"/>
<circle cx="1263.4" cy="388.1" r="4.1" fill="#9dbdff" fill-opacity="0.6" stroke-opacity="0.6"/>
<circle cx="1274.4" cy="388.1" r="4.1" fill="#9dbdff" fill-opacity="0.6" stroke-opacity="0.6"/>
<circle cx="1318.4" cy="388.1" r="4.1" fill="#d9dce1" fill-opacity="0.6" stroke-opacity="0.6"/>
<circle cx="1262.1" cy="393.6" r="4.1" fill="#9dbdff" fill-opacity="0.6" stroke-opacity="0.6"/>
<circle cx="1267.6" cy="393.6" r="4.1" fill="#9dbdff" fill-opacity="0.6" stroke-opacity="0.6"/>
<circle cx="1320.9" cy="393.6" r="4.1" fill="#4a63d3" fill-opacity="0.6" stroke-opacity="0.6"/>
<circle cx="1311.7" cy="393.6" r="4.1" fill="#9dbdff" fill-opacity="0.6" stroke-opacity="0.6"/>
<circle cx="1271.9" cy="398.5" r="4.1" fill="#d55042" fill-opacity="0.6" stroke-opacity="0.6"/>
<circle cx="1264.6" cy="398.5" r="4.1" fill="#9dbdff" fill-opacity="0.6" stroke-opacity="0.6"/>
<circle cx="1316" cy="398.5" r="4.1" fill="#9dbdff" fill-opacity="0.6" stroke-opacity="0.6"/>
<circle cx="1268.9" cy="403.4" r="4.1" fill="#e9785d" fill-opacity="0.6" stroke-opacity="0.6"/>
<circle cx="1277.4" cy="403.4" r="4.1" fill="#9dbdff" fill-opacity="0.6" stroke-opacity="0.6"/>
<circle cx="1317.2" cy="403.4" r="4.1" fill="#688aef" fill-opacity="0.6" stroke-opacity="0.6"/>
<circle cx="1309.9" cy="403.4" r="4.1" fill="#688aef" fill-opacity="0.6" stroke-opacity="0.6"/>
<circle cx="1267.6" cy="407.7" r="4.1" fill="#e9785d" fill-opacity="0.6" stroke-opacity="0.6"/>
<circle cx="1273.2" cy="407.7" r="4.1" fill="#d9dce1" fill-opacity="0.6" stroke-opacity="0.6"/>
<circle cx="1301.9" cy="407.7" r="4.1" fill="#688aef" fill-opacity="0.6" stroke-opacity="0.6"/>
<circle cx="1267" cy="407.4" r="4.1" fill="#e9785d" fill-opacity="0.6" stroke-opacity="0.6"/>
<circle cx="1269.5" cy="409.9" r="4.1" fill="#e9785d" fill-opacity="0.6" stroke-opacity="0.6"/>
<circle cx="1266.4" cy="413.6" r="4.1" fill="#d55042" fill-opacity="0.6" stroke-opacity="0.6"/>
<circle cx="1270.7" cy="414.8" r="4.1" fill="#e9785d" fill-opacity="0.6" stroke-opacity="0.6"/>
<circle cx="1263.4" cy="416.6" r="4.1" fill="#e9785d" fill-opacity="0.6" stroke-opacity="0.6"/>
<circle cx="1262.1" cy="411.1" r="4.1" fill="#9dbdff" fill-opacity="0.6" stroke-opacity="0.6"/>
<circle cx="1260.3" cy="409.9" r="4.1" fill="#9dbdff" fill-opacity="0.6" stroke-opacity="0.6"/>
<circle cx="1271.9" cy="407.4" r="4.1" fill="#e9785d" fill-opacity="0.6" stroke-opacity="0.6"/>
<circle cx="1279.3" cy="406.8" r="4.1" fill="#9dbdff" fill-opacity="0.6" stroke-opacity="0.6"/>
<circle cx="1287.8" cy="408.7" r="4.1" fill="#9dbdff" fill-opacity="0.6" stroke-opacity="0.6"/>
<circle cx="1297" cy="408.7" r="4.1" fill="#e9785d" fill-opacity="0.6" stroke-opacity="0.6"/>
<circle cx="1300.1" cy="412.3" r="4.1" fill="#688aef" fill-opacity="0.6" stroke-opacity="0.6"/>
<circle cx="1295.2" cy="415.4" r="4.1" fill="#4a63d3" fill-opacity="0.6" stroke-opacity="0.6"/>
<circle cx="1303.8" cy="409.9" r="4.1" fill="#688aef" fill-opacity="0.6" stroke-opacity="0.6"/>
<circle cx="1309.3" cy="409.3" r="4.1" fill="#688aef" fill-opacity="0.6" stroke-opacity="0.6"/>
<circle cx="1316.6" cy="407.4" r="4.1" fill="#688aef" fill-opacity="0.6" stroke-opacity="0.6"/>
<circle cx="1320.9" cy="412.3" r="4.1" fill="#688aef" fill-opacity="0.6" stroke-opacity="0.6"/>
<circle cx="1287.8" cy="419.1" r="4.1" fill="#edd1c2" fill-opacity="0.6" stroke-opacity="0.6"/>
<circle cx="1286.6" cy="420.9" r="4.1" fill="#d9dce1" fill-opacity="0.6" stroke-opacity="0.6"/>
<circle cx="1296.4" cy="422.1" r="4.1" fill="#e9785d" fill-opacity="0.6" stroke-opacity="0.6"/>
<circle cx="1305" cy="418.5" r="4.1" fill="#e9785d" fill-opacity="0.6" stroke-opacity="0.6"/>
<circle cx="1301.9" cy="425.8" r="4.1" fill="#edd1c2" fill-opacity="0.6" stroke-opacity="0.6"/>
<circle cx="1311.1" cy="417.2" r="4.1" fill="#9dbdff" fill-opacity="0.6" stroke-opacity="0.6"/>
<circle cx="1315.4" cy="419.7" r="4.1" fill="#9dbdff" fill-opacity="0.6" stroke-opacity="0.6"/>
<circle cx="1317.2" cy="423.4" r="4.1" fill="#688aef" fill-opacity="0.6" stroke-opacity="0.6"/>
<circle cx="1309.3" cy="426.4" r="4.1" fill="#688aef" fill-opacity="0.6" stroke-opacity="0.6"/>
<circle cx="1314.2" cy="430.7" r="4.1" fill="#688aef" fill-opacity="0.6" stroke-opacity="0.6"/>
<circle cx="1314.8" cy="435.6" r="4.1" fill="#9dbdff" fill-opacity="0.6" stroke-opacity="0.6"/>
<circle cx="1321.5" cy="436.8" r="4.1" fill="#688aef" fill-opacity="0.6" stroke-opacity="0.6"/>
<circle cx="1320.9" cy="442.9" r="4.1" fill="#688aef" fill-opacity="0.6" stroke-opacity="0.6"/>
<circle cx="1320.9" cy="447.8" r="4.1" fill="#688aef" fill-opacity="0.6" stroke-opacity="0.6"/>
<circle cx="1323.9" cy="429.5" r="4.1" fill="#688aef" fill-opacity="0.6" stroke-opacity="0.6"/>
<circle cx="1277.4" cy="428.3" r="4.1" fill="#4a63d3" fill-opacity="0.6" stroke-opacity="0.6"/>
<circle cx="1281.7" cy="430.7" r="4.1" fill="#4a63d3" fill-opacity="0.6" stroke-opacity="0.6"/>
<circle cx="1287.8" cy="430.7" r="4.1" fill="#d9dce1" fill-opacity="0.6" stroke-opacity="0.6"/>
<circle cx="1297.6" cy="430.7" r="4.1" fill="#4a63d3" fill-opacity="0.6" stroke-opacity="0.6"/>
<circle cx="1279.3" cy="436.8" r="4.1" fill="#4a63d3" fill-opacity="0.6" stroke-opacity="0.6"/>
<circle cx="1273.8" cy="439.3" r="4.1" fill="#4a63d3" fill-opacity="0.6" stroke-opacity="0.6"/>
<circle cx="1292.7" cy="438" r="4.1" fill="#688aef" fill-opacity="0.6" stroke-opacity="0.6"/>
<circle cx="1285.4" cy="439.3" r="4.1" fill="#d9dce1" fill-opacity="0.6" stroke-opacity="0.6"/>
<circle cx="1291.5" cy="444.2" r="4.1" fill="#bcd2f7" fill-opacity="0.6" stroke-opacity="0.6"/>
<circle cx="1298.9" cy="441.7" r="4.1" fill="#edd1c2" fill-opacity="0.6" stroke-opacity="0.6"/>
<circle cx="1306.2" cy="435.6" r="4.1" fill="#edd1c2" fill-opacity="0.6" stroke-opacity="0.6"/>
<circle cx="1306.2" cy="440.5" r="4.1" fill="#edd1c2" fill-opacity="0.6" stroke-opacity="0.6"/>
<circle cx="1287.2" cy="447.2" r="4.1" fill="#e9785d" fill-opacity="0.6" stroke-opacity="0.6"/>
<circle cx="1306.2" cy="449.7" r="4.1" fill="#edd1c2" fill-opacity="0.6" stroke-opacity="0.6"/>
<circle cx="1308.6" cy="452.7" r="4.1" fill="#4a63d3" fill-opacity="0.6" stroke-opacity="0.6"/>
<circle cx="1273.2" cy="444.8" r="4.1" fill="#688aef" fill-opacity="0.6" stroke-opacity="0.6"/>
<circle cx="1276.8" cy="447.8" r="4.1" fill="#688aef" fill-opacity="0.6" stroke-opacity="0.6"/>
<circle cx="1274.4" cy="451.5" r="4.1" fill="#688aef" fill-opacity="0.6" stroke-opacity="0.6"/>
<circle cx="1279.3" cy="454" r="4.1" fill="#688aef" fill-opacity="0.6" stroke-opacity="0.6"/>
<circle cx="1280.5" cy="458.2" r="4.1" fill="#688aef" fill-opacity="0.6" stroke-opacity="0.6"/>
<circle cx="1284.8" cy="455.2" r="4.1" fill="#688aef" fill-opacity="0.6" stroke-opacity="0.6"/>
<circle cx="1287.8" cy="458.9" r="4.1" fill="#4a63d3" fill-opacity="0.6" stroke-opacity="0.6"/>
<circle cx="1294" cy="453.3" r="4.1" fill="#4a63d3" fill-opacity="0.6" stroke-opacity="0.6"/>
<circle cx="1298.2" cy="457" r="4.1" fill="#4a63d3" fill-opacity="0.6" stroke-opacity="0.6"/>
<circle cx="1297" cy="462.5" r="4.1" fill="#688aef" fill-opacity="0.6" stroke-opacity="0.6"/>
<circle cx="1292.7" cy="460.1" r="4.1" fill="#688aef" fill-opacity="0.6" stroke-opacity="0.6"/>
<circle cx="1271.3" cy="463.1" r="4.1" fill="#4a63d3" fill-opacity="0.6" stroke-opacity="0.6"/>
<circle cx="1276.2" cy="466.2" r="4.1" fill="#4a63d3" fill-opacity="0.6" stroke-opacity="0.6"/>
<circle cx="1272.5" cy="469.9" r="4.1" fill="#4a63d3" fill-opacity="0.6" stroke-opacity="0.6"/>
<circle cx="1281.7" cy="471.1" r="4.1" fill="#688aef" fill-opacity="0.6" stroke-opacity="0.6"/>
<circle cx="1287.8" cy="468.6" r="4.1" fill="#4a63d3" fill-opacity="0.6" stroke-opacity="0.6"/>
<circle cx="1295.2" cy="468.6" r="4.1" fill="#9dbdff" fill-opacity="0.6" stroke-opacity="0.6"/>
<circle cx="1300.7" cy="468" r="4.1" fill="#9dbdff" fill-opacity="0.6" stroke-opacity="0.6"/>
<circle cx="1305" cy="472.3" r="4.1" fill="#4a63d3" fill-opacity="0.6" stroke-opacity="0.6"/>
<circle cx="1309.3" cy="474.8" r="4.1" fill="#4a63d3" fill-opacity="0.6" stroke-opacity="0.6"/>
<circle cx="1314.8" cy="474.2" r="4.1" fill="#9dbdff" fill-opacity="0.6" stroke-opacity="0.6"/>
<circle cx="1314.8" cy="478.4" r="4.1" fill="#9dbdff" fill-opacity="0.6" stroke-opacity="0.6"/>
<circle cx="1293.3" cy="475.4" r="4.1" fill="#688aef" fill-opacity="0.6" stroke-opacity="0.6"/>
<circle cx="1288.5" cy="472.9" r="4.1" fill="#e9785d" fill-opacity="0.6" stroke-opacity="0.6"/>
<circle cx="1276.8" cy="478.4" r="4.1" fill="#4a63d3" fill-opacity="0.6" stroke-opacity="0.6"/>
<circle cx="1269.5" cy="475.4" r="4.1" fill="#4a63d3" fill-opacity="0.6" stroke-opacity="0.6"/>
<circle cx="1268.3" cy="481.5" r="4.1" fill="#4a63d3" fill-opacity="0.6" stroke-opacity="0.6"/>
<circle cx="1272.5" cy="483.3" r="4.1" fill="#4a63d3" fill-opacity="0.6" stroke-opacity="0.6"/>
<circle cx="1295.2" cy="484.6" r="4.1" fill="#688aef" fill-opacity="0.6" stroke-opacity="0.6"/>
<circle cx="1260.3" cy="423.4" r="4.1" fill="#9dbdff" fill-opacity="0.6" stroke-opacity="0.6"/>
<circle cx="1260.3" cy="434.4" r="4.1" fill="#bcd2f7" fill-opacity="0.6" stroke-opacity="0.6"/>
<circle cx="1259.7" cy="440.5" r="4.1" fill="#bcd2f7" fill-opacity="0.6" stroke-opacity="0.6"/>
<circle cx="1259.7" cy="446.6" r="4.1" fill="#bcd2f7" fill-opacity="0.6" stroke-opacity="0.6"/>
<circle cx="1259.1" cy="458.9" r="4.1" fill="#bcd2f7" fill-opacity="0.6" stroke-opacity="0.6"/>
<circle cx="1259.1" cy="468" r="4.1" fill="#bcd2f7" fill-opacity="0.6" stroke-opacity="0.6"/>
<circle cx="1259.1" cy="475.4" r="4.1" fill="#bcd2f7" fill-opacity="0.6" stroke-opacity="0.6"/>
<circle cx="1257.2" cy="483.3" r="4.1" fill="#9dbdff" fill-opacity="0.6" stroke-opacity="0.6"/>
<circle cx="1442.4" cy="211" r="4.1" fill="#e9785d" fill-opacity="0.6" stroke-opacity="0.6"/>
</g>
<polyline points="1246.8,561.8 1251,579.5 1256.9,556.8 1260.3,523.1 1261.9,481 1263.6,450.7 1265.3,427.1 1268.7,420.4 1273.7,415.4 1278.8,422.1 1280.5,410.3 1283,393.5 1285.5,386.7 1288.9,393.5 1293.1,398.5 1294.8,403.6 1298.1,398.5 1299.6,400.7 1305.3,399.6 1308.8,381.2 1312.2,364 1314.5,349.1 1317.4,350.2 1319.7,348.5 1321.4,353.7 1326,352.5 1329.4,345.7 1332.9,342.2 1337.5,333 1340.3,339.9 1343.2,335.3 1347.8,327.3 1351.8,319.3 1357,313.5 1361,304.3 1365,306.6 1368.4,313.5 1371.3,307.8 1374.2,312.4 1378.2,314.7 1381.1,305.5 1383.4,294 1386.8,294 1391.4,289.4 1393.7,283.7 1397.7,279.1 1402.9,272.2 1416.6,267.6 1418.9,263 1423.5,259.6 1430.4,255 1432.2,253.6 1439.6,244.5 1446.9,240.8 1450.6,237.1 1454.2,226.1 1459.7,223.4 1463.4,211.4 1468.9,206.8 1480,204.1 1483.6,200.4 1491,195.8 1502,186.6 1511.2,183.9 1535,179.3 1560,178.6 1600,179.4 1720,179.6 1765,179.8 1790,180.1" fill="none" stroke="#0000ff" stroke-width="4.2" stroke-linejoin="round" stroke-linecap="round"/>
<polyline points="1247.6,563.5 1251,578.6 1253.5,573.6 1255.2,556.8 1257.7,531.5 1260.3,501.2 1262.8,481 1264.5,455.8 1266.1,435.6 1267.8,425.5 1271.2,418.7 1274.6,415.4 1280.5,412.8 1285.5,410.3 1288.9,406.9 1292.2,399.4 1295,397.3 1299.6,388.1 1304.2,385.8 1307.6,382.4 1314.5,380.1 1318,373.2 1324.8,369.8 1329.4,365.2 1332.9,361.7 1338.6,358.3 1340.9,352.5 1343.2,344.5 1347.8,339.9 1354.7,335.3 1361.6,334.2 1365,328.4 1368.4,325 1375.3,321.6 1383.4,315.8 1398.3,313.5 1410.9,311.8 1421.2,305.5 1435,303.2 1443.2,301.4 1454.2,299.9 1461.6,296.2 1472.6,295 1480,293.1 1483.6,290.4 1494.6,286.7 1500.1,284.9 1509.3,283 1529.5,282.1 1560,281.6 1616.5,280.1 1693,279 1728.2,279 1761.8,275.8" fill="none" stroke="#ff0000" stroke-width="4.2" stroke-linejoin="round" stroke-linecap="round"/>
<rect x="1237.6" y="83.8" width="354.4" height="103.9" rx="7" ry="7" fill="#ffffff" fill-opacity="0.8" stroke="#d6d6d6" stroke-width="1.5"/>
<line x1="1251" y1="109" x2="1317.3" y2="109" stroke="#0000ff" stroke-width="3.6" stroke-linecap="round"/>
<line x1="1251" y1="156.5" x2="1317.3" y2="156.5" stroke="#ff0000" stroke-width="3.6" stroke-linecap="round"/>
<text x="1345" y="121" font-family="'Liberation Sans', Arial, sans-serif" font-size="33.2" text-anchor="start" fill="#262626">AWI &lt; 650 USD</text>
<text x="1345" y="168.5" font-family="'Liberation Sans', Arial, sans-serif" font-size="33.2" text-anchor="start" fill="#262626">AWI &gt; 650 USD</text>
<text x="1248.5" y="682.8" font-family="'Liberation Sans', Arial, sans-serif" font-size="33.2" text-anchor="middle" fill="#262626">0</text>
<text x="1407" y="682.8" font-family="'Liberation Sans', Arial, sans-serif" font-size="33.2" text-anchor="middle" fill="#262626">1</text>
<text x="1565.4" y="682.8" font-family="'Liberation Sans', Arial, sans-serif" font-size="33.2" text-anchor="middle" fill="#262626">2</text>
<text x="1723.8" y="682.8" font-family="'Liberation Sans', Arial, sans-serif" font-size="33.2" text-anchor="middle" fill="#262626">3</text>
<text x="1207" y="567.8" font-family="'Liberation Sans', Arial, sans-serif" font-size="33.2" text-anchor="end" fill="#262626">0.0</text>
<text x="1207" y="439" font-family="'Liberation Sans', Arial, sans-serif" font-size="33.2" text-anchor="end" fill="#262626">0.2</text>
<text x="1207" y="310.2" font-family="'Liberation Sans', Arial, sans-serif" font-size="33.2" text-anchor="end" fill="#262626">0.4</text>
<text x="1207" y="181.4" font-family="'Liberation Sans', Arial, sans-serif" font-size="33.2" text-anchor="end" fill="#262626">0.6</text>
<text x="1447.6" y="726" font-family="'Liberation Sans', Arial, sans-serif" font-size="33.2" fill="#262626">area [</text>
<text x="1532.6" y="726" font-family="'DejaVu Sans', sans-serif" font-style="oblique" font-size="33.2" fill="#262626">m</text>
<text x="1566.6" y="713.2" font-family="'DejaVu Sans', sans-serif" font-size="23.2" fill="#262626">2</text>
<text x="1582.4" y="726" font-family="'Liberation Sans', Arial, sans-serif" font-size="33.2" fill="#262626">]</text>
<text x="1816.5" y="717.4" font-family="'Liberation Sans', Arial, sans-serif" font-size="33.2" text-anchor="end" fill="#262626">1e11</text>
<text transform="translate(1148.6,357.2) rotate(-90)" font-family="'Liberation Sans', Arial, sans-serif" font-size="33.2" text-anchor="middle" fill="#262626">Shapley values</text>
<defs><linearGradient id="cbB" x1="0" y1="1" x2="0" y2="0"><stop offset="0.0000" stop-color="#3b4cc0"/><stop offset="0.0312" stop-color="#445acc"/><stop offset="0.0625" stop-color="#4e68d8"/><stop offset="0.0938" stop-color="#5875e1"/><stop offset="0.1250" stop-color="#6282ea"/><stop offset="0.1562" stop-color="#6c8ff1"/><stop offset="0.1875" stop-color="#779af7"/><stop offset="0.2188" stop-color="#82a6fb"/><stop offset="0.2500" stop-color="#8db0fe"/><stop offset="0.2812" stop-color="#98b9ff"/><stop offset="0.3125" stop-color="#a3c2fe"/><stop offset="0.3438" stop-color="#aec9fc"/><stop offset="0.3750" stop-color="#b9d0f9"/><stop offset="0.4062" stop-color="#c3d5f4"/><stop offset="0.4375" stop-color="#ccd9ed"/><stop offset="0.4688" stop-color="#d5dbe5"/><stop offset="0.5000" stop-color="#dddcdc"/><stop offset="0.5312" stop-color="#e5d8d1"/><stop offset="0.5625" stop-color="#ecd3c5"/><stop offset="0.5938" stop-color="#f1ccb8"/><stop offset="0.6250" stop-color="#f5c4ac"/><stop offset="0.6562" stop-color="#f7ba9f"/><stop offset="0.6875" stop-color="#f7b093"/><stop offset="0.7188" stop-color="#f6a586"/><stop offset="0.7500" stop-color="#f4987a"/><stop offset="0.7812" stop-color="#f08b6e"/><stop offset="0.8125" stop-color="#eb7d62"/><stop offset="0.8438" stop-color="#e46e56"/><stop offset="0.8750" stop-color="#dd5f4b"/><stop offset="0.9062" stop-color="#d44e41"/><stop offset="0.9375" stop-color="#ca3b37"/><stop offset="0.9688" stop-color="#be242e"/><stop offset="1.0000" stop-color="#b40426"/></linearGradient></defs>
<rect x="1824.6" y="67.5" width="45.2" height="578.9" fill="url(#cbB)" stroke="#d6d6d6" stroke-width="1.1"/>
<line x1="1870" y1="564.6" x2="1876.5" y2="564.6" stroke="#444" stroke-width="1.4"/>
<text x="1881.1" y="576.5" font-family="'Liberation Sans', Arial, sans-serif" font-size="33.2" text-anchor="start" fill="#262626">250</text>
<line x1="1870" y1="481.2" x2="1876.5" y2="481.2" stroke="#444" stroke-width="1.4"/>
<text x="1881.1" y="493.1" font-family="'Liberation Sans', Arial, sans-serif" font-size="33.2" text-anchor="start" fill="#262626">500</text>
<line x1="1870" y1="397.9" x2="1876.5" y2="397.9" stroke="#444" stroke-width="1.4"/>
<text x="1881.1" y="409.8" font-family="'Liberation Sans', Arial, sans-serif" font-size="33.2" text-anchor="start" fill="#262626">750</text>
<line x1="1870" y1="314.5" x2="1876.5" y2="314.5" stroke="#444" stroke-width="1.4"/>
<text x="1881.1" y="326.4" font-family="'Liberation Sans', Arial, sans-serif" font-size="33.2" text-anchor="start" fill="#262626">1000</text>
<line x1="1870" y1="231.2" x2="1876.5" y2="231.2" stroke="#444" stroke-width="1.4"/>
<text x="1881.1" y="243.1" font-family="'Liberation Sans', Arial, sans-serif" font-size="33.2" text-anchor="start" fill="#262626">1250</text>
<line x1="1870" y1="147.8" x2="1876.5" y2="147.8" stroke="#444" stroke-width="1.4"/>
<text x="1881.1" y="159.7" font-family="'Liberation Sans', Arial, sans-serif" font-size="33.2" text-anchor="start" fill="#262626">1500</text>
<text transform="translate(1973.6,357) rotate(90)" font-family="'Liberation Sans', Arial, sans-serif" font-size="33.2" text-anchor="middle" fill="#262626">AWI</text>
<rect x="672.2" y="794.4" width="62.4" height="71.8" fill="#3274a1" stroke="#404040" stroke-width="2.0"/>
<rect x="520.1" y="884.1" width="97.5" height="71.8" fill="#e1812c" stroke="#404040" stroke-width="2.0"/>
<rect x="635.1" y="973.8" width="67.9" height="71.8" fill="#3a923a" stroke="#404040" stroke-width="2.0"/>
<rect x="588" y="1063.5" width="36.6" height="71.8" fill="#c03d3e" stroke="#404040" stroke-width="2.0"/>
<rect x="653.9" y="1153.2" width="49.9" height="71.8" fill="#9372b2" stroke="#404040" stroke-width="2.0"/>
<line x1="315.7" y1="785.6" x2="315.7" y2="1233.5" stroke="#bababa" stroke-width="1.5"/>
<line x1="471.7" y1="785.6" x2="471.7" y2="1233.5" stroke="#bababa" stroke-width="1.5"/>
<line x1="627.7" y1="785.6" x2="627.7" y2="1233.5" stroke="#bababa" stroke-width="1.5"/>
<line x1="783.7" y1="785.6" x2="783.7" y2="1233.5" stroke="#bababa" stroke-width="1.5"/>
<line x1="939.7" y1="785.6" x2="939.7" y2="1233.5" stroke="#bababa" stroke-width="1.5"/>
<line x1="182.2" y1="830.3" x2="948.8" y2="830.3" stroke="#bababa" stroke-width="1.5"/>
<line x1="182.2" y1="920" x2="948.8" y2="920" stroke="#bababa" stroke-width="1.5"/>
<line x1="182.2" y1="1009.7" x2="948.8" y2="1009.7" stroke="#bababa" stroke-width="1.5"/>
<line x1="182.2" y1="1099.4" x2="948.8" y2="1099.4" stroke="#bababa" stroke-width="1.5"/>
<line x1="182.2" y1="1189.1" x2="948.8" y2="1189.1" stroke="#bababa" stroke-width="1.5"/>
<line x1="582.1" y1="830.3" x2="672.2" y2="830.3" stroke="#404040" stroke-width="2.4"/>
<line x1="734.6" y1="830.3" x2="826.6" y2="830.3" stroke="#404040" stroke-width="2.4"/>
<line x1="582.1" y1="811.6" x2="582.1" y2="849" stroke="#404040" stroke-width="2.4"/>
<line x1="826.6" y1="811.6" x2="826.6" y2="849" stroke="#404040" stroke-width="2.4"/>
<line x1="699.5" y1="794.4" x2="699.5" y2="866.2" stroke="#404040" stroke-width="2.4"/>
<path d="M556,824.2L559.8,830.3L556,836.4L552.2,830.3ZM567.3,824.2L571,830.3L567.3,836.4L563.5,830.3ZM569.2,824.2L573,830.3L569.2,836.4L565.5,830.3ZM571.2,824.2L575,830.3L571.2,836.4L567.5,830.3ZM573.9,824.2L577.6,830.3L573.9,836.4L570.1,830.3ZM577,824.2L580.8,830.3L577,836.4L573.2,830.3ZM829,824.2L832.8,830.3L829,836.4L825.2,830.3ZM831.8,824.2L835.5,830.3L831.8,836.4L828,830.3ZM834.6,824.2L838.4,830.3L834.6,836.4L830.9,830.3ZM837.4,824.2L841.1,830.3L837.4,836.4L833.6,830.3ZM840.2,824.2L844,830.3L840.2,836.4L836.5,830.3ZM843,824.2L846.8,830.3L843,836.4L839.2,830.3ZM854.7,824.2L858.5,830.3L854.7,836.4L851,830.3ZM858.6,824.2L862.4,830.3L858.6,836.4L854.9,830.3ZM861.7,824.2L865.5,830.3L861.7,836.4L858,830.3ZM872.3,824.2L876,830.3L872.3,836.4L868.5,830.3ZM885.9,824.2L889.6,830.3L885.9,836.4L882.1,830.3Z" fill="#3d3d3d"/>
<line x1="376.2" y1="920" x2="520.1" y2="920" stroke="#404040" stroke-width="2.4"/>
<line x1="617.6" y1="920" x2="756.4" y2="920" stroke="#404040" stroke-width="2.4"/>
<line x1="376.2" y1="901.3" x2="376.2" y2="938.7" stroke="#404040" stroke-width="2.4"/>
<line x1="756.4" y1="901.3" x2="756.4" y2="938.7" stroke="#404040" stroke-width="2.4"/>
<line x1="573.1" y1="884.1" x2="573.1" y2="955.9" stroke="#404040" stroke-width="2.4"/>
<path d="M217.2,913.9L220.9,920L217.2,926.1L213.4,920ZM300,913.9L303.8,920L300,926.1L296.2,920ZM307.2,913.9L310.9,920L307.2,926.1L303.4,920ZM312.5,913.9L316.2,920L312.5,926.1L308.8,920ZM340.5,913.9L344.2,920L340.5,926.1L336.8,920ZM352.7,913.9L356.4,920L352.7,926.1L348.9,920ZM372.5,913.9L376.2,920L372.5,926.1L368.8,920ZM374.5,913.9L378.2,920L374.5,926.1L370.8,920ZM772.8,913.9L776.5,920L772.8,926.1L769,920ZM796.2,913.9L800,920L796.2,926.1L792.5,920ZM865.3,913.9L869,920L865.3,926.1L861.5,920ZM913.2,913.9L917,920L913.2,926.1L909.5,920Z" fill="#3d3d3d"/>
<line x1="538" y1="1009.7" x2="635.1" y2="1009.7" stroke="#404040" stroke-width="2.4"/>
<line x1="703" y1="1009.7" x2="804" y2="1009.7" stroke="#404040" stroke-width="2.4"/>
<line x1="538" y1="991" x2="538" y2="1028.4" stroke="#404040" stroke-width="2.4"/>
<line x1="804" y1="991" x2="804" y2="1028.4" stroke="#404040" stroke-width="2.4"/>
<line x1="667.1" y1="973.8" x2="667.1" y2="1045.6" stroke="#404040" stroke-width="2.4"/>
<path d="M453,1003.6L456.8,1009.7L453,1015.8L449.2,1009.7ZM497.9,1003.6L501.6,1009.7L497.9,1015.8L494.1,1009.7ZM500.5,1003.6L504.2,1009.7L500.5,1015.8L496.8,1009.7ZM503.7,1003.6L507.4,1009.7L503.7,1015.8L499.9,1009.7ZM510.7,1003.6L514.5,1009.7L510.7,1015.8L506.9,1009.7ZM515.4,1003.6L519.1,1009.7L515.4,1015.8L511.6,1009.7ZM521.3,1003.6L525,1009.7L521.3,1015.8L517.5,1009.7ZM523.2,1003.6L527,1009.7L523.2,1015.8L519.5,1009.7ZM525.1,1003.6L528.9,1009.7L525.1,1015.8L521.4,1009.7ZM527.1,1003.6L530.8,1009.7L527.1,1015.8L523.3,1009.7ZM529,1003.6L532.8,1009.7L529,1015.8L525.2,1009.7ZM533,1003.6L536.8,1009.7L533,1015.8L529.2,1009.7ZM806,1003.6L809.8,1009.7L806,1015.8L802.2,1009.7ZM808.8,1003.6L812.5,1009.7L808.8,1015.8L805,1009.7ZM811.6,1003.6L815.3,1009.7L811.6,1015.8L807.8,1009.7ZM814.4,1003.6L818.1,1009.7L814.4,1015.8L810.6,1009.7ZM817.1,1003.6L820.9,1009.7L817.1,1015.8L813.4,1009.7ZM819.9,1003.6L823.7,1009.7L819.9,1015.8L816.2,1009.7ZM822.7,1003.6L826.5,1009.7L822.7,1015.8L819,1009.7ZM825.5,1003.6L829.2,1009.7L825.5,1015.8L821.8,1009.7ZM831,1003.6L834.8,1009.7L831,1015.8L827.2,1009.7ZM834.3,1003.6L838.1,1009.7L834.3,1015.8L830.6,1009.7ZM837.7,1003.6L841.4,1009.7L837.7,1015.8L833.9,1009.7ZM841,1003.6L844.8,1009.7L841,1015.8L837.2,1009.7ZM844.3,1003.6L848.1,1009.7L844.3,1015.8L840.6,1009.7ZM847.7,1003.6L851.4,1009.7L847.7,1015.8L843.9,1009.7ZM851,1003.6L854.8,1009.7L851,1015.8L847.2,1009.7ZM860.6,1003.6L864.4,1009.7L860.6,1015.8L856.9,1009.7ZM873,1003.6L876.8,1009.7L873,1015.8L869.2,1009.7ZM891.8,1003.6L895.5,1009.7L891.8,1015.8L888,1009.7ZM914,1003.6L917.8,1009.7L914,1015.8L910.2,1009.7Z" fill="#3d3d3d"/>
<line x1="534.1" y1="1099.4" x2="588" y2="1099.4" stroke="#404040" stroke-width="2.4"/>
<line x1="624.6" y1="1099.4" x2="678" y2="1099.4" stroke="#404040" stroke-width="2.4"/>
<line x1="534.1" y1="1080.7" x2="534.1" y2="1118.1" stroke="#404040" stroke-width="2.4"/>
<line x1="678" y1="1080.7" x2="678" y2="1118.1" stroke="#404040" stroke-width="2.4"/>
<line x1="607" y1="1063.5" x2="607" y2="1135.3" stroke="#404040" stroke-width="2.4"/>
<path d="M456.5,1093.3L460.2,1099.4L456.5,1105.5L452.8,1099.4ZM470.6,1093.3L474.4,1099.4L470.6,1105.5L466.9,1099.4ZM475.2,1093.3L478.9,1099.4L475.2,1105.5L471.4,1099.4ZM494,1093.3L497.8,1099.4L494,1105.5L490.2,1099.4ZM497,1093.3L500.8,1099.4L497,1105.5L493.2,1099.4ZM500,1093.3L503.8,1099.4L500,1105.5L496.2,1099.4ZM503,1093.3L506.8,1099.4L503,1105.5L499.2,1099.4ZM506,1093.3L509.8,1099.4L506,1105.5L502.2,1099.4ZM509,1093.3L512.8,1099.4L509,1105.5L505.2,1099.4ZM512,1093.3L515.8,1099.4L512,1105.5L508.2,1099.4ZM515,1093.3L518.8,1099.4L515,1105.5L511.2,1099.4ZM518,1093.3L521.8,1099.4L518,1105.5L514.2,1099.4ZM521,1093.3L524.8,1099.4L521,1105.5L517.2,1099.4ZM524,1093.3L527.8,1099.4L524,1105.5L520.2,1099.4ZM527,1093.3L530.8,1099.4L527,1105.5L523.2,1099.4ZM530,1093.3L533.8,1099.4L530,1105.5L526.2,1099.4ZM533,1093.3L536.8,1099.4L533,1105.5L529.2,1099.4ZM680,1093.3L683.8,1099.4L680,1105.5L676.2,1099.4ZM687,1093.3L690.8,1099.4L687,1105.5L683.2,1099.4ZM692.9,1093.3L696.6,1099.4L692.9,1105.5L689.1,1099.4Z" fill="#3d3d3d"/>
<line x1="579.8" y1="1189.1" x2="653.9" y2="1189.1" stroke="#404040" stroke-width="2.4"/>
<line x1="703.8" y1="1189.1" x2="777.9" y2="1189.1" stroke="#404040" stroke-width="2.4"/>
<line x1="579.8" y1="1170.4" x2="579.8" y2="1207.8" stroke="#404040" stroke-width="2.4"/>
<line x1="777.9" y1="1170.4" x2="777.9" y2="1207.8" stroke="#404040" stroke-width="2.4"/>
<line x1="680.8" y1="1153.2" x2="680.8" y2="1225" stroke="#404040" stroke-width="2.4"/>
<path d="M458.9,1183L462.6,1189.1L458.9,1195.2L455.1,1189.1ZM472.5,1183L476.2,1189.1L472.5,1195.2L468.8,1189.1ZM480.3,1183L484.1,1189.1L480.3,1195.2L476.6,1189.1ZM493.2,1183L496.9,1189.1L493.2,1195.2L489.4,1189.1ZM499.8,1183L503.6,1189.1L499.8,1195.2L496.1,1189.1ZM502.7,1183L506.5,1189.1L502.7,1195.2L499,1189.1ZM505.6,1183L509.4,1189.1L505.6,1195.2L501.9,1189.1ZM508.6,1183L512.3,1189.1L508.6,1195.2L504.8,1189.1ZM511.5,1183L515.2,1189.1L511.5,1195.2L507.8,1189.1ZM519.3,1183L523,1189.1L519.3,1195.2L515.5,1189.1ZM533,1183L536.8,1189.1L533,1195.2L529.2,1189.1ZM536,1183L539.8,1189.1L536,1195.2L532.2,1189.1ZM539,1183L542.8,1189.1L539,1195.2L535.2,1189.1ZM542,1183L545.8,1189.1L542,1195.2L538.2,1189.1ZM545,1183L548.8,1189.1L545,1195.2L541.2,1189.1ZM548,1183L551.8,1189.1L548,1195.2L544.2,1189.1ZM551,1183L554.8,1189.1L551,1195.2L547.2,1189.1ZM554,1183L557.8,1189.1L554,1195.2L550.2,1189.1ZM557,1183L560.8,1189.1L557,1195.2L553.2,1189.1ZM560,1183L563.8,1189.1L560,1195.2L556.2,1189.1ZM563,1183L566.8,1189.1L563,1195.2L559.2,1189.1ZM566,1183L569.8,1189.1L566,1195.2L562.2,1189.1ZM569,1183L572.8,1189.1L569,1195.2L565.2,1189.1ZM572,1183L575.8,1189.1L572,1195.2L568.2,1189.1ZM575,1183L578.8,1189.1L575,1195.2L571.2,1189.1ZM578,1183L581.8,1189.1L578,1195.2L574.2,1189.1ZM778.7,1183L782.5,1189.1L778.7,1195.2L775,1189.1ZM781.6,1183L785.4,1189.1L781.6,1195.2L777.9,1189.1ZM784.5,1183L788.3,1189.1L784.5,1195.2L780.8,1189.1ZM787.4,1183L791.2,1189.1L787.4,1195.2L783.7,1189.1ZM790.4,1183L794.1,1189.1L790.4,1195.2L786.6,1189.1ZM793.3,1183L797,1189.1L793.3,1195.2L789.5,1189.1ZM796.2,1183L799.9,1189.1L796.2,1195.2L792.4,1189.1ZM799.1,1183L802.8,1189.1L799.1,1195.2L795.3,1189.1ZM802,1183L805.8,1189.1L802,1195.2L798.2,1189.1ZM808,1183L811.8,1189.1L808,1195.2L804.2,1189.1ZM811.9,1183L815.6,1189.1L811.9,1195.2L808.1,1189.1ZM815.7,1183L819.5,1189.1L815.7,1195.2L812,1189.1ZM825.5,1183L829.2,1189.1L825.5,1195.2L821.8,1189.1ZM837.2,1183L841,1189.1L837.2,1195.2L833.5,1189.1ZM847.7,1183L851.5,1189.1L847.7,1195.2L844,1189.1ZM882,1183L885.8,1189.1L882,1195.2L878.2,1189.1ZM886,1183L889.8,1189.1L886,1195.2L882.2,1189.1Z" fill="#3d3d3d"/>
<rect x="182.2" y="785.6" width="766.6" height="447.9" fill="none" stroke="#2e2e2e" stroke-width="1.6"/>
<line x1="315.7" y1="1233.5" x2="315.7" y2="1238.5" stroke="#2e2e2e" stroke-width="1.5"/>
<text x="315.7" y="1264.6" font-family="'DejaVu Sans', sans-serif" font-size="27.8" text-anchor="middle" fill="#000">−1.0</text>
<line x1="471.7" y1="1233.5" x2="471.7" y2="1238.5" stroke="#2e2e2e" stroke-width="1.5"/>
<text x="471.7" y="1264.6" font-family="'DejaVu Sans', sans-serif" font-size="27.8" text-anchor="middle" fill="#000">−0.5</text>
<line x1="627.7" y1="1233.5" x2="627.7" y2="1238.5" stroke="#2e2e2e" stroke-width="1.5"/>
<text x="627.7" y="1264.6" font-family="'DejaVu Sans', sans-serif" font-size="27.8" text-anchor="middle" fill="#000">0.0</text>
<line x1="783.7" y1="1233.5" x2="783.7" y2="1238.5" stroke="#2e2e2e" stroke-width="1.5"/>
<text x="783.7" y="1264.6" font-family="'DejaVu Sans', sans-serif" font-size="27.8" text-anchor="middle" fill="#000">0.5</text>
<line x1="939.7" y1="1233.5" x2="939.7" y2="1238.5" stroke="#2e2e2e" stroke-width="1.5"/>
<text x="939.7" y="1264.6" font-family="'DejaVu Sans', sans-serif" font-size="27.8" text-anchor="middle" fill="#000">1.0</text>
<line x1="177.2" y1="830.3" x2="182.2" y2="830.3" stroke="#2e2e2e" stroke-width="1.5"/>
<text x="172.9" y="841" font-family="'DejaVu Sans', sans-serif" font-size="27.8" text-anchor="end" fill="#000">Precipitation</text>
<line x1="177.2" y1="920" x2="182.2" y2="920" stroke="#2e2e2e" stroke-width="1.5"/>
<text x="172.9" y="930.7" font-family="'DejaVu Sans', sans-serif" font-size="27.8" text-anchor="end" fill="#000">AWI</text>
<line x1="177.2" y1="1009.7" x2="182.2" y2="1009.7" stroke="#2e2e2e" stroke-width="1.5"/>
<text x="172.9" y="1020.4" font-family="'DejaVu Sans', sans-serif" font-size="27.8" text-anchor="end" fill="#000">Population</text>
<line x1="177.2" y1="1099.4" x2="182.2" y2="1099.4" stroke="#2e2e2e" stroke-width="1.5"/>
<text x="172.9" y="1110.1" font-family="'DejaVu Sans', sans-serif" font-size="27.8" text-anchor="end" fill="#000">Elevation</text>
<line x1="177.2" y1="1189.1" x2="182.2" y2="1189.1" stroke="#2e2e2e" stroke-width="1.5"/>
<text x="172.9" y="1199.8" font-family="'DejaVu Sans', sans-serif" font-size="27.8" text-anchor="end" fill="#000">%AgriLand</text>
<text x="566" y="1296.6" font-family="'DejaVu Sans', sans-serif" font-size="27.5" text-anchor="middle" fill="#000">Average Causal Effect</text>
<rect x="1520.4" y="792.8" width="56.8" height="60" fill="#3274a1" stroke="#404040" stroke-width="2.0"/>
<rect x="1533.2" y="867.8" width="42" height="60" fill="#e1812c" stroke="#404040" stroke-width="2.0"/>
<rect x="1538.4" y="942.8" width="86.8" height="60" fill="#3a923a" stroke="#404040" stroke-width="2.0"/>
<rect x="1479.2" y="1017.8" width="85.6" height="60" fill="#c03d3e" stroke="#404040" stroke-width="2.0"/>
<rect x="1484.8" y="1092.8" width="47.2" height="60" fill="#9372b2" stroke="#404040" stroke-width="2.0"/>
<rect x="1536" y="1167.8" width="64.4" height="60" fill="#845b53" stroke="#404040" stroke-width="2.0"/>
<line x1="1206.8" y1="785.6" x2="1206.8" y2="1234" stroke="#bababa" stroke-width="1.5"/>
<line x1="1312" y1="785.6" x2="1312" y2="1234" stroke="#bababa" stroke-width="1.5"/>
<line x1="1417.2" y1="785.6" x2="1417.2" y2="1234" stroke="#bababa" stroke-width="1.5"/>
<line x1="1522.4" y1="785.6" x2="1522.4" y2="1234" stroke="#bababa" stroke-width="1.5"/>
<line x1="1627.6" y1="785.6" x2="1627.6" y2="1234" stroke="#bababa" stroke-width="1.5"/>
<line x1="1732.8" y1="785.6" x2="1732.8" y2="1234" stroke="#bababa" stroke-width="1.5"/>
<line x1="1838" y1="785.6" x2="1838" y2="1234" stroke="#bababa" stroke-width="1.5"/>
<line x1="1943.2" y1="785.6" x2="1943.2" y2="1234" stroke="#bababa" stroke-width="1.5"/>
<line x1="1192.5" y1="822.8" x2="1961.2" y2="822.8" stroke="#bababa" stroke-width="1.5"/>
<line x1="1192.5" y1="897.8" x2="1961.2" y2="897.8" stroke="#bababa" stroke-width="1.5"/>
<line x1="1192.5" y1="972.8" x2="1961.2" y2="972.8" stroke="#bababa" stroke-width="1.5"/>
<line x1="1192.5" y1="1047.8" x2="1961.2" y2="1047.8" stroke="#bababa" stroke-width="1.5"/>
<line x1="1192.5" y1="1122.8" x2="1961.2" y2="1122.8" stroke="#bababa" stroke-width="1.5"/>
<line x1="1192.5" y1="1197.8" x2="1961.2" y2="1197.8" stroke="#bababa" stroke-width="1.5"/>
<line x1="1434.8" y1="822.8" x2="1520.4" y2="822.8" stroke="#404040" stroke-width="2.4"/>
<line x1="1577.2" y1="822.8" x2="1662" y2="822.8" stroke="#404040" stroke-width="2.4"/>
<line x1="1434.8" y1="807.2" x2="1434.8" y2="838.4" stroke="#404040" stroke-width="2.4"/>
<line x1="1662" y1="807.2" x2="1662" y2="838.4" stroke="#404040" stroke-width="2.4"/>
<line x1="1548" y1="792.8" x2="1548" y2="852.8" stroke="#404040" stroke-width="2.4"/>
<path d="M1372,816.7L1375.8,822.8L1372,828.9L1368.2,822.8ZM1379,816.7L1382.8,822.8L1379,828.9L1375.2,822.8ZM1384,816.7L1387.8,822.8L1384,828.9L1380.2,822.8ZM1388,816.7L1391.8,822.8L1388,828.9L1384.2,822.8ZM1392,816.7L1395.8,822.8L1392,828.9L1388.2,822.8ZM1396,816.7L1399.8,822.8L1396,828.9L1392.2,822.8ZM1400,816.7L1403.8,822.8L1400,828.9L1396.2,822.8ZM1404,816.7L1407.8,822.8L1404,828.9L1400.2,822.8ZM1407,816.7L1410.8,822.8L1407,828.9L1403.2,822.8ZM1410,816.7L1413.8,822.8L1410,828.9L1406.2,822.8ZM1413,816.7L1416.8,822.8L1413,828.9L1409.2,822.8ZM1416,816.7L1419.8,822.8L1416,828.9L1412.2,822.8ZM1419,816.7L1422.8,822.8L1419,828.9L1415.2,822.8ZM1422,816.7L1425.8,822.8L1422,828.9L1418.2,822.8ZM1425,816.7L1428.8,822.8L1425,828.9L1421.2,822.8ZM1428,816.7L1431.8,822.8L1428,828.9L1424.2,822.8ZM1431,816.7L1434.8,822.8L1431,828.9L1427.2,822.8ZM1434,816.7L1437.8,822.8L1434,828.9L1430.2,822.8ZM1664,816.7L1667.8,822.8L1664,828.9L1660.2,822.8ZM1667.5,816.7L1671.2,822.8L1667.5,828.9L1663.7,822.8ZM1670.9,816.7L1674.7,822.8L1670.9,828.9L1667.2,822.8ZM1674.4,816.7L1678.2,822.8L1674.4,828.9L1670.7,822.8ZM1688,816.7L1691.8,822.8L1688,828.9L1684.2,822.8ZM1692,816.7L1695.8,822.8L1692,828.9L1688.2,822.8ZM1696,816.7L1699.8,822.8L1696,828.9L1692.2,822.8ZM1711.2,816.7L1715,822.8L1711.2,828.9L1707.5,822.8ZM1726,816.7L1729.8,822.8L1726,828.9L1722.2,822.8ZM1732,816.7L1735.8,822.8L1732,828.9L1728.2,822.8Z" fill="#3d3d3d"/>
<line x1="1470.8" y1="897.8" x2="1533.2" y2="897.8" stroke="#404040" stroke-width="2.4"/>
<line x1="1575.2" y1="897.8" x2="1637.2" y2="897.8" stroke="#404040" stroke-width="2.4"/>
<line x1="1470.8" y1="882.2" x2="1470.8" y2="913.4" stroke="#404040" stroke-width="2.4"/>
<line x1="1637.2" y1="882.2" x2="1637.2" y2="913.4" stroke="#404040" stroke-width="2.4"/>
<line x1="1552" y1="867.8" x2="1552" y2="927.8" stroke="#404040" stroke-width="2.4"/>
<path d="M1450,891.7L1453.8,897.8L1450,903.9L1446.2,897.8ZM1466.8,891.7L1470.5,897.8L1466.8,903.9L1463,897.8ZM1638,891.7L1641.8,897.8L1638,903.9L1634.2,897.8ZM1641.1,891.7L1644.8,897.8L1641.1,903.9L1637.3,897.8ZM1644.1,891.7L1647.9,897.8L1644.1,903.9L1640.4,897.8ZM1647.2,891.7L1651,897.8L1647.2,903.9L1643.5,897.8ZM1650.3,891.7L1654,897.8L1650.3,903.9L1646.5,897.8ZM1653.3,891.7L1657.1,897.8L1653.3,903.9L1649.6,897.8ZM1656.4,891.7L1660.2,897.8L1656.4,903.9L1652.7,897.8ZM1659.5,891.7L1663.2,897.8L1659.5,903.9L1655.7,897.8ZM1662.5,891.7L1666.3,897.8L1662.5,903.9L1658.8,897.8ZM1665.6,891.7L1669.3,897.8L1665.6,903.9L1661.8,897.8ZM1668.7,891.7L1672.4,897.8L1668.7,903.9L1664.9,897.8ZM1671.7,891.7L1675.5,897.8L1671.7,903.9L1668,897.8ZM1674.8,891.7L1678.5,897.8L1674.8,903.9L1671,897.8ZM1677.9,891.7L1681.6,897.8L1677.9,903.9L1674.1,897.8ZM1680.9,891.7L1684.7,897.8L1680.9,903.9L1677.2,897.8ZM1684,891.7L1687.8,897.8L1684,903.9L1680.2,897.8ZM1688,891.7L1691.8,897.8L1688,903.9L1684.2,897.8ZM1692,891.7L1695.8,897.8L1692,903.9L1688.2,897.8ZM1696,891.7L1699.8,897.8L1696,903.9L1692.2,897.8ZM1700,891.7L1703.8,897.8L1700,903.9L1696.2,897.8ZM1708,891.7L1711.8,897.8L1708,903.9L1704.2,897.8ZM1712,891.7L1715.8,897.8L1712,903.9L1708.2,897.8ZM1716,891.7L1719.8,897.8L1716,903.9L1712.2,897.8ZM1726,891.7L1729.8,897.8L1726,903.9L1722.2,897.8ZM1732,891.7L1735.8,897.8L1732,903.9L1728.2,897.8ZM1754,891.7L1757.8,897.8L1754,903.9L1750.2,897.8ZM1759,891.7L1762.8,897.8L1759,903.9L1755.2,897.8ZM1764,891.7L1767.8,897.8L1764,903.9L1760.2,897.8Z" fill="#3d3d3d"/>
<line x1="1409.6" y1="972.8" x2="1538.4" y2="972.8" stroke="#404040" stroke-width="2.4"/>
<line x1="1625.2" y1="972.8" x2="1752" y2="972.8" stroke="#404040" stroke-width="2.4"/>
<line x1="1409.6" y1="957.2" x2="1409.6" y2="988.4" stroke="#404040" stroke-width="2.4"/>
<line x1="1752" y1="957.2" x2="1752" y2="988.4" stroke="#404040" stroke-width="2.4"/>
<line x1="1579.2" y1="942.8" x2="1579.2" y2="1002.8" stroke="#404040" stroke-width="2.4"/>
<path d="M1227.2,966.7L1231,972.8L1227.2,978.9L1223.5,972.8ZM1234,966.7L1237.8,972.8L1234,978.9L1230.2,972.8ZM1240,966.7L1243.8,972.8L1240,978.9L1236.2,972.8ZM1252,966.7L1255.8,972.8L1252,978.9L1248.2,972.8ZM1260,966.7L1263.8,972.8L1260,978.9L1256.2,972.8ZM1263.2,966.7L1267,972.8L1263.2,978.9L1259.5,972.8ZM1266.5,966.7L1270.2,972.8L1266.5,978.9L1262.7,972.8ZM1269.7,966.7L1273.4,972.8L1269.7,978.9L1265.9,972.8ZM1272.9,966.7L1276.7,972.8L1272.9,978.9L1269.2,972.8ZM1276.2,966.7L1279.9,972.8L1276.2,978.9L1272.4,972.8ZM1279.4,966.7L1283.1,972.8L1279.4,978.9L1275.6,972.8ZM1282.6,966.7L1286.4,972.8L1282.6,978.9L1278.9,972.8ZM1285.8,966.7L1289.6,972.8L1285.8,978.9L1282.1,972.8ZM1289.1,966.7L1292.8,972.8L1289.1,978.9L1285.3,972.8ZM1292.3,966.7L1296.1,972.8L1292.3,978.9L1288.6,972.8ZM1295.5,966.7L1299.3,972.8L1295.5,978.9L1291.8,972.8ZM1298.8,966.7L1302.5,972.8L1298.8,978.9L1295,972.8ZM1302,966.7L1305.8,972.8L1302,978.9L1298.2,972.8ZM1307,966.7L1310.8,972.8L1307,978.9L1303.2,972.8ZM1310.1,966.7L1313.9,972.8L1310.1,978.9L1306.4,972.8ZM1313.2,966.7L1317,972.8L1313.2,978.9L1309.5,972.8ZM1316.3,966.7L1320.1,972.8L1316.3,978.9L1312.6,972.8ZM1319.4,966.7L1323.2,972.8L1319.4,978.9L1315.7,972.8ZM1322.6,966.7L1326.3,972.8L1322.6,978.9L1318.8,972.8ZM1325.7,966.7L1329.4,972.8L1325.7,978.9L1321.9,972.8ZM1328.8,966.7L1332.5,972.8L1328.8,978.9L1325,972.8ZM1331.9,966.7L1335.6,972.8L1331.9,978.9L1328.1,972.8ZM1335,966.7L1338.8,972.8L1335,978.9L1331.2,972.8ZM1341,966.7L1344.8,972.8L1341,978.9L1337.2,972.8ZM1344.2,966.7L1347.9,972.8L1344.2,978.9L1340.4,972.8ZM1347.4,966.7L1351.1,972.8L1347.4,978.9L1343.6,972.8ZM1350.6,966.7L1354.3,972.8L1350.6,978.9L1346.8,972.8ZM1353.8,966.7L1357.5,972.8L1353.8,978.9L1350,972.8ZM1357,966.7L1360.7,972.8L1357,978.9L1353.2,972.8ZM1360.1,966.7L1363.9,972.8L1360.1,978.9L1356.4,972.8ZM1363.3,966.7L1367.1,972.8L1363.3,978.9L1359.6,972.8ZM1366.5,966.7L1370.3,972.8L1366.5,978.9L1362.8,972.8ZM1369.7,966.7L1373.5,972.8L1369.7,978.9L1366,972.8ZM1372.9,966.7L1376.7,972.8L1372.9,978.9L1369.2,972.8ZM1376.1,966.7L1379.8,972.8L1376.1,978.9L1372.3,972.8ZM1379.3,966.7L1383,972.8L1379.3,978.9L1375.5,972.8ZM1382.5,966.7L1386.2,972.8L1382.5,978.9L1378.7,972.8ZM1385.7,966.7L1389.4,972.8L1385.7,978.9L1381.9,972.8ZM1388.9,966.7L1392.6,972.8L1388.9,978.9L1385.1,972.8ZM1392,966.7L1395.8,972.8L1392,978.9L1388.3,972.8ZM1395.2,966.7L1399,972.8L1395.2,978.9L1391.5,972.8ZM1398.4,966.7L1402.2,972.8L1398.4,978.9L1394.7,972.8ZM1401.6,966.7L1405.4,972.8L1401.6,978.9L1397.9,972.8ZM1404.8,966.7L1408.6,972.8L1404.8,978.9L1401.1,972.8ZM1408,966.7L1411.8,972.8L1408,978.9L1404.2,972.8ZM1762,966.7L1765.8,972.8L1762,978.9L1758.2,972.8ZM1767.5,966.7L1771.2,972.8L1767.5,978.9L1763.8,972.8ZM1773,966.7L1776.8,972.8L1773,978.9L1769.2,972.8ZM1778.5,966.7L1782.2,972.8L1778.5,978.9L1774.8,972.8ZM1784,966.7L1787.8,972.8L1784,978.9L1780.2,972.8ZM1811.2,966.7L1815,972.8L1811.2,978.9L1807.5,972.8ZM1838,966.7L1841.8,972.8L1838,978.9L1834.2,972.8ZM1843,966.7L1846.8,972.8L1843,978.9L1839.2,972.8ZM1848,966.7L1851.8,972.8L1848,978.9L1844.2,972.8ZM1880,966.7L1883.8,972.8L1880,978.9L1876.2,972.8Z" fill="#3d3d3d"/>
<line x1="1351.6" y1="1047.8" x2="1479.2" y2="1047.8" stroke="#404040" stroke-width="2.4"/>
<line x1="1564.8" y1="1047.8" x2="1691.6" y2="1047.8" stroke="#404040" stroke-width="2.4"/>
<line x1="1351.6" y1="1032.2" x2="1351.6" y2="1063.4" stroke="#404040" stroke-width="2.4"/>
<line x1="1691.6" y1="1032.2" x2="1691.6" y2="1063.4" stroke="#404040" stroke-width="2.4"/>
<line x1="1528" y1="1017.8" x2="1528" y2="1077.8" stroke="#404040" stroke-width="2.4"/>
<path d="M1234,1041.7L1237.8,1047.8L1234,1053.9L1230.2,1047.8ZM1272,1041.7L1275.8,1047.8L1272,1053.9L1268.2,1047.8ZM1279,1041.7L1282.8,1047.8L1279,1053.9L1275.2,1047.8ZM1281,1041.7L1284.8,1047.8L1281,1053.9L1277.2,1047.8ZM1304.8,1041.7L1308.5,1047.8L1304.8,1053.9L1301,1047.8ZM1315,1041.7L1318.8,1047.8L1315,1053.9L1311.2,1047.8ZM1318,1041.7L1321.8,1047.8L1318,1053.9L1314.2,1047.8ZM1321,1041.7L1324.8,1047.8L1321,1053.9L1317.2,1047.8ZM1328.8,1041.7L1332.5,1047.8L1328.8,1053.9L1325,1047.8ZM1334,1041.7L1337.8,1047.8L1334,1053.9L1330.2,1047.8ZM1336.8,1041.7L1340.6,1047.8L1336.8,1053.9L1333.1,1047.8ZM1339.7,1041.7L1343.4,1047.8L1339.7,1053.9L1335.9,1047.8ZM1342.5,1041.7L1346.2,1047.8L1342.5,1053.9L1338.8,1047.8ZM1345.3,1041.7L1349.1,1047.8L1345.3,1053.9L1341.6,1047.8ZM1348.2,1041.7L1351.9,1047.8L1348.2,1053.9L1344.4,1047.8ZM1351,1041.7L1354.8,1047.8L1351,1053.9L1347.2,1047.8ZM1694,1041.7L1697.8,1047.8L1694,1053.9L1690.2,1047.8ZM1699,1041.7L1702.8,1047.8L1699,1053.9L1695.2,1047.8ZM1704,1041.7L1707.8,1047.8L1704,1053.9L1700.2,1047.8ZM1724,1041.7L1727.8,1047.8L1724,1053.9L1720.2,1047.8ZM1728,1041.7L1731.8,1047.8L1728,1053.9L1724.2,1047.8ZM1751.2,1041.7L1755,1047.8L1751.2,1053.9L1747.5,1047.8Z" fill="#3d3d3d"/>
<line x1="1418.8" y1="1122.8" x2="1484.8" y2="1122.8" stroke="#404040" stroke-width="2.4"/>
<line x1="1532" y1="1122.8" x2="1600.4" y2="1122.8" stroke="#404040" stroke-width="2.4"/>
<line x1="1418.8" y1="1107.2" x2="1418.8" y2="1138.4" stroke="#404040" stroke-width="2.4"/>
<line x1="1600.4" y1="1107.2" x2="1600.4" y2="1138.4" stroke="#404040" stroke-width="2.4"/>
<line x1="1507.2" y1="1092.8" x2="1507.2" y2="1152.8" stroke="#404040" stroke-width="2.4"/>
<path d="M1386.8,1116.7L1390.5,1122.8L1386.8,1128.9L1383,1122.8ZM1404,1116.7L1407.8,1122.8L1404,1128.9L1400.2,1122.8ZM1602,1116.7L1605.8,1122.8L1602,1128.9L1598.2,1122.8ZM1610,1116.7L1613.8,1122.8L1610,1128.9L1606.2,1122.8ZM1620,1116.7L1623.8,1122.8L1620,1128.9L1616.2,1122.8ZM1638,1116.7L1641.8,1122.8L1638,1128.9L1634.2,1122.8ZM1640,1116.7L1643.8,1122.8L1640,1128.9L1636.2,1122.8Z" fill="#3d3d3d"/>
<line x1="1440.4" y1="1197.8" x2="1536" y2="1197.8" stroke="#404040" stroke-width="2.4"/>
<line x1="1600.4" y1="1197.8" x2="1694.8" y2="1197.8" stroke="#404040" stroke-width="2.4"/>
<line x1="1440.4" y1="1182.2" x2="1440.4" y2="1213.4" stroke="#404040" stroke-width="2.4"/>
<line x1="1694.8" y1="1182.2" x2="1694.8" y2="1213.4" stroke="#404040" stroke-width="2.4"/>
<line x1="1564.4" y1="1167.8" x2="1564.4" y2="1227.8" stroke="#404040" stroke-width="2.4"/>
<path d="M1346,1191.7L1349.8,1197.8L1346,1203.9L1342.2,1197.8ZM1404,1191.7L1407.8,1197.8L1404,1203.9L1400.2,1197.8ZM1411,1191.7L1414.8,1197.8L1411,1203.9L1407.2,1197.8ZM1415,1191.7L1418.8,1197.8L1415,1203.9L1411.2,1197.8ZM1418,1191.7L1421.8,1197.8L1418,1203.9L1414.2,1197.8ZM1422,1191.7L1425.8,1197.8L1422,1203.9L1418.2,1197.8ZM1431,1191.7L1434.8,1197.8L1431,1203.9L1427.2,1197.8ZM1436,1191.7L1439.8,1197.8L1436,1203.9L1432.2,1197.8ZM1696,1191.7L1699.8,1197.8L1696,1203.9L1692.2,1197.8ZM1699.2,1191.7L1702.9,1197.8L1699.2,1203.9L1695.4,1197.8ZM1702.3,1191.7L1706.1,1197.8L1702.3,1203.9L1698.6,1197.8ZM1705.5,1191.7L1709.2,1197.8L1705.5,1203.9L1701.8,1197.8ZM1708.7,1191.7L1712.4,1197.8L1708.7,1203.9L1704.9,1197.8ZM1711.8,1191.7L1715.6,1197.8L1711.8,1203.9L1708.1,1197.8ZM1715,1191.7L1718.8,1197.8L1715,1203.9L1711.2,1197.8ZM1719,1191.7L1722.8,1197.8L1719,1203.9L1715.2,1197.8ZM1722.7,1191.7L1726.4,1197.8L1722.7,1203.9L1718.9,1197.8ZM1726.3,1191.7L1730.1,1197.8L1726.3,1203.9L1722.6,1197.8ZM1730,1191.7L1733.8,1197.8L1730,1203.9L1726.2,1197.8ZM1734,1191.7L1737.8,1197.8L1734,1203.9L1730.2,1197.8ZM1737.2,1191.7L1740.9,1197.8L1737.2,1203.9L1733.4,1197.8ZM1740.4,1191.7L1744.1,1197.8L1740.4,1203.9L1736.6,1197.8ZM1743.5,1191.7L1747.3,1197.8L1743.5,1203.9L1739.8,1197.8ZM1746.7,1191.7L1750.5,1197.8L1746.7,1203.9L1743,1197.8ZM1749.9,1191.7L1753.7,1197.8L1749.9,1203.9L1746.2,1197.8ZM1753.1,1191.7L1756.8,1197.8L1753.1,1203.9L1749.3,1197.8ZM1756.3,1191.7L1760,1197.8L1756.3,1203.9L1752.5,1197.8ZM1759.5,1191.7L1763.2,1197.8L1759.5,1203.9L1755.7,1197.8ZM1762.6,1191.7L1766.4,1197.8L1762.6,1203.9L1758.9,1197.8ZM1765.8,1191.7L1769.6,1197.8L1765.8,1203.9L1762.1,1197.8ZM1769,1191.7L1772.8,1197.8L1769,1203.9L1765.2,1197.8ZM1773.5,1191.7L1777.2,1197.8L1773.5,1203.9L1769.8,1197.8ZM1779.5,1191.7L1783.2,1197.8L1779.5,1203.9L1775.8,1197.8ZM1785,1191.7L1788.8,1197.8L1785,1203.9L1781.2,1197.8ZM1790,1191.7L1793.8,1197.8L1790,1203.9L1786.2,1197.8ZM1793,1191.7L1796.8,1197.8L1793,1203.9L1789.2,1197.8ZM1796,1191.7L1799.8,1197.8L1796,1203.9L1792.2,1197.8ZM1799,1191.7L1802.8,1197.8L1799,1203.9L1795.2,1197.8ZM1802,1191.7L1805.8,1197.8L1802,1203.9L1798.2,1197.8ZM1810.6,1191.7L1814.3,1197.8L1810.6,1203.9L1806.8,1197.8ZM1820,1191.7L1823.8,1197.8L1820,1203.9L1816.2,1197.8ZM1853.8,1191.7L1857.5,1197.8L1853.8,1203.9L1850,1197.8ZM1859.4,1191.7L1863.2,1197.8L1859.4,1203.9L1855.7,1197.8ZM1890.6,1191.7L1894.3,1197.8L1890.6,1203.9L1886.8,1197.8ZM1901.3,1191.7L1905,1197.8L1901.3,1203.9L1897.5,1197.8ZM1913,1191.7L1916.8,1197.8L1913,1203.9L1909.2,1197.8ZM1926.3,1191.7L1930,1197.8L1926.3,1203.9L1922.5,1197.8Z" fill="#3d3d3d"/>
<rect x="1192.5" y="785.6" width="768.7" height="448.4" fill="none" stroke="#2e2e2e" stroke-width="1.6"/>
<line x1="1206.8" y1="1234" x2="1206.8" y2="1239" stroke="#2e2e2e" stroke-width="1.5"/>
<text x="1206.8" y="1264.6" font-family="'DejaVu Sans', sans-serif" font-size="27.8" text-anchor="middle" fill="#000">−0.6</text>
<line x1="1312" y1="1234" x2="1312" y2="1239" stroke="#2e2e2e" stroke-width="1.5"/>
<text x="1312" y="1264.6" font-family="'DejaVu Sans', sans-serif" font-size="27.8" text-anchor="middle" fill="#000">−0.4</text>
<line x1="1417.2" y1="1234" x2="1417.2" y2="1239" stroke="#2e2e2e" stroke-width="1.5"/>
<text x="1417.2" y="1264.6" font-family="'DejaVu Sans', sans-serif" font-size="27.8" text-anchor="middle" fill="#000">−0.2</text>
<line x1="1522.4" y1="1234" x2="1522.4" y2="1239" stroke="#2e2e2e" stroke-width="1.5"/>
<text x="1522.4" y="1264.6" font-family="'DejaVu Sans', sans-serif" font-size="27.8" text-anchor="middle" fill="#000">0.0</text>
<line x1="1627.6" y1="1234" x2="1627.6" y2="1239" stroke="#2e2e2e" stroke-width="1.5"/>
<text x="1627.6" y="1264.6" font-family="'DejaVu Sans', sans-serif" font-size="27.8" text-anchor="middle" fill="#000">0.2</text>
<line x1="1732.8" y1="1234" x2="1732.8" y2="1239" stroke="#2e2e2e" stroke-width="1.5"/>
<text x="1732.8" y="1264.6" font-family="'DejaVu Sans', sans-serif" font-size="27.8" text-anchor="middle" fill="#000">0.4</text>
<line x1="1838" y1="1234" x2="1838" y2="1239" stroke="#2e2e2e" stroke-width="1.5"/>
<text x="1838" y="1264.6" font-family="'DejaVu Sans', sans-serif" font-size="27.8" text-anchor="middle" fill="#000">0.6</text>
<line x1="1943.2" y1="1234" x2="1943.2" y2="1239" stroke="#2e2e2e" stroke-width="1.5"/>
<text x="1943.2" y="1264.6" font-family="'DejaVu Sans', sans-serif" font-size="27.8" text-anchor="middle" fill="#000">0.8</text>
<line x1="1187.5" y1="822.8" x2="1192.5" y2="822.8" stroke="#2e2e2e" stroke-width="1.5"/>
<text x="1183.8" y="833.5" font-family="'DejaVu Sans', sans-serif" font-size="27.8" text-anchor="end" fill="#000">Fatalities</text>
<line x1="1187.5" y1="897.8" x2="1192.5" y2="897.8" stroke="#2e2e2e" stroke-width="1.5"/>
<text x="1183.8" y="908.5" font-family="'DejaVu Sans', sans-serif" font-size="27.8" text-anchor="end" fill="#000">WS</text>
<line x1="1187.5" y1="972.8" x2="1192.5" y2="972.8" stroke="#2e2e2e" stroke-width="1.5"/>
<text x="1183.8" y="983.5" font-family="'DejaVu Sans', sans-serif" font-size="27.8" text-anchor="end" fill="#000">%EduExp</text>
<line x1="1187.5" y1="1047.8" x2="1192.5" y2="1047.8" stroke="#2e2e2e" stroke-width="1.5"/>
<text x="1183.8" y="1058.5" font-family="'DejaVu Sans', sans-serif" font-size="27.8" text-anchor="end" fill="#000">gHM</text>
<line x1="1187.5" y1="1122.8" x2="1192.5" y2="1122.8" stroke="#2e2e2e" stroke-width="1.5"/>
<text x="1183.8" y="1133.5" font-family="'DejaVu Sans', sans-serif" font-size="27.8" text-anchor="end" fill="#000">kNDVI</text>
<line x1="1187.5" y1="1197.8" x2="1192.5" y2="1197.8" stroke="#2e2e2e" stroke-width="1.5"/>
<text x="1183.8" y="1208.5" font-family="'DejaVu Sans', sans-serif" font-size="27.8" text-anchor="end" fill="#000">Area</text>
<text x="1576.6" y="1296.6" font-family="'DejaVu Sans', sans-serif" font-size="27.5" text-anchor="middle" fill="#000">Average Causal Effect</text>
</svg>
</body></html>
